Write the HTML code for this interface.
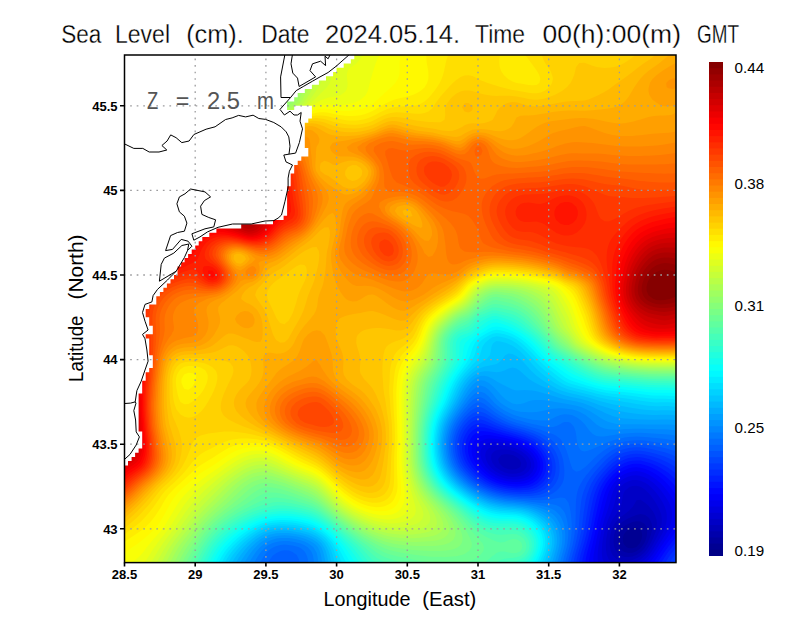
<!DOCTYPE html>
<html><head><meta charset="utf-8"><title>Sea Level</title>
<style>html,body{margin:0;padding:0;background:#fff}svg{display:block}text{font-family:"Liberation Sans",sans-serif}</style></head><body>
<svg width="800" height="618" viewBox="0 0 800 618">
<rect width="800" height="618" fill="#fff"/>
<defs><clipPath id="c"><rect x="124.5" y="55" width="551.5" height="507.6"/></clipPath></defs>
<g clip-path="url(#c)" shape-rendering="geometricPrecision">
<rect x="122.5" y="53" width="555.5" height="511.6" fill="#000086"/>
<path fill="#000093" d="M680.5 51l0 516 -560 0 0-516z"/>
<path fill="#00009f" d="M680.5 51l0 516 -560 0 0-516zM626.5 531l-2 2.4 -0.9 1.6 -0.8 4 0.6 4 1.1 2.1 1.9 1.9 2.1 1.1 4 0.2 3.9-1.3 3.6-4 1.6-4 0.6-4 -0.8-4 -0.9-1.3 -4-2.3 -4 0.4 -4 1.7z"/>
<path fill="#0000ac" d="M680.5 51l0 516 -560 0 0-516zM630.3 523l-1.8 0.7 -4 2.3 -1.2 1 -2.8 3 -2.2 5 -0.6 4 0.3 4 1.3 4 1.2 1.8 2.3 2.2 1.7 1 4 1 4-0.3 4-1.4 4-3 1.1-1.3 2.7-4 1.6-4 1-4 0.3-4 -0.7-4 -2-3.3 -4-2.3 -4-0.1 -4 0.8z"/>
<path fill="#0000b9" d="M680.5 51l0 516 -560 0 0-516zM636.4 515l-3.9 1.4 -4 1.9 -4 2.2 -3.5 2.5 -3.7 4 -0.8 1.3 -1.3 2.7 -1.1 4 -0.5 4 0 4 0.7 4 1.7 4 3.8 4 4.7 1.9 4 0.2 4-0.7 3.8-1.4 4.2-2.7 1.5-1.3 2.5-2.8 3.1-5.2 0.9-2 0.9-2 1.4-4 1-4 0.4-4 -0.7-4 -1.9-4 -1.1-1.5 -3.4-2.5 -4.6-1 -4 1z"/>
<path fill="#0000c6" d="M680.5 51l0 516 -560 0 0-516zM501.3 455l-3.1 4 0.9 4 1.4 1.6 2.6 2.4 1.4 0.8 4 1.5 4 0.5 4-0.7 3.7-2.1 1.1-4 -0.8-1.6 -1.4-2.4 -2.6-2 -3.8-2 -4.2-0.8 -4 0zM635.1 503l-2.6 4 -3.8 4 -4.2 3.2 -4 3.1 -1.8 1.7 -2.2 2.2 -1.3 1.8 -2.4 4 -1.5 4 -1 4 -0.5 4 -0.2 4 0.3 4 0.9 4 1.7 3.9 4 4.1 4 1.7 4 0.6 4-0.3 4-1 2.2-1 1.8-0.7 4-2.4 1.1-0.9 2.9-2.6 1.2-1.4 2.8-4 2.2-4 1.8-3.6 1.9-4.4 1.5-4 0.6-2.9 0.4-5.1 -0.4-3.3 -1.6-4.7 -2.2-4 -3.3-4 -0.9-1.3 -3.2-2.7 -4.8-3.3 -4 0.6z"/>
<path fill="#0000d2" d="M680.5 51l0 516 -560 0 0-516zM494.7 451l-2.2 2.1 -1.2 1.9 -0.2 4 1.4 4 3.1 4 4.9 3.5 4 1.8 4 1.1 4 0.4 4-0.2 4-1.2 2.8-1.4 1.2-1.2 2.1-2.8 0.3-4 -1.7-4 -4-4 -4.7-2.8 -2.9-1.2 -5.1-1.2 -4-0.4 -4 0.1 -4 0.7zM629.5 487l-4.8 4 -1.7 4 -0.7 4 -0.6 4 -1.1 4 -2.1 4 -2 2.5 -0.9 1.5 -2.9 4 -2.1 4 -1.7 4 -1.2 4 -0.8 4 -0.6 4 -0.4 4 -0.1 4 0.3 4 0.8 4 1.6 3.9 3.8 4.1 4.2 2.1 4 0.7 4-0.1 4-0.7 4-1.3 4-1.9 4-2.4 4-3.3 1.1-1.1 2.9-3.4 3-4.6 1-1.8 1.3-2.2 2.1-4 2-4 1.8-4 0.8-2.7 1.2-5.3 0.1-4 -0.5-4 -0.8-2.6 -2.4-5.4 -1.6-2.9 -3.2-5.1 -3-4 -1.8-2 -2-2 -2-1.7 -3.4-2.3 -4.6-1.3 -4 0.2z"/>
<path fill="#0000df" d="M680.5 51l0 516 -46.8 0 2.8-1.4 3.9-2.6 4.1-3.2 4-4.1 3.5-4.7 2.5-4 2-3.4 2.8-4.6 1.2-2.3 1-1.7 2-4 1-2.5 0.6-1.5 1.2-4 0.5-4 0-4 -0.6-4 -1.3-4 -1.9-4 -2.4-4 -2.7-4 -1.4-1.8 -1.8-2.2 -2.2-2.3 -1.7-1.7 -2.3-1.9 -3-2.1 -5-2.3 -4-0.8 -4 0.2 -4 1.1 -3.6 1.8 -4.4 3.7 -2.5 4.3 -1.5 3.8 -1 4.2 -0.9 4 -1.1 4 -1 2.3 -0.6 1.7 -1.8 4 -1.6 3.4 -1.7 4.6 -1.3 4 -1 3.7 -0.9 4.3 -0.7 4 -0.5 4 -0.4 4 -0.2 4 0.1 4 0.7 4 1.6 4 3.2 4 -486.9 0 0-516zM490.5 447l-2 1.4 -2.3 2.6 -1 4 0.6 4 1.8 4 0.9 1.4 1.9 2.6 2.1 2 2.4 2 1.6 1 4 2.1 2.2 0.9 1.8 0.6 4 0.9 4 0.4 4-0.1 4-0.7 3.2-1.1 4.8-3.5 2.5-4.5 0.1-4 -1.6-4 -1-1.4 -2.2-2.6 -1.8-1.6 -3.4-2.4 -4.6-2.2 -4-1.5 -4-0.9 -4-0.6 -4-0.3 -4 0.1 -4 0.6z"/>
<path fill="#0000ec" d="M680.5 51l0 516 -40 0 4-3.3 4-4 3.8-4.7 2.8-4 1.4-2.3 1.1-1.7 2.5-4 2.6-4 1.8-2.9 3-5.1 1-2.1 0.9-1.9 1.5-4 0.8-4 0.4-4 -0.3-4 -0.9-4 -1.7-4 -0.7-1.3 -1.5-2.7 -2.5-3.7 -3.2-4.3 -3.5-4 -1.3-1.3 -2.9-2.7 -5.1-3.7 -4-2 -4-1.4 -4-0.6 -4 0.2 -4 1 -4 1.8 -4 2.8 -2 1.9 -2 2.3 -1.2 1.7 -2.1 4 -0.7 1.9 -0.7 2.1 -1.1 4 -1.1 4 -1.1 3.9 -1.2 4.1 -1.4 4 -1.4 4 -1.1 4 -1.1 4 -1 4 -0.8 4 -0.8 4 -0.7 4 -0.6 4 -0.5 4 -0.3 4 0 4 0.7 4 1.5 4 -479.3 0 0-516zM487.6 443l-3.1 1.6 -2.4 2.4 -1.6 3.5 -0.2 4.5 1 4 2 4 1.2 1.8 1.6 2.2 2.4 2.5 1.5 1.5 2.5 1.8 3.4 2.2 4.6 2 4 1.3 3 0.7 5 0.6 4 0 4-0.5 4-1.1 4-2.1 1.1-0.9 2.9-3.2 2-4.8 -0.1-4 -1.3-4 -2.7-4 -1.9-2 -2.4-2 -1.6-1.1 -4-2.3 -4-1.7 -4-1.3 -4-1 -3.1-0.6 -4.9-0.7 -4-0.3 -4 0.1 -4 0.6z"/>
<path fill="#0000f9" d="M680.5 51l0 516 -34.9 0 2.9-3 4-4.8 3.1-4.2 0.9-1.4 1.7-2.6 2.3-3.5 3.1-4.5 0.9-1.4 1.9-2.6 2.1-3.2 3.2-4.8 0.8-1.5 1.4-2.5 1.5-4 1.1-4 0.5-4 0-4 -0.5-3.2 -1.6-4.8 -2-4 -2.6-4 -1.8-2.4 -1.2-1.6 -2.8-3.5 -4-4.2 -4-3.5 -4-2.9 -3.1-1.9 -4.9-2.2 -4-1.2 -4-0.5 -4 0.3 -4 1 -4 1.7 -1.5 0.9 -2.5 1.6 -2.9 2.4 -1.1 1.1 -2.6 2.9 -1.4 2 -1.3 2 -1.9 4 -0.8 2 -0.7 2 -1.1 4 -1.1 4 -1.1 4 -1 4 -1.1 4 -1.2 4 -0.7 2.7 -1.2 5.3 -0.9 4 -0.9 4 -0.8 4 -0.8 4 -0.9 4 -0.7 4 -0.7 4 -0.3 4 0.2 4 0.8 4 -473.8 0 0-516zM485.9 439l-5.4 2.3 -1.9 1.7 -2.1 3.5 -0.9 4.5 0.4 4 0.5 1.7 0.7 2.3 2.1 4 1.2 1.7 1.6 2.3 2.4 2.6 1.3 1.4 2.7 2.2 2.4 1.8 1.6 0.9 4 2.1 2.3 1 1.7 0.6 4 1.1 4 0.8 4 0.4 4 0.1 4-0.3 4-0.9 4-1.5 4-2.8 1.4-1.5 2.6-4 1-4 -0.1-4 -0.9-3.2 -2.6-4.8 -1.4-1.7 -2.2-2.3 -1.8-1.5 -3.7-2.5 -4.3-2.1 -4-1.6 -4-1.3 -4-0.9 -4-0.8 -4-0.8 -3.7-0.5 -4.3-0.4 -4 0z"/>
<path fill="#0006ff" d="M680.5 51l0 452 -2.1-4 -1.9-3.2 -3.4-4.8 -3.1-4 -1.5-1.7 -2.1-2.3 -1.9-1.9 -2.3-2.1 -1.7-1.4 -3.5-2.6 -4.5-2.7 -2.4-1.3 -1.6-0.7 -4-1.6 -4-1 -4-0.4 -4 0.3 -4 1 -4 1.6 -1.4 0.8 -2.6 1.5 -3.2 2.5 -4.1 4 -3.2 4 -1.5 2.4 -1 1.6 -1.8 4 -1.2 3.2 -1.4 4.8 -1.1 4 -0.9 4 -0.6 2.2 -0.4 1.8 -1 4 -1 4 -0.9 4 -0.7 3.3 -1 4.7 -0.9 4 -0.9 4 -0.9 4 -1 4 -0.9 4 -0.9 4 -0.7 4 -0.1 4 0.5 4 -469.2 0 0-516zM475.8 439l-2.8 4 -0.5 1.5 -0.7 2.5 -0.2 4 0.5 4 1.4 4 2.1 4 0.9 1.2 2 2.8 2 2.3 1.5 1.7 2.5 2.2 2.2 1.8 1.8 1.2 4 2.4 4 1.9 4 1.4 3.9 1.1 4.1 0.7 4 0.4 4 0.2 4-0.2 4-0.6 1.7-0.5 2.3-0.8 4-2.1 1.5-1.1 2.5-2.6 1.1-1.4 2-4 0.8-4 -0.1-4 -1.1-4 -2.1-4 -3.2-4 -1.4-1.4 -3.2-2.6 -4.8-2.8 -2.6-1.2 -1.4-0.6 -4-1.4 -4-1.3 -2.8-0.7 -5.2-1.2 -4-0.8 -4-0.8 -4-0.7 -4-0.4 -4-0.1 -4 0.9 -4 2.3zM680.5 521.1l0 45.9 -30.4 0 2.4-2.9 3.7-5.1 2.7-4 1.6-2.4 1.1-1.6 2.7-4 2.9-4 1.3-1.7 1.8-2.3 2.2-3 3.6-5 2.2-4 1.7-4z"/>
<path fill="#0013ff" d="M680.5 51l0 442.2 -1.5-2.2 -2.5-3.2 -4-4.8 -3.9-4 -4.1-3.6 -4-2.9 -2.4-1.5 -1.6-0.9 -4-2.1 -2.3-1 -1.7-0.7 -4-1.3 -4-0.9 -4-0.4 -4 0.4 -4 0.9 -4 1.5 -4 2.2 -3.2 2.3 -4.5 4 -3.6 4 -2.9 4 -1.8 3.1 -2.3 4.9 -1.4 4 -1.1 4 -1 4 -0.9 4 -0.9 4 -0.9 4 -0.9 4 -0.8 4 -0.8 4 -0.8 4 -0.9 4 -0.9 4 -1.1 4 -1.1 4 -1.1 4 -1 4 -0.8 4 -0.3 4 0.2 4 -465.2 0 0-516zM473.6 435l-1.1 1.1 -1.9 2.9 -1.8 4 -0.7 4 -0.1 4 0.5 2.9 1.6 5.1 2.1 4 2.8 4 1.5 1.7 2 2.3 2 1.9 2.4 2.1 1.6 1.2 4 2.7 4 2.1 4 1.7 4 1.3 4 1 4 0.7 4 0.5 4 0.2 4-0.1 4-0.5 4-0.9 4-1.6 4-2.8 1.6-1.5 2.4-3.2 2.1-4.8 0.7-4 -0.2-4 -1-4 -1.6-3.3 -3.2-4.7 -4-4 -4.8-3.3 -1.3-0.7 -2.7-1.3 -4-1.6 -3.1-1.1 -4.9-1.5 -4-1 -4-1 -2.1-0.5 -1.9-0.5 -4-0.9 -4-1 -4-0.8 -4-0.6 -4 0.1 -4 1.5zM680.5 531.1l0 35.9 -26.2 0 2.2-3 3.3-5 2.6-4 2.1-3.1 3.5-4.9 3.2-4 1.3-1.7 2-2.3 2-2.5 1.2-1.5z"/>
<path fill="#0020ff" d="M680.5 51l0 434.1 -1.8-2.1 -2.2-2.4 -1.4-1.6 -2.6-2.5 -1.7-1.5 -2.3-1.9 -2.9-2.1 -5.1-3.1 -1.6-0.9 -2.4-1.2 -4-1.7 -2.7-1.1 -5.3-1.6 -4-0.8 -4-0.2 -4 0.3 -4 0.8 -4 1.4 -4 2 -3.1 2.1 -4.7 4 -3.9 4 -3.3 4 -1 1.4 -1.7 2.6 -2.2 4 -1.7 4 -1.4 4 -1 3.7 -1.1 4.3 -0.8 4 -0.9 4 -0.8 4 -0.4 2.3 -1 5.7 -0.8 4 -0.8 4 -0.9 4 -0.5 2 -0.5 2 -1.1 4 -1.1 4 -1.2 4 -1.1 4 -0.9 4 -0.4 4 0 4 -461.7 0 0-516zM472 431l-3.4 4 -2 4 -1.2 4 -0.6 4 0.1 4 0.8 4 1.3 4 1.5 3.1 3.2 4.9 3.5 4 1.3 1.3 2.9 2.7 1.1 0.9 4 3 4 2.4 3.4 1.7 4.6 1.8 4 1.2 3.8 1 4.2 0.7 4 0.4 4 0.3 4-0.1 4-0.3 4-0.6 4-1.3 4-2.1 1.4-1 2.6-2.4 1.4-1.6 2.4-4 1.4-4 0.5-4 -0.2-4 -1-4 -1.8-4 -2.6-4 -3.7-4 -4.4-3.5 -4-2.3 -4-1.8 -4-1.5 -4-1.3 -4-1.2 -4-1.1 -4-1.1 -4-1.1 -4-1.1 -4-1.2 -4-1.2 -4-1 -4-0.4 -4 0.8 -4 2.5zM680.5 537.3l0 29.7 -20 0 0-3.1 3-4.9 1-1.5 1.6-2.5 2.4-3.4 3.6-4.6 3.4-4 1-1.2 2.6-2.8z"/>
<path fill="#002dff" d="M680.5 51l0 426.7 -2.8-2.7 -1.2-1.1 -3.5-2.9 -4.5-3.1 -1.4-0.9 -2.6-1.5 -4-2 -4-1.7 -4-1.6 -3.8-1.2 -4.2-1.1 -4-0.6 -4-0.2 -4 0.3 -4 0.7 -2.7 0.9 -5.3 2.3 -2.8 1.7 -1.2 0.8 -3.9 3.2 -4.1 4 -3.5 4 -3.2 4 -1.3 2 -1.3 2 -2 4 -0.7 1.7 -1 2.3 -1.3 4 -1.1 4 -0.6 2.7 -1.1 5.3 -0.8 4 -0.7 4 -0.7 4 -0.6 4 -0.7 4 -0.8 4 -0.9 4 -1 4 -0.7 2.5 -1.6 5.5 -1.2 4 -1.2 4 -0.9 4 -0.5 4 -0.1 4 -458.5 0 0-516zM471.1 427l-2.6 2.6 -1 1.4 -2.5 4 -1.6 4 -1 4 -0.4 4 0.2 4 0.7 4 1.2 4 2 4 2.4 3.7 3.6 4.3 4 4 4.4 3.6 4 2.7 3 1.7 5 2.3 4 1.5 4 1.2 4 0.8 4 0.7 4 0.5 4 0.3 4 0 4-0.2 4-0.4 4-1 4-1.5 4-2.6 1.8-1.6 2.2-2.6 1-1.4 2.1-4 0.9-3.1 0.7-4.9 -0.3-4 -0.4-1.8 -0.5-2.2 -1.7-4 -1.8-2.9 -4-5 -4-3.6 -4-2.7 -3.5-1.8 -4.5-1.9 -4-1.4 -2.2-0.7 -1.8-0.6 -4-1.1 -4-1.2 -3.9-1.1 -4.1-1.3 -4-1.3 -4-1.4 -4-1.6 -4-1.4 -4-0.8 -4 0.5 -4 2.1zM680.5 542.9l0 24.1 -16 0 0-2.9 3-5.1 1-1.5 1.7-2.5 2.3-3.1 4-4.8 3.9-4.1z"/>
<path fill="#0039ff" d="M680.5 51l0 420 -4-3.1 -1.2-0.9 -2.8-1.8 -3.8-2.2 -4.2-2 -4-1.7 -4-1.5 -4-1.3 -4-1.1 -1.9-0.4 -2.1-0.4 -4-0.6 -4-0.2 -4 0.3 -4 0.7 -4 1.2 -4 1.7 -2.3 1.3 -1.7 1 -4 3 -4 3.7 -4 4.3 -3.4 4 -3 4 -1.6 2.6 -0.9 1.4 -2 4 -1.1 2.9 -1.8 5.1 -1 4 -0.9 4 -0.3 1.8 -0.4 2.2 -0.7 4 -0.7 4 -0.6 4 -0.5 4 -0.6 4 -0.5 2.8 -1.2 5.2 -1 4 -1 4 -0.8 2.7 -1.6 5.3 -1.1 4 -1 4 -0.3 2.2 -0.3 1.8 -0.3 4 -455.4 0 0-516zM470.7 423l-2.2 1.9 -1.8 2.1 -2.2 2.9 -2.6 5.1 -1.4 3.8 -0.8 4.2 -0.3 4 0.2 4 0.7 4 1.3 4 1.8 4 1.1 1.9 1.4 2.1 2.6 3.3 4 4.2 4 3.5 1.2 1 2.8 2 3.1 2 4.9 2.5 3.4 1.5 4.6 1.6 4 1.2 4 0.9 2 0.3 2 0.3 4 0.5 4 0.3 4 0.1 4-0.1 4-0.3 4-0.6 4-1.2 4-1.9 1.7-1.1 2.3-1.9 2-2.1 2-2.8 2.5-5.2 1-4 0.3-4 -0.3-4 -0.9-4 -1.5-4 -1.1-1.8 -1.3-2.2 -2.7-3.4 -4-4.1 -4-3 -2.5-1.5 -1.5-0.8 -4-1.8 -3.6-1.4 -4.4-1.5 -4-1.2 -4-1.1 -4-1.3 -4-1.2 -4-1.4 -4-1.5 -4-1.7 -2.4-1.1 -1.6-0.8 -4-1.7 -4-1 -4 0.3 -4 1.8zM680.5 548.5l0 18.5 -12 0 0-2.1 1-1.9 2.3-4 3-4 1.7-2.1 1.7-1.9z"/>
<path fill="#0046ff" d="M680.5 51l0 412 -2.8 0 -5.2-3 -2.1-1 -1.9-0.8 -4-1.6 -4-1.4 -4-1.2 -4-1.1 -4-1 -4-0.7 -4-0.5 -4-0.2 -4 0.3 -4 0.6 -4 1.1 -4 1.5 -1.9 1 -2.1 1.1 -4 2.8 -4 3.4 -4 4.1 -4 4.3 -3.6 4.3 -2.8 4 -1.6 2.7 -0.8 1.3 -1.9 4 -1.3 3.4 -1.6 4.6 -1 4 -0.7 4 -0.6 4 -0.7 4 -0.5 4 -0.5 4 -0.5 4 -0.5 4 -0.6 4 -0.8 3.7 -1 4.3 -1 4 -1.1 4 -0.9 3 -1.4 5 -1 4 -0.7 4 -0.4 4 -452.5 0 0-516zM470.6 419l-2.1 1.6 -2.2 2.4 -1.8 2.1 -1.3 1.9 -2.4 4 -1.6 4 -1.2 4 -0.8 4 -0.2 4 0.3 4 0.7 4 1.2 4 1.3 3.2 2.8 4.8 1.2 1.6 1.9 2.4 2.1 2.3 1.7 1.7 2.3 2.1 2.2 1.9 1.8 1.4 3.6 2.6 4.4 2.5 3 1.5 5 2.1 4 1.3 2 0.6 2 0.5 4 0.9 4 0.6 4 0.5 4 0.3 4 0.2 4 0 4-0.1 4-0.4 4-0.8 4-1.3 4-2.2 2.9-2.2 1.1-1.2 2.4-2.8 1.6-2.6 0.8-1.4 1.5-4 0.7-4 0.2-4 -0.3-4 -0.9-4 -1.4-4 -2.2-4 -2.4-3.2 -4-4.4 -4-3.3 -1.6-1.1 -2.4-1.4 -4-2 -1.5-0.6 -2.5-1 -4-1.4 -4-1.3 -4-1.2 -4-1.1 -4-1.3 -2.1-0.7 -1.9-0.7 -4-1.5 -4-1.7 -4-2.1 -3.7-2 -4.3-2.2 -4-1.1 -4 0.2 -4 1.7zM680.5 554.7l0 12.3 -8 0 1.9-4 2.1-3.5 3.8-4.5z"/>
<path fill="#0053ff" d="M680.5 51l0 408 -4-2.1 -4-1.8 -4-1.6 -4-1.3 -4-1 -4-1 -4-0.9 -4-0.9 -4-0.7 -4-0.4 -4-0.1 -4 0.2 -4 0.6 -4 0.9 -4 1.4 -1.6 0.7 -2.4 1.1 -4 2.5 -4 3 -1.6 1.4 -2.4 2.3 -1.6 1.7 -2.4 2.6 -1.4 1.4 -2.6 2.9 -1 1.1 -3 3.8 -3 4.2 -1 1.8 -1.3 2.2 -1.8 4 -0.9 2.3 -0.7 1.7 -1.3 4 -0.9 4 -0.6 4 -0.4 4 -0.5 4 -0.4 4 -0.3 4 -0.3 4 -0.4 4 -0.6 4 -0.7 4 -0.8 4 -0.9 4 -1 4 -1.1 4 -1.1 3.7 -1.1 4.3 -0.8 4 -0.4 4 -449.7 0 0-516zM470.7 415l-2.2 1.6 -2.3 2.4 -1.7 1.8 -1.7 2.2 -2.3 3.4 -2.3 4.6 -1.6 4 -1 4 -0.6 4 -0.2 4 0.3 4 0.7 4 0.7 2.6 2.1 5.4 1.9 3.5 3.3 4.5 3.7 4 1 1 3.3 3 4.7 3.7 4 2.6 3 1.7 5 2.3 4 1.6 4 1.3 4 1 4 0.8 4 0.7 2.6 0.3 5.4 0.5 4 0.2 4 0.1 4 0.1 4-0.2 4-0.4 1.9-0.3 2.1-0.5 4-1.4 3.8-2.1 4.2-3.6 3.4-4.4 2-4 1.1-4 0.5-4 0-4 -0.4-4 -0.7-4 -1.4-4 -1.9-4 -2.6-3.8 -3.8-4.2 -4.2-3.6 -4-2.6 -3.4-1.8 -4.6-2 -4-1.4 -1.8-0.6 -2.2-0.8 -4-1.2 -4-1.1 -3.1-0.9 -4.9-1.7 -4-1.5 -2-0.8 -2-0.9 -4-2 -2-1.1 -2-1.3 -4-2.5 -4-2.2 -4-1.3 -4 0.1 -4 1.8zM680.5 562.8l0 4.2 -2.3 0 2.2-4z"/>
<path fill="#0060ff" d="M680.5 51l0 402.5 -4-1.8 -1.7-0.7 -2.3-0.8 -4-1.3 -4-1 -4-0.8 -4-0.7 -4-0.8 -4-0.8 -4-0.5 -4-0.4 -4-0.2 -4 0.3 -4 0.5 -4 0.8 -4 1.1 -1.5 0.6 -2.5 1 -4 2.1 -1.5 0.9 -2.5 1.7 -3 2.3 -4.4 4 -3.9 4 -3.8 4 -3.6 4 -1.3 1.7 -2.1 2.3 -1.9 2.8 -1 1.2 -2.4 4 -2.1 4 -1.4 4 -0.9 4 -0.2 1.8 -0.3 2.2 -0.3 4 -0.1 4 -0.1 4 0 4 -0.1 4 -0.1 4 -0.2 4 -0.4 4 -0.5 4 -0.6 4 -0.8 4 -0.5 2 -0.5 2 -1.1 4 -1.1 4 -1.1 4 -0.8 4 -0.6 4 -446.8 0 0-516zM470.6 411l-2.1 1.7 -2.2 2.3 -1.8 1.8 -1.7 2.2 -2.3 3 -2.9 5 -1.1 2.2 -0.8 1.8 -1.3 4 -1 4 -0.5 4 -0.2 4 0.3 4 0.7 4 1.2 4 1.5 4 2.1 4 2 2.9 0.9 1.1 3.1 3.6 4 3.9 4 3.3 1.5 1.2 2.5 1.8 3.5 2.2 4.5 2.3 3.8 1.7 4.2 1.6 4 1.2 4 1.1 4 0.8 4 0.6 4 0.4 4 0.4 4 0.3 4 0.2 4 0.2 4 0.1 4-0.1 4-0.4 4-0.7 4-1.2 4-2 3.7-2.5 3.8-4 2.5-4 1.3-4 0.5-4 0.1-4 -0.3-4 -0.5-4 -0.7-4 -1.2-4 -1.2-3 -2.6-5 -1.4-1.9 -1.7-2.1 -2.3-2.2 -2.1-1.8 -1.9-1.3 -4-2.4 -4-2 -4-1.6 -2-0.7 -2-0.7 -4-1.3 -4-1.2 -2.8-0.8 -5.2-1.5 -4-1.2 -3.5-1.3 -4.5-2 -4-1.9 -4-2.3 -2.8-1.8 -1.2-0.8 -4-2.8 -4-2.6 -4-1.6 -4 0.2 -4 2z"/>
<path fill="#006cff" d="M680.5 51l0 396 -2.5 0 -5.5-1.8 -4-0.9 -4-0.8 -3.4-0.5 -4.6-0.6 -4-0.7 -4-0.6 -4-0.5 -4-0.3 -4 0 -4 0.1 -4 0.5 -4 0.6 -4 1 -1.7 0.5 -2.3 0.8 -4 1.6 -3.1 1.6 -4.9 3 -1.5 1 -2.5 1.9 -2.7 2.1 -1.3 1.2 -3 2.8 -4 4 -4.2 4 -4.8 3.5 -1.7 0.5 -2.3 0.8 -1.4-0.8 -2.6-2 -0.8-2 -1.4-4 -1.2-4 -0.6-1.9 -0.5-2.1 -1.3-4 -1.7-4 -1.9-4 -2.6-3.9 -4-3.2 -1.6-0.9 -2.4-0.9 -4-1.5 -4-1.4 -4-1.5 -4-1.2 -4-1.1 -1.6-0.4 -2.4-0.7 -4-1.3 -4-1.1 -3.6-0.9 -4.4-1.5 -4-1.6 -1.9-0.9 -2.1-1 -4-2.2 -1.3-0.8 -2.7-1.8 -3.1-2.2 -4.9-3.9 -4-3.1 -2.2-1 -1.8-0.8 -4 0.3 -4 2.4 -2.1 2.1 -1.9 1.6 -2.1 2.4 -1.9 2 -1.6 2 -2.4 3 -3.2 5 -0.8 1.3 -1.3 2.7 -1.7 4 -1 3.1 -1.1 4.9 -0.5 4 -0.1 4 0.3 4 0.7 4 0.7 2.9 1.9 5.1 2 4 2.7 4 1.4 1.8 1.9 2.2 2.1 2.1 2 1.9 2 1.8 2.7 2.2 1.3 1 4 2.8 4 2.3 3.7 1.9 4.3 1.8 4 1.5 2.3 0.7 1.7 0.5 4 1 4 0.7 4 0.6 4 0.5 4 0.4 3.8 0.3 4.2 0.3 4 0.3 4 0.3 4 0.2 4 0.1 4-0.1 4-0.4 4-0.6 4-0.8 4-0.7 4 0.3 1.3 1.1 2.7 3.8 1.1 4.2 0.8 4 0.6 4 0.4 4 0.3 4 0.1 4 -0.1 4 -0.3 4 -0.5 4 -0.6 4 -0.9 4 -0.9 3.3 -1.3 4.7 -1.1 4 -0.9 4 -0.6 4 -263.9 0 -0.9-4 -1.1-4 -1.9-4 -4.3-3.1 -2.2-0.9 -1.8-0.4 -4-0.3 -4 0.6 -4 2 -2.9 2.1 -1.1 1.1 -2.2 2.9 -1.8 2.7 -2.5 5.3 -145.5 0 0-516z"/>
<path fill="#0079ff" d="M680.5 51l0 391.5 -4-1.3 -4-1 -4-0.7 -3.5-0.5 -4.5-0.5 -4-0.4 -4-0.4 -4-0.4 -4-0.4 -4-0.2 -4-0.1 -4 0.2 -4 0.3 -4 0.5 -4 0.8 -2.7 0.6 -5.3 1.5 -4 1.4 -2.6 1.1 -1.4 0.7 -4 1.7 -3.6 1.6 -4.4 1.9 -4 1.7 -1.9 0.4 -2.1 0.6 -2.2-0.6 -1.8-0.9 -1.8-3.1 -1.4-4 -0.7-4 -0.4-4 -0.7-4 -1.5-4 -1.5-2 -2-2 -2-1 -4 0 -2.5 1 -1.5 0.9 -4 2.1 -3.5 1 -4.5 0.2 -4-0.6 -4-0.9 -4-0.9 -4-0.7 -4-1 -4-1.2 -4-1.1 -4-1.1 -2.2-0.7 -1.8-0.7 -4-1.8 -3.1-1.5 -4.9-2.9 -1.6-1.1 -2.4-1.7 -2.9-2.3 -1.1-1 -3.2-3 -4.6-4 -4.2-1.8 -4 0.5 -2 1.3 -2 1.3 -2.6 2.7 -1.4 1.3 -2.1 2.7 -1.9 2.1 -1.4 1.9 -2.6 3.2 -3.3 4.8 -2.3 4 -2 4 -1.5 4 -1.1 4 -0.8 4 -0.5 4 -0.1 4 0.3 4 0.7 4 1 4 1.4 4 2 4 2.2 3.5 3.6 4.5 3.9 4 4.5 4 4 3 1.5 1 2.5 1.6 4 2.3 4 1.9 4 1.7 4 1.4 4 1.2 4 1 4 0.7 4 0.6 4 0.4 4 0.4 4 0.4 4 0.4 4 0.4 4 0.5 4 0.5 4 0.5 4 0.4 4 0.4 4 0.5 4 1 3.6 1.8 3.6 4 0.8 1.3 1.1 2.7 1.2 4 0.8 4 0.5 4 0.2 4 0 4 -0.3 4 -0.5 4 -0.7 4 -1.1 4 -1.2 4 -1 4 -0.9 4 -0.8 4 -253 0 -0.3-3.3 -0.7-4.7 -1.2-4 -2.1-3.7 -4-3.2 -2.2-1.1 -1.8-0.6 -4-0.9 -4-0.6 -4-0.3 -4 0.4 -4 1 -2.5 1 -1.5 0.8 -4 2.8 -3.9 4.4 -2.5 4 -1.6 3 -2.2 5 -137.8 0 0-516z"/>
<path fill="#0086ff" d="M680.5 51l0 386.1 -4-1.2 -4-0.8 -4-0.6 -4-0.3 -4-0.3 -4-0.2 -4-0.2 -4-0.3 -4-0.2 -4-0.2 -4 0 -4 0.1 -4 0.3 -4 0.4 -4 0.4 -4 0.6 -2.6 0.4 -5.4 0.8 -4 0.6 -4 0.1 -4-0.6 -2-0.9 -2-1.2 -2.7-2.8 -1.3-1.5 -1.7-2.5 -2.3-2.9 -4-4.2 -4-2.7 -4-1.9 -4-0.9 -4-0.1 -4 0.6 -4 1.6 -4 2.1 -4 1.6 -4 0.3 -4-0.1 -4-0.3 -4-0.4 -3.8-0.7 -4.2-1.1 -4-1 -4-1.1 -2.6-0.8 -5.4-2.4 -3.1-1.6 -4.9-3.1 -1.2-0.9 -2.8-2.2 -2-1.8 -2-2.2 -1.6-1.8 -2.4-2.7 -1.6-1.3 -2.4-2 -4-1.3 -4 0.9 -3.4 2.4 -3.8 4 -3.1 4 -1.7 2 -1.4 2 -2.6 3.5 -3.1 4.5 -0.9 1.3 -1.7 2.7 -2.2 4 -1.8 4 -1.4 4 -0.9 3.3 -0.9 4.7 -0.4 4 0 4 0.3 4 0.6 4 0.4 1.7 0.6 2.3 1.4 4 1.8 4 2.5 4 1.7 2.3 1.4 1.7 2.6 2.9 1.1 1.1 2.9 2.7 1.5 1.3 2.5 2 2.7 2 1.3 0.9 4 2.6 4 2.2 4 1.9 4 1.6 4 1.4 4 1.1 4 0.9 4 0.8 4 0.5 4 0.4 4 0.4 4 0.4 4 0.5 2.8 0.4 5.2 0.9 4 0.7 4 0.9 4 0.9 2.3 0.6 1.7 0.5 4 1.7 3.1 1.8 4 4 0.9 1.3 1.4 2.7 1.6 4 1 4 0.5 4 0.3 4 -0.1 4 -0.4 4 -0.3 1.7 -0.4 2.3 -1 4 -1.1 4 -1.1 4 -1 4 -0.8 4 -244.7 0 -0.4-4 -0.4-4 -0.8-4 -1.8-4 -2.5-2.8 -1.2-1.2 -2.8-1.7 -4-1.8 -4-1.1 -4-0.7 -4-0.6 -4-0.2 -4 0.3 -4 0.7 -3.7 1.1 -4.3 2.1 -2.8 1.9 -1.2 1.1 -2.8 2.9 -1.2 1.5 -1.8 2.5 -2.2 3.6 -2.3 4.4 -1.7 3.7 -4 0.3 -128 0 0-516z"/>
<path fill="#0093ff" d="M680.5 51l0 380 -2.5 0 -5.5-1.1 -4-0.4 -4-0.2 -4-0.1 -4 0 -4-0.1 -4-0.2 -4-0.1 -4 0 -4 0 -4 0 -4 0.1 -4 0.2 -4 0.3 -4 0.1 -4 0 -4-0.3 -4-0.7 -4-1.5 -4-2.6 -1.6-1.4 -2.4-2.1 -2-1.9 -2-1.6 -3.1-2.4 -4.9-2.7 -3-1.3 -5-1.4 -4-0.7 -4-0.4 -4-0.2 -4 0.1 -4 0.4 -4 0.7 -4 0.9 -2.4 0.6 -5.6 1 -4 0.3 -4 0 -4-0.2 -4-0.4 -4-0.7 -4-1.3 -4-1.8 -1.6-0.9 -2.4-1.5 -3.7-2.5 -4.2-4 -3.1-4 -1-1.2 -2.5-2.8 -1.5-1.5 -3.4-2.5 -4.6-1.4 -4 1.4 -4 3.2 -4 4.7 -2.8 4.1 -1.2 1.7 -1.4 2.3 -2.6 3.7 -2.9 4.3 -1.1 1.6 -1.5 2.4 -2.5 4 -2 4 -1.7 4 -1.3 4 -1 4 -0.6 4 -0.4 4 -0.1 4 0.4 4 0.6 4 0.9 4 1.2 3.7 1.9 4.3 2.1 3.6 3.2 4.4 3.6 4 1.2 1.2 3 2.8 5 4 4 2.7 2 1.3 2 1.2 4 2.2 4 1.9 4 1.6 3.4 1.1 4.6 1.3 4 0.9 4 0.7 4 0.5 4 0.4 4 0.4 4 0.5 4 0.5 4 0.7 4 0.9 4 1 4 1.2 4 1.4 3.4 1.6 4.6 3 1.3 1 2.7 3.1 2.9 4.9 1.1 2.9 1.3 5.1 0.5 4 0.1 4 -0.3 4 -0.6 4 -1 3.9 -1.1 4.1 -1.1 4 -1.1 4 -0.7 3.3 -4 0.7 -232 0 -2.1-4 -0.5-4 -0.7-4 -0.7-2.6 -3.3-5.4 -4.7-3.5 -4-1.9 -4-1.3 -4-1 -4-0.7 -4-0.5 -4-0.2 -4 0.2 -4 0.5 -4 1.1 -4 1.5 -3.3 1.8 -4.7 3.7 -3.9 4.3 -2.8 4 -1.3 2 -1.2 2 -2.2 4 -1.9 4 -126.7 0 0-516z"/>
<path fill="#009fff" d="M680.5 51l0 375.3 -4-0.9 -4-0.6 -4-0.3 -4-0.1 -4 0 -4 0.1 -4 0 -4-0.1 -4 0 -4-0.1 -4 0 -4-0.1 -4 0 -4 0 -4 0 -4-0.3 -4-0.8 -4-1.2 -4-1.6 -2.2-1.3 -1.8-1 -4-2.8 -4-2.5 -2.7-1.7 -5.3-2.6 -3.5-1.4 -4.5-1.2 -4-0.9 -4-0.7 -4-0.7 -3-0.5 -5-0.8 -4-0.8 -4-0.7 -4-0.5 -4-0.2 -4 0 -4 0.2 -4 1.1 -4 1.6 -4 1.1 -4 0.2 -4-0.8 -4-2.1 -3.4-2.3 -4.2-4 -3.5-4 -3.8-4 -4.7-4 -4.4-2.3 -4-0.5 -4 1.5 -1.6 1.3 -2.4 2.1 -1.6 1.9 -2.4 2.8 -3.4 5.2 -2.4 4 -2.2 3.6 -2.7 4.4 -1.3 1.9 -1.3 2.1 -2.5 4 -2.3 4 -1.9 3.8 -1.6 4.2 -1.2 4 -0.9 4 -0.7 4 -0.3 4 0 4 0.3 4 0.4 2.9 1.1 5.1 1.3 4 1.6 3.9 2.3 4.1 1.7 2.5 1.1 1.5 2.9 3.4 4 4 4 3.4 1.5 1.2 2.5 1.8 3.2 2.2 4.8 3 1.9 1 2.1 1.1 4 1.8 2.7 1.1 5.3 1.8 4 1.1 4 0.9 4 0.6 4 0.5 4 0.4 4 0.4 4 0.5 4 0.6 4 0.8 4 1.1 4 1.2 4 1.6 4 2 4 2.5 4 3.7 3.1 4.3 0.9 1.9 1 2.1 1.2 4 0.7 4 0.3 4 -0.2 4 -0.6 4 -1 4 -1.1 4 -1.1 4 -1.1 4 -1 4 -229.1 0 -2.4-4 -0.5-4 -0.7-4 -1.2-4 -2-4 -1.2-1.4 -3-2.6 -5-2.7 -2.9-1.3 -5.1-1.5 -4-0.9 -4-0.6 -4-0.5 -4-0.2 -4 0.1 -4 0.5 -4 0.8 -4 1.3 -2.2 1 -1.8 0.9 -4 2.7 -4 3.6 -4 4.4 -3.3 4.4 -2.5 4 -2.2 3.8 -2.1 4.2 -121.9 0 0-516z"/>
<path fill="#00acff" d="M680.5 51l0 370.3 -4-1 -4-0.5 -4-0.3 -4 0 -4 0.1 -4 0.1 -4 0 -4 0 -4-0.1 -4-0.1 -4-0.2 -4-0.3 -4-0.3 -4-0.3 -4-0.5 -4-0.8 -4-1.2 -2.2-0.9 -1.8-0.6 -4-1.7 -3.3-1.7 -4.7-2.1 -3.8-1.9 -4.2-1.7 -4-1.6 -2.1-0.7 -1.9-0.5 -4-0.9 -4-0.8 -4-0.8 -4-0.8 -4-1 -4-1.1 -4-1.3 -2.6-0.8 -5.4-1.6 -4-1.2 -4-0.9 -4-0.7 -4-0.4 -4-0.1 -4 0.2 -4 0.1 -4-0.9 -4-1.9 -4-2.1 -4-2 -4-2.2 -3.5-2.3 -4.5-2.3 -4-0.9 -4 0.1 -4 1.5 -2.2 1.6 -1.8 1.5 -2.4 2.5 -1.6 1.9 -1.5 2.1 -2.5 3.8 -2.3 4.2 -1.7 3 -2.8 5 -1.2 2 -1.2 2 -2.4 4 -2.4 4 -2 3.6 -2 4.4 -1.5 4 -0.5 1.8 -0.6 2.2 -0.8 4 -0.6 4 -0.3 4 0 4 0.3 4 0.6 4 0.8 4 0.6 2 0.6 2 1.7 4 1.7 3.3 3.1 4.7 0.9 1.1 2.4 2.9 1.6 1.7 2.3 2.3 1.7 1.5 3 2.5 5 3.7 4 2.6 2.8 1.7 5.2 2.8 2.6 1.2 5.4 2.2 4 1.3 2 0.5 2 0.5 4 0.8 4 0.7 4 0.4 4 0.4 4 0.4 4 0.5 1.8 0.3 2.2 0.4 4 0.9 4 1.3 3.8 1.4 4.2 2 3.3 2 4.7 3.8 3.5 4.2 2.3 4 1.5 4 0.7 3.3 0.5 4.7 -0.1 4 -0.4 2.8 -1.1 5.2 -1.1 4 -1.2 4 -0.6 2 -0.6 2 -1.1 4 -224.5 0 -0.8-4 -0.7-4 -0.8-4 -1.1-4 -1.7-4 -3.3-4 -1.4-1.1 -4-2.6 -4-1.8 -4-1.4 -3.9-1.1 -4.1-0.8 -4-0.7 -4-0.4 -4-0.2 -4 0.1 -4 0.3 -4 0.7 -3.7 1 -4.3 1.9 -3.7 2.1 -4.3 3.2 -4 3.7 -1.1 1.1 -2.9 3.3 -3.6 4.7 -2.7 4 -1.7 2.9 -2.6 5.1 -117.4 0 0-516z"/>
<path fill="#00b9ff" d="M680.5 51l0 364 -4 0.5 -3.9-0.5 -4.1-0.3 -4 0 -4 0.1 -4 0.1 -4 0 -4-0.1 -4-0.2 -4-0.4 -4-0.4 -4-0.5 -4-0.5 -4-0.7 -4-0.9 -4-0.9 -4-1 -4-1.2 -3.2-1.1 -4.8-1.6 -4-1.4 -2.5-1 -1.5-0.5 -4-1.4 -4-1.2 -3.2-0.9 -4.8-1 -4-0.8 -4-0.9 -4-1 -4-1.2 -4-1.5 -3.8-1.6 -4.2-1.9 -4-1.8 -4-1.9 -4-2 -4-2.1 -3.5-2.3 -4.5-3.9 -4-3.8 -4-2.9 -4-1 -4 1.2 -4 1.9 -4 1.3 -4 0.4 -4-0.4 -4-0.5 -4 0 -4 0.7 -4 1.7 -1.9 1.3 -2.1 1.5 -2.6 2.5 -1.4 1.5 -2 2.5 -2 2.8 -2.9 5.2 -1.1 1.9 -1 2.1 -2 4 -1 1.7 -1.2 2.3 -2.3 4 -2.3 4 -2.2 3.8 -2.1 4.2 -1.8 4 -1.3 4 -1 4 -0.8 4 -0.5 4 -0.4 4 0 4 0.3 4 0.6 4 0.8 4 1.1 4 1.1 2.8 2.6 5.2 1.4 2.3 1.2 1.7 2.8 3.6 4 4.3 4 3.6 4 3.1 1.9 1.4 2.1 1.4 3.9 2.6 4.1 2.4 3.1 1.6 4.9 2.3 4 1.6 4 1.2 4 1 4 0.8 4 0.6 4 0.4 4 0.4 4 0.4 4 0.5 4 0.8 4 1.1 2.8 0.9 5.2 2.3 3.1 1.7 4.9 3.6 4 4.2 2.7 4.2 1.3 3 1.5 5 0.5 4 0 4 -0.6 4 -0.9 4 -0.5 1.6 -0.7 2.4 -1.3 4 -1.2 4 -0.8 2.6 -4 1.4 -214.8 0 -1-4 -0.9-4 -0.9-4 -1.1-4 -1.3-3.1 -3.2-4.9 -4.6-4 -4.2-2.3 -3.8-1.7 -4.2-1.3 -4-1 -4-0.8 -4-0.7 -1.9-0.2 -2.1-0.2 -4-0.2 -4 0 -4 0.3 -4 0.6 -4 1 -4 1.6 -1.9 0.9 -2.1 1.2 -4 2.6 -4 3.2 -1.1 1 -2.9 2.8 -1.2 1.2 -2.8 3.2 -3.8 4.8 -2.7 4 -1.5 2.5 -0.8 1.5 -1.9 4 -113.3 0 0-516z"/>
<path fill="#00c6ff" d="M680.5 51l0 360 -4 0.1 -4-0.6 -4-0.2 -4 0 -4 0 -4 0.1 -4-0.1 -4-0.2 -4-0.4 -4-0.5 -4-0.6 -4-0.7 -4-0.7 -4-0.7 -4-0.8 -4-0.8 -4-0.7 -4-0.9 -4-1 -4-1.1 -4-1.1 -3.3-1.1 -4.7-1.4 -4-1.1 -4-1 -2.3-0.5 -1.7-0.4 -4-0.8 -4-1 -4-1.2 -1.8-0.6 -2.2-0.8 -4-1.8 -2.6-1.4 -1.4-0.8 -4-2.3 -1.5-0.9 -2.5-1.6 -3.6-2.4 -4.4-3.3 -4-3.6 -1.1-1.1 -2.9-3.2 -4-4.5 -4-4.1 -4-3.2 -2-1 -2-1.1 -4-0.5 -2.8 1.6 -1.2 1 -2.1 3 -1.9 2 -2.4 2 -1.6 0.9 -4 1.1 -4 0.7 -4 0.9 -4 1.3 -4 2 -1.5 1.1 -2.5 1.7 -2.4 2.3 -1.6 1.5 -2.2 2.5 -1.8 2.3 -1.1 1.7 -2.5 4 -2 4 -1.9 4 -1.9 4 -2.1 4 -2.1 4 -2.3 4 -2.2 4 -1.9 3.8 -1.7 4.2 -1.2 4 -1 4 -0.7 4 -0.5 4 -0.2 4 0 4 0.2 4 0.5 4 0.6 3.1 1.3 4.9 1.5 4 1.2 2.5 0.8 1.5 2.4 4 3.1 4 1.7 2 1.9 2 2.1 2 2.3 2 1.7 1.4 3.4 2.6 4.6 3.2 4 2.6 3.8 2.2 4.2 2.2 3.9 1.8 4.1 1.6 4 1.2 4 1 4 0.7 4 0.6 4 0.4 4 0.3 4 0.4 4 0.6 4 0.8 4 1.2 4 1.6 3.1 1.6 4.9 3.2 4 3.6 1.1 1.2 2.7 4 2 4 1.2 4 0.6 4 0 4 -0.5 4 -1 4 -1.2 4 -0.9 2.6 -1.8 5.4 -1.4 4 -212.2 0 -0.6-1.7 -0.7-2.3 -1.1-4 -0.9-4 -1.2-4 -1.8-4 -2.3-3.7 -4-4.2 -4-2.8 -2.4-1.3 -1.6-0.8 -4-1.6 -4-1.2 -4-1 -4-0.8 -4-0.6 -4-0.4 -4-0.2 -4 0 -4 0.3 -4 0.6 -4 0.8 -2.8 0.9 -5.2 2.4 -2.7 1.6 -1.3 0.8 -4 2.9 -4 3.3 -1.1 1 -2.9 2.9 -1.1 1.1 -2.9 3.3 -3.8 4.7 -2.7 4 -1.5 2.6 -0.8 1.4 -1.7 4 -109.5 0 0-516z"/>
<path fill="#00d2ff" d="M680.5 51l0 356 -3.5 0 -4.5-0.6 -4-0.3 -4 0 -4 0.1 -4 0 -4-0.1 -4-0.4 -4-0.5 -4-0.6 -4-0.7 -4-0.6 -4-0.7 -4-0.6 -4-0.7 -4-0.6 -4-0.6 -4-0.7 -1.8-0.4 -2.2-0.4 -4-0.9 -4-1 -4-1.1 -2-0.6 -2-0.5 -4-1.1 -4-1 -4-0.9 -2-0.5 -2-0.5 -4-1 -4-1.4 -2.7-1.1 -5.3-2.9 -1.8-1.1 -2.2-1.5 -3.5-2.5 -4.5-3.3 -4-3.3 -1.6-1.4 -2.4-2.3 -1.7-1.7 -2.3-2.6 -1.3-1.4 -2.7-3.1 -4-4.2 -4-3.9 -4-3.3 -2.2-1.5 -1.8-1.2 -4-1.9 -2.1-0.9 -1.9-0.6 -4-1 -4-0.3 -3.2 1.9 -0.8 1.3 -1.1 2.7 -0.5 4 -0.8 4 -1.6 1.8 -1.7 2.2 -2.3 1.3 -3.7 2.7 -4.3 2.7 -1.4 1.3 -2.6 1.9 -2.1 2.1 -1.9 1.8 -2 2.2 -2 2.3 -1.3 1.7 -2.7 3.9 -2.2 4.1 -1.8 3.7 -1.9 4.3 -1.9 4 -1.9 4 -2.1 4 -2.1 4 -2.1 3.9 -1.9 4.1 -1.5 4 -0.6 1.8 -0.6 2.2 -0.9 4 -0.6 4 -0.4 4 -0.3 4 0 4 0.2 4 0.5 4 0.7 4 1.1 4 1.4 4 1.9 4 1 1.7 1.4 2.3 2.6 3.7 3.8 4.3 4.2 4 4 3.3 4 3 2.5 1.7 1.5 1 4 2.6 4 2.3 4 2.1 4 1.9 4 1.5 2.1 0.6 1.9 0.6 4 0.9 4 0.7 4 0.5 4 0.3 4 0.3 4 0.4 2 0.3 2 0.3 4 1 4 1.3 3.1 1.4 4.9 2.8 1.7 1.2 2.3 2 2.1 2 1.9 2.4 1.1 1.6 2.1 4 0.8 2.4 0.5 1.6 0.7 4 0.1 4 -0.6 4 -0.7 3 -1.5 5 -1.4 4 -1.1 3 -1.9 5 -206 0 -1.6-4 -1.3-4 -1.1-4 -1.3-4 -1.8-4 -1-1.7 -1.4-2.3 -2.6-3 -4-3.6 -2.1-1.4 -1.9-1.2 -4-2 -2.2-0.8 -1.8-0.7 -4-1.1 -4-0.9 -4-0.8 -3.1-0.5 -4.9-0.5 -4-0.2 -4 0 -4 0.2 -3.8 0.5 -4.2 0.8 -4 1.3 -4 1.7 -4 2.3 -3 1.9 -5 3.7 -4 3.4 -4 3.9 -4 4.5 -3.6 4.5 -2.6 4 -1.8 3.2 -2.1 4.8 -105.9 0 0-516z"/>
<path fill="#00dfff" d="M680.5 51l0 352 -4 0.1 -4-0.5 -4-0.3 -4 0 -4 0 -4 0.1 -4-0.2 -4-0.4 -4-0.5 -4-0.6 -4-0.7 -4-0.6 -2.5-0.4 -5.5-0.8 -4-0.5 -4-0.5 -4-0.5 -4-0.6 -4-0.7 -1.8-0.4 -2.2-0.4 -4-0.9 -4-1.1 -4-1.1 -1.9-0.5 -2.1-0.6 -4-1 -4-1 -4-1 -4-1.2 -4-1.5 -3.1-1.7 -4.9-3.3 -4-3 -2.2-1.7 -1.8-1.4 -3.2-2.6 -4.5-4 -4-4 -3.7-4 -3.8-4 -3.9-4 -4.2-4 -4.7-3.8 -4-2.4 -3.8-1.8 -4.2-1.3 -4-1 -4-0.5 -4 1.1 -3 1.7 -4.6 4 -2.6 4 -1.1 4 -0.7 2.2 -0.4 1.8 -2.2 4 -1.4 1.4 -2.2 2.6 -1.8 1.6 -2 2.4 -2 1.9 -1.7 2.1 -2.3 2.5 -1.2 1.5 -2.8 3.7 -2.6 4.3 -1.4 2.6 -0.7 1.4 -1.8 4 -1.5 3.4 -2 4.6 -1.8 4 -2 4 -2.2 4 -1.9 4 -1.8 4 -1.4 4 -1.1 4 -0.8 4 -0.6 4 -0.4 3.7 -0.2 4.3 0 4 0.2 4 0.4 4 0.7 4 1 4 1.4 4 1.8 4 2.2 4 2.8 4 1.7 2.1 1.7 1.9 2.3 2.3 1.8 1.7 2.2 2 2.5 2 1.5 1.1 3.9 2.9 4.1 2.8 1.9 1.2 2.1 1.4 4 2.3 4 2.1 4 1.9 4 1.5 4 1.2 4 0.9 4 0.6 4 0.4 4 0.3 4 0.3 4 0.4 4 0.7 4 1 2.8 1 5.2 2.6 2.3 1.4 1.7 1.3 3.1 2.7 3.3 4 1.6 2.7 2.1 5.3 0.8 4 0.1 4 -0.5 4 -1 4 -1.3 4 -1.5 4 -1.6 4 -1.1 2.7 -4 1.3 -196 0 -2-4 -1.7-4 -1.3-4 -1.4-4 -1.6-3.4 -2.7-4.6 -1.3-1.6 -2-2.4 -2-1.9 -2.5-2.1 -1.5-1.1 -4-2.4 -4-1.9 -4-1.5 -4-1.1 -4-0.9 -4-0.8 -4-0.5 -4-0.4 -4-0.2 -4 0 -4 0.3 -4 0.4 -4 0.8 -4 1.1 -4 1.6 -4 2.1 -4 2.4 -3.1 2.1 -4.9 3.7 -4 3.6 -4 4 -4 4.5 -3.2 4.2 -2.5 4 -2.1 4 -1.7 4 -102.5 0 0-516z"/>
<path fill="#00ecff" d="M680.5 51l0 348 -4 0.7 -4-0.6 -4-0.2 -4-0.1 -4 0 -4 0 -4-0.2 -4-0.4 -4-0.4 -4-0.6 -4-0.6 -4-0.5 -4-0.6 -3.7-0.5 -4.3-0.5 -4-0.4 -4-0.4 -4-0.5 -4-0.7 -4-0.7 -3.2-0.8 -4.8-1.2 -4-1.1 -4-1.1 -2.1-0.6 -1.9-0.5 -4-1.2 -4-1.1 -3.8-1.2 -4.2-2 -3-2 -5-3.8 -4-3.1 -1.3-1.1 -2.7-2.1 -2.3-1.9 -1.7-1.4 -2.8-2.6 -1.2-1.1 -2.8-2.9 -1.2-1.2 -2.6-2.8 -1.4-1.5 -2.4-2.5 -1.6-1.6 -2.5-2.4 -1.5-1.4 -3-2.6 -5-3.7 -4-2.1 -4-1.7 -4-1.3 -4-0.8 -4-0.5 -4 0.8 -2.8 1.3 -5.2 3.1 -1.5 0.9 -2.5 2.2 -1.6 1.8 -2 4 -1.1 4 -1.2 4 -2.1 4 -2.6 4 -1.4 1.7 -1.7 2.3 -2.3 2.7 -1 1.3 -3 3.8 -2.8 4.2 -1.2 1.9 -1.2 2.1 -1.9 4 -0.9 2 -0.9 2 -1.6 4 -1.5 3.6 -1.9 4.4 -2 4 -2 4 -1.9 4 -1.6 4 -1.4 4 -1 4 -0.7 4 -0.6 4 -0.4 4 -0.1 4 -0.1 4 0.2 4 0.4 4 0.7 4 0.4 1.8 0.5 2.2 1.3 4 1.8 4 2.2 4 2.2 3.4 3.6 4.6 3.9 4 4.5 3.9 4 3.1 1.4 1 2.6 1.9 3.2 2.1 4.8 3.2 1.4 0.8 2.6 1.6 4 2.1 4 1.9 4 1.5 3.1 0.9 4.9 1.1 4 0.6 4 0.4 4 0.2 4 0.2 4 0.4 4 0.7 4 1.2 4 1.7 2.8 1.5 1.2 0.8 4 3.1 3.7 4.1 2.5 4 1.6 4 0.8 4 0.1 4 -0.5 4 -0.9 4 -1.3 4 -1.6 4 -1.8 4 -2 4 -192.6 0 -2.2-4 -1.8-3.6 -1.8-4.4 -1.7-4 -2-4 -2.5-4 -3.2-4 -4.1-4 -4.7-3.5 -4-2.3 -4-1.9 -4-1.4 -4-1.1 -4-0.9 -4-0.7 -4-0.6 -4-0.3 -4-0.2 -4 0 -4 0.3 -4 0.4 -4 0.8 -4 1 -4 1.5 -2 0.9 -2 1 -4 2.2 -1.3 0.8 -2.7 1.8 -3.2 2.2 -4.8 3.8 -4 3.7 -4 4.1 -3.8 4.4 -2.9 4 -1.3 2.2 -1 1.8 -2 4 -1 2.3 -0.7 1.7 -99.3 0 0-516z"/>
<path fill="#00f9ff" d="M680.5 51l0 346.4 -4-0.9 -4-0.5 -4-0.3 -4-0.1 -4 0 -4 0 -4-0.2 -4-0.4 -4-0.4 -4-0.5 -4-0.5 -4-0.5 -4-0.5 -4-0.5 -4-0.4 -4-0.4 -2.6-0.3 -5.4-0.6 -4-0.5 -4-0.8 -4-0.9 -4-1.1 -4-1.2 -4-1.2 -4-1.2 -1.7-0.5 -2.3-0.8 -4-1.3 -4-1.6 -4-2.4 -2.5-1.9 -1.5-1.1 -3.7-2.9 -4.3-3.2 -4-3.1 -2-1.7 -2-1.7 -2.5-2.3 -1.5-1.4 -2.5-2.6 -1.5-1.6 -2.3-2.4 -1.7-1.8 -2.2-2.2 -1.8-1.8 -2.4-2.2 -1.6-1.3 -3.5-2.7 -4.5-2.8 -2.2-1.2 -1.8-0.9 -4-1.7 -4-1.2 -4-0.9 -4-0.5 -4 0.6 -4 1.9 -4 2.3 -4 2.5 -2.5 1.9 -1.5 1.7 -1.7 2.3 -1.9 4 -1.4 4 -1.3 4 -1.7 4 -2.1 4 -1.9 2.6 -0.9 1.4 -3.1 4 -2.9 4 -1.1 1.7 -1.4 2.3 -2.2 4 -1.9 4 -1.7 4 -0.8 2 -0.8 2 -1.5 4 -1.7 4 -1.9 4 -2 4 -1.7 4 -1.6 4 -0.8 2.7 -1.3 5.3 -0.7 4 -0.5 4 -0.4 4 -0.2 4 0 4 0.2 4 0.4 4 0.6 4 0.9 4 1 3.3 1.9 4.7 2.1 4 2.5 4 1.5 2 1.6 2 2.4 2.6 1.4 1.4 2.6 2.4 1.8 1.6 2.2 1.8 2.9 2.2 5.1 3.7 4 2.7 2.4 1.6 1.6 1.1 4 2.4 4 2.2 4 1.9 4 1.5 4 1.2 4 0.8 4 0.5 4 0.2 4 0.2 4 0.2 4 0.4 4 0.8 4 1.3 2.9 1.3 5.1 3.3 4 3.7 3.7 5 1.7 4 0.9 4 0.2 4 -0.4 4 -1 4 -1.1 3.3 -1.9 4.7 -1.9 4 -2.4 4 -185.4 0 -2.4-4 -2-3.5 -2.3-4.5 -1.7-3.3 -2.5-4.7 -1.5-2.1 -1.2-1.9 -2.8-3.4 -4-4.2 -4-3.4 -1.4-1 -2.6-1.8 -3.9-2.2 -4.1-1.9 -4-1.4 -2.7-0.7 -5.3-1.2 -4-0.7 -4-0.6 -4-0.3 -4-0.2 -4 0 -4 0.3 -4 0.5 -4 0.7 -4 1 -1.6 0.5 -2.4 0.9 -4 1.7 -2.8 1.4 -5.2 3.1 -1.5 0.9 -2.5 1.7 -3.2 2.3 -4.8 3.9 -4 3.8 -4 4.2 -3.3 4.1 -2.7 4 -2 3.5 -2.2 4.5 -1.7 4 -96.1 0 0-516z"/>
<path fill="#06fff9" d="M680.5 51l0 343.4 -4-0.8 -4-0.5 -4-0.3 -4-0.1 -4 0 -4 0 -4-0.2 -4-0.3 -4-0.5 -4-0.4 -2-0.3 -2-0.2 -4-0.5 -4-0.4 -4-0.4 -4-0.4 -4-0.4 -4-0.3 -4-0.5 -4-0.6 -1.7-0.3 -2.3-0.4 -4-1 -4-1.1 -4-1.3 -4-1.3 -4-1.3 -4-1.5 -4-1.7 -4-2.1 -4-2.7 -2.1-1.6 -1.9-1.3 -3.6-2.7 -4.4-3 -1.2-1 -2.8-2.1 -2.3-1.9 -1.7-1.5 -2.6-2.5 -1.4-1.4 -2.5-2.6 -1.5-1.6 -2.3-2.4 -1.7-1.7 -2.3-2.3 -1.7-1.5 -3.1-2.5 -4.9-3.4 -4-2.4 -4-2 -4-1.8 -4-1.4 -4-1 -4-0.6 -4 0.5 -4 1.9 -3.2 2.2 -4.8 2.8 -1.7 1.2 -2.3 1.8 -2.5 2.2 -1.5 2 -1.8 2 -1.9 4 -1.4 4 -1 4 -1.3 4 -2 4 -2.6 4 -2.8 4 -1.2 1.7 -1.5 2.3 -2.4 4 -2.1 4 -1.8 4 -1.7 4 -1.5 4 -1 2.8 -2.1 5.2 -1.8 4 -1.9 4 -1.6 4 -0.6 1.5 -0.8 2.5 -1.2 4 -0.9 4 -0.6 4 -0.5 4 -0.3 4 -0.2 4 0 4 0.2 4 0.3 3.9 0.6 4.1 0.8 4 1.2 4 1.4 3.5 2.2 4.5 1.8 3 3.6 5 3.6 4 4.3 4 4.5 3.7 4 3 1.9 1.3 2.1 1.5 3.6 2.5 4.4 3 1.6 1 2.4 1.6 4 2.2 4 1.9 4 1.6 2.8 0.7 5.2 1.1 4 0.5 4 0.2 4 0.1 4 0.2 4 0.4 4 0.8 2.1 0.7 1.9 0.7 4 2.2 1.6 1.1 2.4 2 2 2 2 2.5 1.1 1.5 1.9 4 1 3.8 0.3 4.2 -0.3 3 -1 5 -1.4 4 -1.6 3.7 -2.4 4.3 -1.6 2.5 -1.2 1.5 -177.9 0 -0.9-1.4 -1.7-2.6 -2.3-3.8 -2.5-4.2 -1.5-2.5 -0.8-1.5 -2.6-4 -2.9-4 -1.7-2 -1.6-2 -2.4-2.4 -1.5-1.6 -2.5-2.2 -2.2-1.8 -1.8-1.4 -3.9-2.6 -4.1-2.3 -3.9-1.7 -4.1-1.5 -4-1 -4-0.9 -3.7-0.6 -4.3-0.6 -4-0.4 -4-0.1 -4 0 -4 0.3 -4 0.5 -1.8 0.3 -2.2 0.4 -4 0.9 -4 1.3 -3.5 1.4 -4.5 2.2 -3.3 1.8 -4.7 2.9 -1.7 1.1 -2.3 1.6 -3.2 2.4 -4.7 4 -4.1 3.9 -3.7 4.1 -3 4 -1.3 2 -1.2 2 -2.2 4 -1.9 4 -1.8 4 -92.9 0 0-516z"/>
<path fill="#13ffec" d="M680.5 51l0 340 -3.3 0 -4.7-0.6 -4-0.3 -4 0 -4-0.1 -4 0 -4-0.2 -4-0.3 -4-0.3 -4-0.5 -4-0.4 -4-0.4 -4-0.5 -4-0.4 -4-0.3 -4-0.4 -4-0.4 -4-0.4 -4-0.5 -4-0.8 -4-1.1 -4-1.2 -4-1.3 -4-1.5 -4-1.5 -4-1.8 -1.8-0.8 -2.2-1.1 -4-2.5 -4-2.8 -2.2-1.6 -1.8-1.2 -4-2.6 -4-2.6 -2.1-1.6 -1.9-1.5 -2.9-2.5 -1.1-1 -3-3 -1-1.1 -2.7-2.9 -1.3-1.3 -2.6-2.7 -1.4-1.4 -2.9-2.6 -5.1-3.8 -4-2.7 -2.7-1.5 -1.3-0.8 -4-2.1 -2.5-1.1 -1.5-0.7 -4-1.5 -4-1.3 -2.2-0.5 -1.8-0.5 -4 0.5 -4 1.9 -2.9 2.1 -5.1 3.6 -4 3 -1.8 1.4 -2.2 1.9 -3.1 2.1 -4 4 -0.9 2.1 -0.6 1.9 -0.6 4 -0.5 4 -0.9 4 -1.4 3 -3 5 -1 1.5 -1.6 2.5 -2.4 3.8 -2.4 4.2 -1.6 3.1 -2.2 4.9 -1.6 4 -1.4 4 -1.4 4 -1.4 3.5 -2 4.5 -1.7 4 -1.5 4 -1.3 4 -1.1 4 -0.4 2.1 -0.4 1.9 -0.6 4 -0.4 4 -0.3 4 -0.1 4 -0.1 4 0.2 4 0.3 4 0.5 4 0.8 4 1.1 4 1.6 4 1.4 3 2.8 5 1.2 1.7 1.7 2.3 2.3 2.8 1.1 1.2 2.9 2.9 1.2 1.1 2.8 2.4 2 1.6 2 1.6 3.3 2.4 4.7 3.4 4 3 2.5 1.6 1.5 1.1 4 2.6 4 2.4 4 1.9 4 1.5 4 1.1 4 0.7 4 0.4 4 0.1 4 0 4 0.2 4 0.4 4 1 4 1.6 1.8 1 2.2 1.5 2.9 2.5 1.1 1.1 2.3 2.9 1.7 2.9 1.7 5.1 0.4 4 -0.3 4 -0.9 4 -0.9 2.6 -2.5 5.4 -1.5 2.5 -1.1 1.5 -2.9 3.5 -4 0.5 -166.4 0 -1.6-2.3 -1.2-1.7 -2.6-4 -2.6-4 -1.6-2.3 -1.1-1.7 -2.9-3.9 -3.3-4.1 -3.5-4 -1.2-1.2 -2.7-2.8 -1.3-1.2 -3.2-2.8 -4.8-3.7 -4-2.6 -3.1-1.7 -4.9-2.3 -4-1.4 -4-1 -4-0.9 -4-0.6 -4-0.6 -4-0.3 -4-0.2 -4 0.1 -4 0.2 -4 0.5 -4 0.7 -4 1 -2.7 0.8 -5.3 1.9 -4 1.8 -4 2.1 -3.9 2.2 -4.1 2.6 -2 1.4 -2 1.5 -3.2 2.5 -4.6 4 -4 4 -3.4 4 -2.8 4 -2 3.2 -2.5 4.8 -1.5 3.1 -2.2 4.9 -89.8 0 0-516z"/>
<path fill="#20ffdf" d="M680.5 51l0 338.2 -4-0.8 -4-0.5 -4-0.2 -4-0.1 -4 0 -4-0.1 -4-0.2 -4-0.2 -4-0.4 -4-0.4 -4-0.4 -4-0.3 -4-0.4 -4-0.4 -4-0.4 -4-0.4 -4-0.4 -4-0.4 -4-0.6 -4-0.8 -4-1.1 -4-1.3 -4-1.4 -4-1.6 -3.1-1.4 -4.9-2.3 -2.9-1.7 -5.1-3.3 -4-2.7 -3.1-2 -4.9-2.8 -1.7-1.2 -2.3-1.5 -3.2-2.5 -4.4-4 -3.8-4 -3.7-4 -4.1-4 -4.8-3.9 -4-2.9 -1.8-1.2 -2.2-1.6 -4-2.3 -4-2.3 -4-1.7 -4-1.5 -4-1.3 -3.4-1.3 -3 0 -5.6 2.1 -3.5 1.9 -4.5 3.6 -4 3.7 -4 3.4 -2.3 1.3 -1.7 1.1 -4 1.8 -2.2 1.1 -1.8 2.4 -0.6 1.6 -0.4 4 0 4 -0.2 4 -0.7 4 -1.7 4 -2.3 4 -2.1 3.5 -2.7 4.5 -1.3 2.4 -0.9 1.6 -1.9 4 -1.2 2.7 -2.1 5.3 -1.4 4 -0.5 1.6 -0.8 2.4 -1.5 4 -1.7 4 -1.6 4 -1.4 4 -1 3.4 -1.2 4.6 -0.7 4 -0.6 4 -0.4 4 -0.2 4 -0.1 4 0 4 0.1 4 0.2 4 0.5 4 0.8 4 1.1 4 0.5 1.5 0.9 2.5 1.9 4 1.2 2.3 1 1.7 2.7 4 3.3 4 1 1.1 3 2.9 4.6 4 4.4 3.5 4 3 2.1 1.5 1.9 1.5 3.5 2.5 4.5 3.3 4 2.8 3.3 1.9 4.7 2.5 4 1.4 4 1.1 4 0.7 4 0.3 4 0.1 4 0 4 0.1 4 0.5 4 1 4 1.9 3.5 2.4 3.9 4 2.5 4 1.5 4 0.6 4 -0.3 4 -0.9 4 -1.5 4 -1.3 2.5 -0.9 1.5 -3.1 4 -4 3.7 -4 0.3 -156 0 -4-3.2 -3.5-4.8 -2.7-4 -1.8-2.4 -1.1-1.6 -2.9-3.5 -4-4.5 -3.8-4 -4-4 -4.2-3.8 -4-3.2 -1.3-1 -2.7-2 -3.2-2 -4.8-2.8 -2.8-1.2 -5.2-1.9 -4-1 -4-0.9 -4-0.7 -4-0.5 -4-0.4 -4-0.1 -4 0 -4 0.2 -4 0.6 -3.6 0.7 -4.4 1 -4 1.1 -4 1.4 -4 1.7 -4 1.9 -1.6 0.9 -2.4 1.3 -4 2.4 -4 2.7 -2.2 1.6 -1.8 1.4 -3.3 2.6 -4.3 4 -3.8 4 -3.2 4 -1.4 2 -1.3 2 -2.3 4 -2 4 -1.9 4 -1.9 4 -86.6 0 0-516z"/>
<path fill="#2dffd2" d="M680.5 51l0 335.7 -4-0.7 -4-0.4 -4-0.2 -4-0.1 -4 0 -4 0 -4-0.2 -4-0.2 -4-0.3 -4-0.4 -4-0.5 -4-0.3 -3.7-0.4 -4.3-0.4 -4-0.4 -4-0.3 -4-0.4 -4-0.5 -4-0.6 -4-0.9 -1.7-0.5 -2.3-0.7 -4-1.4 -4-1.5 -4-1.8 -4-1.9 -1.3-0.7 -2.7-1.4 -4-2.5 -4-2.7 -2.1-1.4 -1.9-1.2 -4-2.2 -4-2.2 -3.5-2.4 -4.5-3.7 -4-4.1 -3.8-4.2 -3.9-4 -4.3-3.8 -4-3.1 -1.5-1.1 -2.5-2 -2.9-2 -5.1-3.4 -4-2.2 -4-1.6 -2.4-0.8 -1.6-0.5 -4-1.2 -4-1.3 -4 0.2 -4 1.6 -2.9 1.2 -5.1 2.8 -1 1.2 -3 3.5 -4 4.1 -4 2.4 -4 1.3 -1.8 0.7 -2.2 1 -3.1 3 -0.9 2.4 -0.5 1.6 -0.2 4 0.1 4 0 4 -0.6 4 -1.5 4 -1.3 2.5 -0.7 1.5 -2.3 4 -1 1.8 -1.2 2.2 -2.2 4 -1.9 4 -1.7 4 -1 2.8 -1.8 5.2 -1.3 4 -0.9 2.6 -2 5.4 -1.4 4 -0.6 1.7 -0.7 2.3 -1.1 4 -0.9 4 -0.7 4 -0.5 4 -0.4 4 -0.2 4 -0.1 4 0 4 0 4 0.3 4 0.3 2.8 0.8 5.2 1.1 4 1.4 4 0.7 1.7 1 2.3 2.2 4 0.8 1.3 1.8 2.7 2.2 2.9 0.9 1.1 3.1 3.3 4 3.7 1.2 1 2.8 2.4 2.1 1.6 1.9 1.5 3.4 2.5 4.6 3.6 4 3.1 1.8 1.3 2.2 1.8 3.2 2.2 4.8 3.1 1.8 0.9 2.2 1.2 4 1.5 4 1 2.4 0.3 5.6 0.6 4 0 4-0.1 4 0.1 4 0.5 4 1.2 3.4 1.7 4.6 3.8 3.2 4.2 0.8 1.6 1 2.4 0.7 4 -0.1 4 -0.9 4 -0.7 1.8 -1 2.2 -2.6 4 -4 4 -4.4 3 -1.9 1 -150.1 0 -3.9-4 -3.1-4 -1-1.3 -2-2.7 -2-2.6 -1-1.4 -3-3.5 -4-4 -4-3.8 -4-3.8 -4-3.6 -1.4-1.3 -2.6-2.1 -2.3-1.9 -1.7-1.3 -3.7-2.7 -4.3-2.8 -2.1-1.2 -1.9-1.1 -4-1.7 -3.4-1.2 -4.6-1.2 -4-0.8 -4-0.8 -4-0.6 -4-0.3 -4-0.2 -4 0 -4 0.3 -4 0.5 -4 0.8 -4 0.9 -4 1.1 -4 1.3 -4 1.6 -3 1.4 -5 2.5 -2.6 1.5 -1.4 0.8 -4 2.5 -4 2.8 -2.5 1.9 -1.5 1.2 -3.3 2.8 -4.1 4 -3.6 4 -1 1.3 -2 2.7 -2 3.1 -2.7 4.9 -1.3 2.6 -0.7 1.4 -2 4 -1.3 2.9 -4 1.1 -80 0 0-516z"/>
<path fill="#39ffc6" d="M680.5 51l0 332 -4 0.8 -4-0.4 -4-0.2 -4 0 -4 0 -4-0.1 -3-0.1 -5-0.2 -4-0.3 -4-0.4 -4-0.4 -4-0.3 -4-0.4 -4-0.4 -4-0.4 -4-0.4 -4-0.5 -2.6-0.3 -5.4-0.8 -4-1 -4-1.2 -2.7-1 -5.3-2.2 -3.9-1.8 -4.1-2.1 -3.4-1.9 -4.6-2.8 -1.8-1.2 -2.2-1.4 -4-2.5 -4-2 -3.5-2.1 -4.5-3.1 -4-3.7 -1.1-1.2 -2.9-3.3 -4-4.3 -4-3.8 -4-3.4 -1.5-1.2 -2.5-2.1 -2.4-1.9 -1.6-1.4 -3.4-2.6 -4.6-3.1 -1.6-0.9 -2.4-1.2 -4-1.3 -4-1 -2.2-0.5 -1.8-0.5 -4-1.3 -4 0.2 -4 1.5 -4 1.7 -4 1.3 -1.4 1.1 -2.6 2.9 -4 5.1 -4 3 -2.8 1 -5.2 1.8 -3.3 2.2 -3.1 4 -1.2 4 -0.3 4 0.1 4 0 4 -0.5 4 -1.3 4 -1.8 4 -2.2 4 -2.2 4 -2.1 4 -1.9 4 -1.6 4 -1.4 4 -1.2 3.8 -1.3 4.2 -1.3 4 -1.4 4 -1.3 4 -1.2 4 -1 4 -0.5 2.5 -0.9 5.5 -0.5 4 -0.3 4 -0.2 4 -0.1 4 0 4 0 4 0.2 4 0.4 4 0.7 4 0.7 2.9 1.6 5.1 1.7 4 0.7 1.3 1.4 2.7 2.5 4 3 4 1.1 1.3 2.5 2.7 1.5 1.5 2.8 2.5 1.2 1.1 3.5 2.9 4.5 3.5 4 3.1 1.8 1.4 2.2 1.9 2.6 2.1 1.4 1.2 3.5 2.8 4.5 3.4 4 2.7 3.8 1.9 4.2 1.7 4 1 4 0.5 4 0.3 4 0 4-0.1 4 0 4 0.5 4 1.4 4 2.4 4 4.1 2.3 4.2 1 4 0.1 4 -1 4 -1.9 4 -3.3 4 -1.2 1.1 -4 2.6 -4 1.8 -4 1.5 -2.3 1 -133.7 0 -4-1.7 -2.6-2.3 -1.4-1.3 -2.3-2.7 -1.7-2 -1.6-2 -2.4-2.9 -0.9-1.1 -3.1-3.4 -4-3.9 -4-3.4 -1.3-1.3 -2.7-2.3 -1.9-1.7 -2.1-1.8 -2.5-2.2 -1.5-1.2 -3.4-2.8 -4.6-3.6 -4-2.9 -2.3-1.5 -1.7-1.1 -4-2.3 -4-1.8 -4-1.4 -4-1 -2.2-0.4 -1.8-0.4 -4-0.8 -4-0.7 -4-0.4 -4-0.2 -4-0.1 -4 0.3 -4 0.5 -4 0.9 -3.3 0.9 -4.7 1.1 -4 1.3 -4 1.6 -4 1.7 -4 2 -4 2.2 -3.5 2.1 -4.5 2.9 -1.5 1.1 -2.5 1.9 -2.7 2.1 -1.3 1.1 -3.3 2.9 -3.9 4 -3.3 4 -1.5 2.1 -1.3 1.9 -2.4 4 -2.1 4 -2.1 4 -1.9 4 -1.9 4 -80.3 0 0-516z"/>
<path fill="#46ffb9" d="M680.5 51l0 331.4 -4-0.6 -4-0.4 -4-0.1 -4-0.1 -4 0 -4 0 -4-0.2 -4-0.2 -4-0.3 -4-0.3 -4-0.4 -4-0.4 -4-0.4 -4-0.3 -4-0.5 -4-0.4 -4-0.5 -4-0.5 -4-0.8 -3.9-1 -4.1-1.3 -4-1.6 -2.6-1.1 -1.4-0.6 -4-2 -2.7-1.4 -1.3-0.7 -4-2.2 -1.7-1.1 -2.3-1.4 -3.9-2.6 -4.1-2.2 -3.3-1.8 -4.7-2.7 -1.7-1.3 -2.3-1.9 -2.2-2.1 -1.8-2.1 -1.6-1.9 -2.4-2.8 -1.2-1.2 -2.8-2.7 -1.3-1.3 -2.7-2.5 -1.7-1.5 -2.3-2.1 -2.2-1.9 -1.8-1.7 -2.7-2.3 -1.3-1.2 -3.6-2.8 -4.4-2.8 -2.5-1.2 -1.5-0.6 -4-1.2 -4-0.9 -4-0.9 -1.7-0.4 -2.3-0.5 -4 0.1 -4 1.4 -4 1.8 -4 1.2 -4 3.1 -4 4.8 -4 3.7 -4 1.7 -4 1.6 -1.9 1.1 -2.1 1.3 -2.8 2.7 -1.2 1.8 -1.3 2.2 -1.1 4 -0.3 4 0.1 4 -0.1 4 -0.5 4 -0.8 2.6 -2.1 5.4 -1.9 3.7 -2.3 4.3 -1.7 3.2 -2.3 4.8 -1.6 4 -1.3 4 -1.2 4 -1.1 4 -1.2 4 -1.3 4 -1.2 4 -0.8 3.1 -1.1 4.9 -0.8 4 -0.6 4 -0.4 4 -0.3 4 -0.1 4 -0.1 4 0 4 0 4 0.2 4 0.4 4 0.6 4 0.9 4 1.3 4 1.6 4 2 4 2.4 4 2 2.9 0.9 1.1 3.1 3.7 4 4 4 3.5 4 3.4 1.9 1.4 2.1 1.8 2.9 2.2 1.1 0.9 3.6 3.1 4.4 4 4 3.5 4 3.2 1.9 1.3 2.1 1.5 4 2.1 4 1.5 4 1.1 4 0.6 4 0.3 4 0 4-0.2 4 0 4 0.5 1.9 0.6 2.1 0.8 4 2.8 3.3 4.4 0.7 1.6 0.7 2.4 0.2 4 -0.9 3.9 -2.5 4.1 -1.5 1.7 -3.3 2.3 -4.7 1.9 -4 1 -4 1.1 -4 1.5 -4 2.3 -4 0.2 -112 0 -4-1.8 -3.9-2.2 -4.1-2.9 -1.1-1.1 -2.9-3 -4-4.4 -4-4 -4-3.7 -4-3.4 -1.8-1.5 -2.2-1.7 -2.7-2.3 -1.3-1 -3.6-3 -4.4-3.6 -4-3.2 -1.6-1.2 -2.4-1.8 -3-2.2 -5-3.5 -4-2.3 -4-1.8 -4-1.4 -4-1.1 -4-0.8 -4-0.9 -4-0.8 -4-0.5 -4-0.3 -4-0.2 -4 0.2 -4 0.6 -2.8 0.8 -5.2 1.2 -4 1 -4 1.3 -4 1.6 -4 1.7 -2.4 1.2 -1.6 0.8 -4 2 -2 1.2 -2 1.2 -4 2.5 -4 2.8 -2 1.5 -2 1.6 -2.9 2.4 -1.1 1 -3.2 3 -3.5 4 -1.3 1.6 -1.8 2.4 -2.2 3.3 -2.8 4.7 -1.2 2.2 -1 1.8 -2 4 -1 2 -1 2 -2 4 -77 0 0-516z"/>
<path fill="#53ffac" d="M680.5 51l0 328 -4 0.9 -4-0.4 -4-0.1 -4-0.1 -4 0 -4 0 -4-0.2 -2.4-0.1 -5.6-0.3 -4-0.4 -4-0.3 -4-0.4 -4-0.3 -4-0.5 -4-0.4 -4-0.5 -4-0.5 -2.3-0.4 -5.7-1.1 -4-1.1 -4-1.3 -4-1.6 -4-1.9 -2-1 -2-1 -4-2.1 -1.5-0.9 -2.5-1.3 -4-2.4 -4-2.5 -3.2-1.8 -4.8-2.7 -2.2-1.3 -1.8-1.3 -3.2-2.7 -3.5-4 -1.3-1.7 -2-2.3 -2-2 -2.1-2 -1.9-1.9 -2.2-2.1 -1.8-1.9 -2.3-2.1 -1.7-1.8 -2.3-2.2 -1.7-1.7 -2.6-2.3 -1.4-1.2 -3.8-2.8 -4.2-2.4 -4-1.6 -4-1.2 -4-0.9 -4-0.8 -4-0.7 -4 0.2 -4 1.3 -4 1.9 -4 1.8 -3.7 2.4 -3.9 4 -4.4 4 -4 2.2 -4 1.8 -4 2.4 -2 1.6 -2 2 -1.7 2 -2.3 4 -1 4 -0.3 4 0 4 -0.1 4 -0.5 4 -1.1 4 -1 2.3 -0.7 1.7 -2 4 -1.3 2.3 -0.9 1.7 -2.1 4 -1 2.2 -0.8 1.8 -1.6 4 -1.2 4 -1.1 4 -1.1 4 -1 4 -1.1 4 -1.1 4 -1 4 -0.8 4 -0.7 4 -0.5 4 -0.4 4 -0.2 4 -0.2 4 0 4 -0.1 4 0.1 4 0.1 4 0.4 4 0.3 2.4 1.1 5.6 1.2 4 1.6 4 1.9 4 2.2 3.9 2.8 4.1 1.2 1.5 2.1 2.5 1.9 2.1 2 1.9 2 1.9 2.3 2.1 1.7 1.5 3.1 2.5 4.8 4 4.1 3.5 4 3.9 4 3.8 4 3.8 1.2 1 2.8 2.6 2 1.4 2 1.5 4 2.1 4 1.7 4 1.3 4 0.8 4 0.3 4-0.1 4-0.4 4-0.3 4 0.4 1.8 0.7 2.2 1 3.5 3 2 4 0.4 4 -1.1 4 -0.8 1.3 -2.7 2.7 -1.3 0.9 -4 1.4 -4 0.6 -4 0.3 -4 0.6 -4 1.2 -4 2.2 -4 3 -2.4 1.8 -89.6 0 -4-0.9 -4-1.2 -4-1.4 -4-1.6 -4-1.9 -1.8-1 -2.2-1.3 -3.4-2.7 -4.3-4 -4.3-3.8 -4-3.3 -4-3.2 -2.1-1.7 -1.9-1.3 -3.4-2.7 -4.6-3.6 -4-3.1 -1.6-1.3 -2.4-1.9 -2.7-2.1 -1.3-1 -3.9-3 -4.1-3.1 -1.4-0.9 -2.6-1.9 -3.6-2.1 -4.4-2.2 -4-1.4 -1.7-0.4 -2.3-0.7 -4-1 -4-1 -4-0.9 -2.7-0.4 -5.3-0.8 -4-0.3 -4 0.1 -4 0.5 -1.8 0.5 -2.2 0.5 -4 1.1 -4 1.2 -3.3 1.2 -4.7 1.8 -4 2 -4 1.8 -4 2.1 -4 2.2 -3.3 2.1 -4.7 3.1 -1.2 0.9 -2.8 2.1 -2.4 1.9 -1.6 1.3 -3 2.7 -3.9 4 -1.1 1.3 -2.2 2.7 -1.8 2.4 -1.1 1.6 -2.5 4 -2.4 4 -2 3.8 -2.3 4.2 -1.7 3.4 -2.4 4.6 -73.6 0 0-516z"/>
<path fill="#60ff9f" d="M680.5 51l0 327.6 -4-0.5 -4-0.3 -4-0.2 -4 0 -4 0 -4-0.1 -4-0.1 -4-0.2 -4-0.3 -4-0.3 -4-0.3 -4-0.4 -4-0.4 -4-0.5 -4-0.4 -4-0.5 -4-0.6 -4-0.7 -4-0.9 -3.1-0.9 -4.9-1.7 -4-1.6 -1.4-0.7 -2.6-1.2 -4-2.1 -4-2.1 -4-2.2 -4-2.3 -3.5-2.1 -4.5-2.7 -2.4-1.3 -1.6-1 -4-2.8 -4-4.2 -3.1-4 -3.9-4 -1-1 -3-3 -1-1.2 -2.6-2.8 -1.4-1.7 -2.2-2.3 -1.8-2 -2-2 -2-2 -2.4-2 -1.6-1.3 -4-2.6 -4-2 -4-1.6 -1.8-0.5 -2.2-0.7 -4-0.9 -4-0.8 -4-0.7 -4 0.3 -4 1.5 -2.3 1.3 -1.7 0.8 -4 2.2 -1.3 1 -2.7 1.8 -2.3 2.2 -1.7 1.8 -2.8 2.2 -1.2 1.1 -4 2 -1.9 0.9 -2.1 1.1 -4 2.5 -4 3.3 -1.1 1.1 -2.9 3.5 -2.4 4.5 -0.9 4 -0.4 4 0 4 -0.2 4 -0.5 4 -1.2 4 -1.7 4 -0.7 1.4 -1.3 2.6 -2.2 4 -2.1 4 -1.9 4 -0.5 1.5 -0.9 2.5 -1.1 4 -1 4 -1 4 -0.9 4 -1 4 -1 4 -0.8 4 -0.8 4 -0.6 4 -0.4 4 -0.4 4 -0.2 4 -0.1 4 -0.1 4 0 4 0 4 0.1 4 0.3 4 0.6 4 0.8 4 0.5 1.8 0.6 2.2 1.5 4 1.9 4 2.2 4 1.8 2.9 3.9 5.1 3.7 4 4.2 4 4.2 3.8 4 3.5 4 3.5 1.4 1.2 2.6 2.6 1.4 1.4 2.6 2.8 1.2 1.2 2.8 3.1 4 4.2 4 3.9 4 3.2 2.8 1.6 1.2 0.9 4 2.2 2.4 0.9 1.6 1 4 1.6 4 0.9 4-0.6 4-1.6 4-1.2 4 0.2 4 2.3 1.1 1.4 0.8 4 -1.6 4 -4.3 2 -4 0.2 -4-0.8 -4-1 -4 0 -4 1.6 -2.4 2 -1.6 1.1 -3.4 2.9 -4.6 3.5 -4 2.5 -4 2 -4 0 -50.7 0 -5.3-1.2 -4-1 -4-1 -3.2-0.8 -4.8-1.1 -4-0.9 -4-1.2 -2.5-0.8 -5.5-2 -4-2 -4-2.4 -2-1.6 -2-1.4 -3.3-2.6 -4.7-3.4 -4-2.8 -2.3-1.8 -1.7-1.2 -3.9-2.8 -4.1-3 -1.3-1 -2.7-2 -2.6-2 -1.4-1.1 -3.8-2.9 -4.2-3.2 -4-3.1 -2.2-1.7 -1.8-1.4 -3.6-2.6 -4.4-2.8 -2.5-1.2 -1.5-0.8 -4-1.5 -4-1.2 -1.9-0.5 -2.1-0.6 -4-1.2 -4-1.1 -4-0.9 -4-0.8 -4-0.5 -4-0.3 -4 0.2 -4 0.8 -4 1.2 -4 1.4 -3.8 1.8 -4.2 1.9 -3.6 2.1 -4.4 2.1 -3.5 1.9 -4.5 2.5 -2.4 1.5 -1.6 1 -4 2.7 -4 2.8 -1.9 1.5 -2.1 1.6 -2.8 2.4 -1.2 1.1 -3 2.9 -1 1.1 -2.5 2.9 -1.5 1.9 -1.6 2.1 -2.4 3.5 -2.9 4.5 -1.1 2 -1.2 2 -2.2 4 -2.2 4 -2.1 4 -2.1 4 -70.2 0 0-516z"/>
<path fill="#6cff93" d="M680.5 51l0 324 -4 1.4 -4-0.3 -4-0.2 -4 0 -4 0 -4-0.1 -4-0.1 -4-0.2 -4-0.3 -3-0.2 -5-0.4 -4-0.4 -4-0.4 -4-0.4 -4-0.5 -4-0.6 -4-0.6 -3.4-0.7 -4.6-1.1 -4-1.2 -4-1.4 -4-1.7 -4-2 -4-2.1 -4-2 -4-2.1 -4-2.3 -4-2.5 -2.6-1.6 -1.4-0.9 -4-2.4 -4-3.4 -1.2-1.3 -2.8-3.5 -4-4.5 -3.9-4 -3.3-4 -3.2-4 -1.6-2.1 -1.7-1.9 -2.3-2.6 -1.5-1.4 -2.5-2.3 -2.2-1.7 -1.8-1.3 -4-2.4 -4-1.8 -4-1.6 -3-0.9 -5-1.2 -4-0.7 -4-1 -4 0.5 -4 1.9 -4 2.3 -3.4 2.2 -4.6 3.4 -4 3.8 -4 3.3 -3.4 1.5 -4.6 2.3 -2.6 1.7 -1.4 0.9 -3.8 3.1 -4 4 -2.9 4 -1.3 2.5 -0.6 1.5 -0.9 4 -0.3 4 -0.2 4 -0.3 4 -0.6 4 -1.1 3.6 -1.8 4.4 -2.1 4 -2.2 4 -1.9 3.5 -2.1 4.5 -1.3 4 -0.6 2.1 -0.5 1.9 -0.8 4 -0.9 4 -0.8 4 -0.9 4 -0.8 4 -0.8 4 -0.6 4 -0.6 4 -0.4 4 -0.3 4 -0.2 4 -0.1 4 -0.1 4 0 4 0 4 0.1 4 0.3 4 0.5 4 0.8 4 1.1 4 1 3 2.1 5 1.9 3.6 2.7 4.4 1.3 1.8 1.7 2.2 2.3 2.8 1.1 1.2 2.9 2.9 1.1 1.1 2.9 2.7 1.5 1.3 2.5 2.4 1.9 1.6 2.1 2 2.2 2 1.8 1.9 2 2.1 2 2.3 1.6 1.7 2.4 3.1 4 4.9 3.2 4 3.4 4 1.4 1.7 2.4 2.3 1.6 2.1 1.9 1.9 1.7 4 -0.7 4 -2.9 3.7 -4 3.1 -1.9 1.2 -2.1 1.1 -4 1.5 -4 1 -2.6 0.4 -5.4 0.5 -4 0.1 -4-0.1 -4-0.3 -4-0.2 -4-0.2 -4-0.2 -4-0.3 -4-0.5 -4-0.8 -4-0.8 -4-0.8 -1.7-0.4 -2.3-0.5 -4-0.7 -4-0.8 -4-0.8 -4-1.1 -4-1.2 -4-1.5 -2.8-1.4 -5.2-2.8 -1.7-1.2 -2.3-1.4 -4-2.6 -4-2.4 -2.2-1.6 -1.8-1.1 -4-2.7 -4-2.8 -2-1.4 -2-1.4 -3.5-2.6 -4.5-3.3 -4-3.1 -2.1-1.6 -1.9-1.5 -3.2-2.5 -4.8-3.8 -4-3.1 -1.8-1.1 -2.2-1.4 -4-2 -4-1.7 -4-1.4 -4-1.3 -4-1.3 -4-1.3 -4-1.2 -1.6-0.4 -2.4-0.7 -4-0.9 -4-0.6 -4-0.3 -4 0.1 -4 0.9 -3.6 1.5 -4.4 2.3 -2.5 1.7 -1.5 0.8 -4 2.7 -4 2.4 -3.3 2.1 -4.7 2.8 -1.8 1.2 -2.2 1.4 -3.9 2.6 -4.1 2.9 -1.4 1.1 -2.6 2 -2.5 2 -1.5 1.3 -2.9 2.7 -1.1 1 -2.7 3 -1.3 1.5 -2 2.5 -2 2.7 -1 1.3 -2.7 4 -2.5 4 -1.8 3.1 -2.9 4.9 -1.1 2.1 -1.1 1.9 -2.1 4 -0.8 1.5 -1.4 2.5 -66.6 0 0-516z"/>
<path fill="#79ff86" d="M248.2 51l1.6 4 1.8 4 0.9 1.9 1.1 2.1 2.3 4 2.6 4 2 2.8 0.9 1.2 3.1 3.6 4 3.8 4 2.8 3.7 1.8 4.3 0.1 3.4-4.1 1.2-4 0.6-4 0.2-4 0.1-4 0-4 -0.1-4 -0.2-4 -0.3-4 395.1 0 0 324 -4-0.3 -4-0.3 -4-0.1 -4 0 -4-0.1 -4 0 -4-0.1 -4-0.2 -4-0.2 -4-0.3 -4-0.4 -4-0.3 -4-0.5 -4-0.5 -4-0.5 -4-0.6 -4-0.7 -4-0.8 -4-1 -3.3-1.1 -4.7-1.7 -4-1.8 -4-1.9 -4-2.1 -4-2 -4-2.1 -4-2.3 -3.2-2.1 -4.8-3.3 -4-2.7 -2.2-2 -1.8-1.9 -1.7-2.1 -2.3-2.6 -1.2-1.4 -2.8-3 -1-1 -3-3.9 -2.8-4.1 -1.2-1.8 -1.6-2.2 -2.4-3 -4-4.2 -4-3.4 -2-1.4 -2-1.3 -4-2.2 -4-1.7 -4-1.7 -3.7-1.1 -4.3-0.7 -4-0.8 -4-0.8 -4 0.6 -3.8 1.7 -4.2 2.6 -1.9 1.4 -2.1 1.5 -2.9 2.5 -4.4 4 -4.6 4 -4.1 2 -4 1.6 -4 2.8 -2 1.6 -2 1.7 -2.5 2.3 -1.5 1.5 -2.2 2.5 -1.8 2.5 -0.9 1.5 -1.7 4 -0.9 4 -0.5 4 -0.2 4 -0.4 4 -0.7 4 -1.3 4 -1.4 3.2 -2.5 4.8 -1.5 2.6 -0.8 1.4 -2.2 4 -1 2.3 -0.7 1.7 -1.2 4 -1 4 -0.7 4 -0.4 2 -0.4 2 -0.7 4 -0.8 4 -0.7 4 -0.6 4 -0.6 4 -0.5 4 -0.3 4 -0.3 4 -0.2 4 -0.1 4 -0.1 4 0 4 0 4 0.1 4 0.3 4 0.4 4 0.5 2.6 1.3 5.4 1.3 4 1.4 3.4 2.2 4.6 1.8 3 3.4 5 3.3 4 1.3 1.5 2.5 2.5 1.5 1.5 2.6 2.5 1.4 1.3 2.9 2.7 1.1 1.2 2.9 2.8 1.1 1.3 2.6 2.7 1.4 1.8 1.9 2.2 2.1 3 3.4 5 2.5 4 2.1 3.9 2 4.1 1.3 4 -0.1 4 -2.6 4 -4.6 2.9 -2.8 1.1 -5.2 1.2 -4 0.4 -4 0.2 -4 0.1 -4-0.1 -4 0 -4-0.1 -4-0.2 -4-0.4 -4-0.5 -4-0.6 -4-0.6 -4-0.6 -4-0.6 -4-0.6 -4-0.8 -3.2-0.8 -4.8-1.3 -4-1.4 -2.8-1.3 -5.2-2.5 -2.5-1.5 -1.5-0.7 -4-2.2 -1.7-1.1 -2.3-1.3 -4-2.5 -4-2.6 -2.4-1.6 -1.6-1 -4-2.8 -4-2.8 -1.8-1.4 -2.2-1.6 -3.2-2.4 -4.8-3.7 -4-3.3 -1.3-1 -2.7-2.3 -2.2-1.7 -1.8-1.4 -3.9-2.6 -4.1-2.3 -3.9-1.7 -4.1-1.6 -4-1.5 -2.6-0.9 -5.4-1.9 -4-1.5 -1.7-0.6 -2.3-0.8 -4-1.1 -4-0.9 -4-0.7 -4-0.5 -4 0.4 -4 1.3 -4 2 -4 2.7 -2.1 1.6 -1.9 1.4 -3.1 2.6 -4.9 3.7 -4 2.8 -2 1.5 -2 1.3 -3.7 2.7 -4.3 3.1 -4 3.1 -2.2 1.8 -1.8 1.5 -2.8 2.5 -1.2 1.1 -2.9 2.9 -1.1 1.2 -2.4 2.8 -1.6 2 -1.5 2 -2.5 3.4 -3.1 4.6 -0.9 1.5 -1.7 2.5 -2.3 3.8 -2.5 4.2 -1.5 2.7 -2.9 5.3 -1.1 2.1 -1 1.9 -63 0 0-516z"/>
<path fill="#86ff79" d="M236.5 51l3.2 4 0.8 1.6 1.2 2.4 2.2 4 2.5 4 2.1 3.2 3.5 4.8 3.2 4 1.3 1.4 2.4 2.6 1.6 1.5 2.6 2.5 1.4 1.2 3.6 2.8 4.4 2.7 2.5 1.3 1.5 0.6 4 1 4-0.2 2.3-1.4 1.7-1.8 1.1-2.2 1.5-4 1-4 0.4-2.1 0.3-1.9 0.5-4 0.3-4 0.3-4 0.2-4 0.1-4 0.2-4 0.1-4 386 0 0 322.6 -4-0.4 -4-0.3 -4-0.1 -4-0.1 -4 0 -4-0.1 -4-0.1 -4-0.1 -4-0.3 -4-0.3 -4-0.3 -4-0.4 -4-0.5 -4-0.5 -4-0.5 -4-0.7 -4-0.7 -4-0.9 -4-1.1 -4-1.3 -4-1.5 -4-1.8 -4-2 -4-2 -4-2 -4-2.1 -4-2.4 -4-3 -1.6-1.1 -2.4-2.1 -2.7-1.9 -1.3-1.1 -2.8-2.9 -1.2-1.3 -2.4-2.7 -1.6-1.8 -2-2.2 -2-2.6 -1-1.4 -2.4-4 -2.4-4 -2.2-3.2 -4-4.8 -4-3.8 -4-3 -1.9-1.2 -2.1-1.2 -4-2.1 -1.5-0.7 -2.5-1.1 -4-1.5 -4-0.8 -4-0.6 -4-0.6 -4-0.5 -4 0.5 -1.7 0.6 -2.3 1.1 -4 2.4 -4 2.9 -1.6 1.6 -2.4 2.1 -1.8 1.9 -2.2 2.1 -2.2 1.9 -1.8 1.6 -4 2.1 -4 1.8 -4 2.5 -4 3.3 -4 3.6 -1 1.1 -3 3.4 -2.9 4.6 -1.1 2.5 -0.6 1.5 -0.8 4 -0.5 4 -0.4 4 -0.5 4 -0.9 4 -1.3 4 -1.9 4 -1.1 2 -1.1 2 -2.4 4 -2.2 4 -1.6 4 -0.7 2.4 -1.2 5.6 -0.7 4 -0.7 4 -0.6 4 -0.7 4 -0.6 4 -0.5 4 -0.5 4 -0.4 4 -0.3 4 -0.3 4 -0.1 4 -0.1 4 -0.1 4 0 4 0 4 0.1 4 0.2 4 0.4 4 0.7 4 1 4 1.2 4 1.5 4 1.7 3.5 2.5 4.5 1.5 2.4 1.1 1.6 2.9 3.7 3.8 4.3 3.9 4 4.1 4 3.7 4 3.5 4 1 1.4 2 2.6 2 3.1 2.8 4.9 1.2 2.9 1.7 5.1 0.4 4 -0.8 4 -1.3 1.9 -2.3 2.1 -1.7 1 -4 1.4 -4 0.9 -4 0.4 -4 0.3 -4 0.1 -4 0 -2.1-0.1 -5.9-0.3 -4-0.2 -4-0.2 -4-0.4 -4-0.4 -4-0.4 -4-0.6 -4-0.7 -3.6-0.8 -4.4-1.1 -4-1.3 -4-1.6 -4-1.7 -4-2 -4-2 -4-2.3 -4-2.3 -2.6-1.7 -1.4-0.8 -4-2.6 -4-2.7 -2.7-1.9 -1.3-0.9 -4-2.9 -4-3 -1.5-1.2 -2.5-2 -2.4-2 -1.6-1.4 -3.1-2.6 -4.9-4 -4-2.8 -2.1-1.2 -1.9-1.2 -4-1.9 -2.2-0.9 -1.8-0.8 -4-1.6 -4-1.5 -4-1.5 -4-1.6 -2.5-1 -1.5-0.6 -4-1.2 -4-1 -4-0.9 -2-0.3 -2-0.3 -4 0 -4 0.8 -4 1.5 -4 2 -4 2.8 -1.4 1.2 -2.6 2.3 -1.9 1.7 -2.1 1.9 -2.3 2.1 -1.7 1.3 -3.1 2.7 -4.9 4 -4 3 -1.2 1 -2.8 2.2 -2.1 1.8 -1.9 1.5 -2.8 2.5 -1.2 1 -3.1 3 -3.7 4 -1.2 1.5 -2.1 2.5 -1.9 2.6 -1.1 1.4 -2.8 4 -2.8 4 -1.3 2 -1.4 2 -2.5 4 -2.4 4 -1.7 3.1 -2.6 4.9 -1.4 2.6 -0.8 1.4 -59.2 0 0-516z"/>
<path fill="#93ff6c" d="M228.5 51l3 4 1 1.7 1.3 2.3 2.4 4 2.6 4 1.7 2.5 1.1 1.5 2.9 3.9 3.4 4.1 3.7 4 4 4 4.6 4 4.3 3.2 4 2.5 4 2.3 4 1.6 4 1.1 4 0.4 4-1 2.3-2.1 1.7-2.3 0.9-1.7 1.7-4 1.3-4 1-4 0.7-4 0.7-4 0.6-4 0.5-4 0.5-4 0.5-4 0.4-4 0.5-4 378.7 0 0 320 -4 0.6 -4-0.2 -4-0.1 -4-0.1 -4 0 -4-0.1 -3.3-0.1 -4.7-0.2 -4-0.2 -4-0.3 -4-0.3 -4-0.4 -4-0.4 -4-0.6 -4-0.6 -4-0.7 -4-0.8 -4-0.9 -4-1.1 -4-1.4 -4-1.6 -4-1.8 -1.5-0.7 -2.5-1.2 -4-2 -1.6-0.8 -2.4-1.2 -4-2.1 -4-2.7 -2.6-2 -1.4-1.4 -3-2.6 -1-1.1 -3.4-2.9 -4.1-4 -3.5-4 -1-1.4 -2-2.6 -2-3.7 -2.2-4.3 -1.8-3.3 -3.4-4.7 -3.7-4 -4.6-4 -4.3-2.8 -2-1.2 -2-1.1 -4-1.8 -2.4-1.1 -1.6-0.6 -4-1 -4-0.5 -4-0.5 -4-0.5 -4-0.3 -4 0.5 -4 1.4 -3.2 1.5 -4.8 3.2 -4 4 -4 4.3 -4 3.6 -1.3 0.9 -2.7 1.6 -4 1.8 -4 2.5 -2.8 2.1 -1.2 1 -3.4 3 -4 4 -3.2 4 -1.4 2.4 -0.9 1.6 -1.4 4 -0.9 4 -0.7 4 -0.5 4 -0.6 4 -1 4 -1.4 4 -2 4 -2.4 4 -2.4 4 -1.8 3.4 -1.8 4.6 -1 4 -0.8 4 -0.4 2.7 -0.8 5.3 -0.5 4 -0.6 4 -0.5 4 -0.4 4 -0.4 4 -0.4 4 -0.3 4 -0.1 3 -0.2 5 -0.1 4 0 4 -0.1 4 0 4 0.1 4 0.2 4 0.4 4 0.6 4 0.9 4 1.2 4 1 2.9 2.2 5.1 1.8 3.5 2.7 4.5 1.3 1.8 1.7 2.2 2.3 2.9 1 1.1 3 3.3 4 4.2 4 4.4 3.3 4.1 2.8 4 1.9 3.4 2 4.6 0.9 4 0 4 -1.5 4 -1.4 1.6 -3.5 2.4 -4.5 1.5 -4 0.8 -4 0.5 -4 0.1 -4 0 -4 0 -4 0 -4 0 -4-0.1 -4-0.3 -4-0.3 -4-0.4 -4-0.6 -4-0.8 -1.7-0.4 -2.3-0.5 -4-1.1 -4-1.5 -2.2-0.9 -1.8-0.7 -4-1.8 -3.1-1.5 -4.9-2.6 -2.5-1.4 -1.5-0.9 -4-2.4 -4-2.5 -3.4-2.2 -4.6-3.2 -4-2.8 -2.6-2 -1.4-1.1 -3.7-2.9 -4.3-3.8 -4-3.6 -4-3.4 -1.8-1.2 -2.2-1.7 -3.8-2.3 -4.2-2.2 -4-1.7 -4-1.6 -4-1.6 -2.2-0.9 -1.8-0.7 -4-1.6 -4-1.6 -4-1.2 -4-1.2 -4-1 -3.9-0.7 -4.1-0.2 -1.9 0.2 -2.1 0.3 -4 1.1 -4 1.6 -2 1 -2 1.2 -4 2.8 -4 3.6 -4 3.8 -4 3.9 -4 3.7 -1.1 1 -2.9 2.5 -1.7 1.5 -2.3 1.9 -2.4 2.1 -1.6 1.3 -3 2.7 -4.3 4 -3.9 4 -3.4 4 -1.4 1.7 -1.8 2.3 -2.2 3 -3.7 5 -2.9 4 -1.4 2.1 -1.4 1.9 -2.5 4 -2.3 4 -1.8 3.4 -2.5 4.6 -1.5 2.8 -4 1.2 -52 0 0-516z"/>
<path fill="#9fff60" d="M220.5 51l3.8 4 2.4 4 1.8 2.9 3.4 5.1 3 4 1.6 2 1.5 2 2.5 2.9 0.9 1.1 3.1 3.3 4 4 4 3.6 1.2 1.1 2.8 2.2 2.3 1.8 1.7 1.1 4 2.7 4 2.1 4 2 4 1.3 4 1 4 0.4 4-0.5 3.9-2.1 3-4 1.1-1.8 1.1-2.2 1.7-4 1.2-3.4 1.4-4.6 1-4 0.9-4 0.7-3.7 0.8-4.3 0.7-4 0.8-4 0.7-4 0.8-4 372.2 0 0 319.5 -4-0.3 -4-0.3 -4-0.1 -4 0 -4-0.1 -4 0 -4-0.1 -4-0.2 -4-0.2 -4-0.3 -4-0.3 -4-0.4 -4-0.5 -4-0.6 -4-0.7 -4-0.7 -4-0.8 -4-1 -3-0.9 -5-1.7 -4-1.6 -1.6-0.7 -2.4-1.1 -4-1.9 -1.9-1 -2.1-1 -4-2 -1.8-1 -2.2-1.3 -3.9-2.7 -3.9-4 -3.8-4 -4.4-3.8 -4-4.2 -2.8-4 -1.2-2.2 -1-1.8 -1.8-4 -1.2-2.7 -3.2-5.3 -3.1-4 -1.7-2 -2.1-2 -1.9-1.7 -3.3-2.3 -4.7-2.7 -2.5-1.3 -1.5-0.6 -4-1.5 -4-1.2 -2.9-0.7 -5.1-0.6 -4-0.3 -4-0.3 -4-0.2 -4 0.4 -3.8 1 -4.2 2 -3.6 2 -4.2 4 -3.4 4 -4 4 -4.8 3.5 -4 2.1 -4 2.2 -4 3 -1.4 1.2 -2.6 2.3 -1.8 1.7 -2.2 2.2 -1.6 1.8 -2.4 3.1 -2.7 4.9 -1.3 3.7 -1 4.3 -0.7 4 -0.7 4 -0.7 4 -0.9 3.2 -1.8 4.8 -2.2 4 -2.4 4 -1.6 2.6 -0.8 1.4 -2 4 -1.2 3.3 -1.2 4.7 -0.7 4 -0.6 4 -0.5 4 -0.4 4 -0.5 4 -0.4 4 -0.4 4 -0.3 4 -0.3 4 -0.2 4 -0.2 4 -0.1 4 -0.1 4 0 4 -0.1 4 0 4 0.1 4 0.2 4 0.3 4 0.6 4 0.8 3.8 1.1 4.2 1.3 4 1.6 3.8 2 4.2 2 3.5 3 4.5 1 1.3 2.1 2.7 1.9 2.2 1.6 1.8 2.4 2.8 1.1 1.2 2.9 3.4 3.4 4.6 2.4 4 1.9 4 1.1 4 0 4 -0.8 2.1 -1 1.9 -3 2.6 -2.7 1.4 -5.3 1.5 -4 0.6 -4 0.2 -4 0.2 -4 0.3 -4 0.1 -4 0 -4-0.1 -4-0.2 -4-0.3 -4-0.5 -4-0.6 -4-0.9 -4-1 -4-1.3 -4-1.5 -4-1.6 -4-1.9 -1.9-1 -2.1-1.1 -4-2.2 -4-2.4 -3.8-2.3 -4.2-2.7 -1.9-1.3 -2.1-1.4 -3.6-2.6 -4.4-3.3 -4-3.4 -1.4-1.3 -2.6-2.4 -1.8-1.6 -2.2-2.1 -2.2-1.9 -1.8-1.6 -3.2-2.4 -4.8-3.2 -1.6-0.8 -2.4-1.2 -4-1.7 -2.6-1.1 -1.4-0.6 -4-1.5 -4-1.6 -4-1.6 -4-1.5 -3.3-1.2 -4.7-1.5 -4-1.2 -4-0.8 -4-0.3 -4 0.2 -4 0.8 -4 1.4 -3 1.4 -5 3 -1.5 1 -2.5 2 -2.4 2 -1.6 1.4 -2.7 2.6 -1.3 1.3 -2.6 2.7 -1.4 1.3 -2.6 2.7 -1.4 1.3 -2.8 2.7 -1.2 1.1 -3.1 2.9 -4.4 4 -4.3 4 -3.9 4 -3.6 4 -3.2 4 -1.5 1.9 -1.6 2.1 -2.4 3.1 -3.7 4.9 -3 4 -1.3 1.8 -1.6 2.2 -2.4 3.9 -2.3 4.1 -1.7 3.4 -2.5 4.6 -1.5 2.7 -0.8 1.3 -51.2 0 0-516z"/>
<path fill="#acff53" d="M215.1 51l1.4 2.3 1 1.7 2.5 4 2.7 4 1.8 2.5 1.1 1.5 2.9 3.8 3.4 4.2 3.5 4 1.1 1.2 2.7 2.8 1.3 1.3 2.8 2.7 1.2 1.1 3.2 2.9 4.8 3.8 4 2.8 2 1.4 2 1.2 4 2.3 4 1.9 4 1.6 3 1 5 1 4 0.3 4-0.3 2.7-1 1.3-0.7 3.8-3.3 2.9-4 1.3-2.4 0.9-1.6 1.8-4 1.3-3.3 1.7-4.7 1.2-4 1.1-4 1-4 1-4 1-4 1-4 1-4 1.1-4 365.9 0 0 318.1 -4-0.4 -4-0.2 -4-0.1 -4 0 -4-0.1 -4 0 -4-0.1 -4-0.2 -4-0.2 -4-0.3 -4-0.3 -4-0.5 -4-0.4 -4-0.6 -4-0.7 -4-0.8 -4-0.9 -4-1 -4-1.2 -4-1.5 -1.5-0.6 -2.5-1 -4-1.9 -2.3-1.1 -1.7-0.8 -4-2 -2.3-1.2 -1.7-0.9 -4-2.3 -4-3.5 -1.3-1.3 -2.7-3.6 -4-4 -4-3.6 -3.6-4.8 -2.1-4 -1.8-4 -1.7-4 -2.1-4 -2.6-4 -2.1-2.8 -1.1-1.2 -2.9-3.1 -4-3 -3.1-1.9 -4.9-2.2 -4-1.5 -4-1.2 -4-0.9 -4-0.6 -4-0.4 -4-0.2 -4-0.2 -4-0.1 -4 0.4 -4 1 -4 1.5 -4 2.3 -2.6 2.1 -1.4 1.4 -2.2 2.6 -1.8 2.2 -1.6 1.8 -2.4 2.4 -2 1.6 -2 1.4 -4 2.3 -4 2.3 -2.9 2 -5 4 -4.1 3.8 -3.8 4.2 -2.7 4 -1.5 3 -1.8 5 -1 4 -0.8 4 -0.4 2.2 -0.4 1.8 -0.9 4 -1.2 4 -1.5 3.5 -2.6 4.5 -1.4 2.3 -1.1 1.7 -2.4 4 -1.8 4 -1.4 4 -0.9 4 -0.4 2.6 -0.7 5.4 -0.5 4 -0.4 4 -0.3 4 -0.4 4 -0.2 4 -0.3 4 -0.2 4 -0.2 4 -0.1 4 -0.1 4 -0.1 4 0 4 -0.1 4 0 4 0 4 0.2 4 0.3 4 0.5 4 0.8 4 1 4 0.8 2.6 1.9 5.4 1.8 4 2.1 4 2.2 3.6 3.2 4.4 3.1 4 1.7 2.1 1.6 1.9 2.4 3.3 3.2 4.7 0.8 1.6 1.2 2.4 1.4 4 0.3 4 -1.6 4 -1.3 1.3 -4 2.5 -4 1.2 -4 0.8 -4 0.5 -4 0.4 -4 0.3 -4 0.2 -4 0 -4-0.1 -4-0.2 -4-0.4 -4-0.5 -4-0.7 -4-1 -4-1.2 -4-1.3 -4-1.6 -4-1.8 -4-2 -4-2.2 -3.9-2.2 -4.1-2.4 -2.4-1.6 -1.6-1 -4-2.7 -4-2.9 -1.9-1.4 -2.1-1.7 -2.7-2.3 -1.3-1.2 -2.9-2.8 -1.1-1.1 -3.1-2.9 -4.4-4 -4.5-3.7 -4-2.4 -3.8-1.9 -4.2-1.8 -4-1.6 -1.4-0.6 -2.6-1 -4-1.5 -3.6-1.5 -4.4-1.7 -4-1.5 -2.3-0.8 -1.7-0.6 -4-1.3 -4-1 -4-0.5 -4 0.1 -4 0.7 -4 1.2 -3.3 1.4 -4.7 2.5 -2.4 1.5 -1.6 1.1 -3.8 2.9 -4.2 3.5 -4 3.9 -4 4.2 -4 4.2 -4 3.9 -4 3.9 -4 3.8 -4 4 -4 4.4 -3.5 4.2 -3.1 4 -1.4 1.8 -1.7 2.2 -2.3 3 -4 5 -3.1 4 -0.9 1.2 -2 2.8 -2 3.5 -2.4 4.5 -1.6 3.1 -2.7 4.9 -1.3 2.3 -1 1.7 -47 0 0-516z"/>
<path fill="#b9ff46" d="M208.5 51l2.6 4 1.4 2.2 1.2 1.8 2.8 4 3 4 1 1.3 2.1 2.7 1.9 2.2 1.5 1.8 2.5 2.8 1.1 1.2 2.9 3 4 4 1.1 1 2.9 2.6 1.6 1.4 2.4 1.9 2.6 2.1 1.4 1 4 2.9 4 2.5 2.7 1.6 1.3 0.7 4 2 2.9 1.3 5.1 1.7 4 1.1 4 0.6 4 0.2 4-0.5 4-1.4 3.1-1.7 4.3-4 2.8-4 1.8-3.2 2.6-4.8 1.4-3.2 2-4.8 1.4-4 0.6-1.7 0.8-2.3 1.3-4 1.2-4 0.7-2.5 1.8-5.5 1.3-4 0.9-2.5 0.6-1.5 359.4 0 0 316 -4 0.3 -4-0.2 -4-0.1 -3.7 0 -4.3-0.1 -4 0 -4-0.1 -4-0.1 -4-0.2 -4-0.3 -4-0.4 -4-0.4 -4-0.5 -4-0.7 -4-0.7 -2.4-0.5 -5.6-1.2 -4-1.1 -4-1.3 -4-1.5 -4-1.6 -2.7-1.3 -5.3-2.6 -2.7-1.4 -5.3-2.9 -1.9-1.1 -2.1-1.5 -2.6-2.5 -1.4-1.7 -1.7-2.3 -2.3-2.9 -1.1-1.1 -2.9-3.1 -4-4.7 -2.2-4.2 -1.8-3.8 -1.8-4.2 -1.8-4 -2.2-4 -2.2-3.4 -3.7-4.6 -4.3-3.9 -4-2.2 -4-1.8 -4-1.4 -4-1.1 -4-0.9 -3.7-0.7 -4.3-0.5 -4-0.3 -4-0.2 -4-0.1 -4-0.1 -4 0.4 -3.8 0.8 -4.2 1.6 -4 2 -4 3.2 -1.2 1.2 -2.8 3.4 -4 4.6 -4 3.4 -4 2.5 -3.7 2.1 -4.3 2.8 -1.5 1.2 -2.5 2 -2.3 2 -1.7 1.6 -2.5 2.4 -1.5 1.7 -1.9 2.3 -2.1 3.3 -2.2 4.7 -1.3 4 -0.5 1.9 -0.6 2.1 -0.9 4 -0.9 4 -1 4 -0.6 1.8 -0.8 2.2 -2 4 -1.2 2 -1.3 2 -2.6 4 -2.2 4 -1.8 4 -1.2 4 -0.9 4 -0.6 4 -0.4 4 -0.4 4 -0.3 4 -0.3 4 -0.2 4 -0.2 4 -0.2 4 -0.2 4 -0.1 4 -0.2 4 0 4 -0.1 4 0 4 0 4 -0.1 4 0 4 0.1 4 0.3 4 0.5 4 0.4 2.1 0.3 1.9 0.9 4 1.1 4 1.4 4 1.6 4 1.9 4 0.8 1.6 1.4 2.4 2.6 4 2.9 4 1.1 1.5 1.8 2.5 2.2 3.4 2.5 4.6 1.5 3.9 0.5 4.1 -0.5 1.9 -0.8 2.1 -3.2 2.8 -2.2 1.2 -1.8 0.7 -4 1 -4 0.7 -4 0.6 -4 0.4 -4 0.2 -4 0 -4-0.1 -4-0.2 -4-0.5 -4-0.6 -4-0.9 -4-1 -4-1.3 -4-1.5 -3.5-1.5 -4.5-2.2 -3.5-1.8 -4.5-2.4 -2.6-1.6 -1.4-0.8 -4-2.5 -4-2.7 -2.8-2 -1.2-0.9 -3.9-3.1 -4.1-3.9 -4-3.9 -4-4 -4-3.7 -4-3.2 -2.2-1.3 -1.8-1 -4-1.9 -2.6-1.1 -1.4-0.6 -4-1.5 -4-1.6 -4-1.6 -4-1.6 -2.8-1.1 -5.2-2.1 -4-1.5 -4-1.5 -4-1.1 -4-0.6 -4-0.1 -4 0.6 -4 1.1 -3.2 1.2 -4.8 2.3 -2.8 1.7 -5.2 3.5 -4 3 -1.8 1.5 -2.2 2 -2.2 2 -1.8 1.9 -2.1 2.1 -1.9 2 -1.9 2 -2.1 2.1 -1.8 1.9 -2.2 2.2 -1.8 1.8 -2.2 2.2 -1.8 1.8 -2.2 2.2 -1.7 1.8 -2.3 2.5 -1.3 1.5 -2.7 3.1 -3.8 4.9 -3.1 4 -1.1 1.4 -2 2.6 -2 2.5 -1.2 1.5 -2.8 3.5 -3.5 4.5 -2.7 4 -1.8 3.2 -2.6 4.8 -1.4 2.7 -0.7 1.3 -2.3 4 -1 1.7 -1.4 2.3 -42.6 0 0-516z"/>
<path fill="#c6ff39" d="M200.5 51l4 3.5 3.1 4.5 0.9 1.3 2 2.7 2 2.7 1 1.3 3 3.7 3.7 4.3 3.7 4 3.9 4 4.2 4 4.5 3.9 4 3.2 4 3 2.6 1.9 1.4 0.9 4 2.6 4 2.2 4 2.1 4 1.8 4 1.5 2.9 0.9 5.1 1.1 4 0.5 4 0 4-0.5 3.8-1.1 4.2-2.3 2.8-1.7 1.2-1.1 2.8-2.9 1.2-1.8 1.7-2.2 2.3-3.5 2.8-4.5 1.2-2.6 0.8-1.4 1.9-4 1.3-3.1 2-4.9 1.4-4 0.6-1.7 0.9-2.3 1.5-4 1.5-4 1.8-4 1.9-4 352.4 0 0 315.2 -4-0.3 -4-0.1 -4-0.1 -4 0 -4 0 -4-0.1 -4-0.1 -4-0.1 -4-0.2 -4-0.3 -4-0.4 -4-0.4 -4-0.6 -3-0.5 -5-0.9 -4-0.9 -4-0.9 -4-1.1 -4-1.4 -4-1.5 -3-1.3 -5-2.4 -3.2-1.6 -4.8-2.6 -2.4-1.4 -1.6-1.1 -4-2.9 -3.1-4 -0.9-1.3 -2.1-2.7 -1.9-2.6 -1.3-1.4 -2.7-3.8 -2.2-4.2 -1.8-3.7 -2.1-4.3 -1.8-4 -1.8-4 -2.3-4 -2.8-4 -1.2-1.5 -2.2-2.5 -1.8-1.4 -4-2.4 -4-1.6 -4-1.4 -4-1.2 -4-0.7 -4-0.7 -4-0.6 -4-0.5 -4-0.2 -4-0.2 -4-0.1 -4 0 -4 0.4 -4 0.8 -4 1.4 -4 2 -3.6 2.4 -3.9 4 -3.1 4 -1.4 1.5 -2.5 2.5 -1.5 1.3 -4 2.7 -4 2.4 -2.6 1.6 -1.4 0.9 -4 3 -4 3.5 -4 3.8 -3.9 4.8 -2.4 4 -1.7 4 -1.3 4 -1.1 4 -0.9 4 -0.7 2.6 -1.7 5.4 -1.5 4 -0.8 1.6 -1.5 2.4 -2.5 3.8 -2.7 4.2 -1.3 2.5 -0.8 1.5 -1.6 4 -1.2 4 -0.4 2.1 -0.4 1.9 -0.5 4 -0.4 4 -0.3 4 -0.3 4 -0.2 4 -0.2 4 -0.1 4 -0.1 4 -0.1 4 -0.1 4 -0.1 4 -0.1 4 0 4 0 4 0 4 -0.1 4 0 4 0.1 4 0.2 4 0.4 4 0.7 4 0.8 4 0.8 3.2 1.4 4.8 1.4 4 1.2 2.9 2.3 5.1 1.7 3 3.1 5 0.9 1.3 1.7 2.7 2.2 4 1.4 4 0.5 4 -1 4 -4.5 4 -4.3 1.5 -4 1 -4 0.7 -4 0.5 -4 0.3 -4 0 -4-0.1 -4-0.3 -4-0.5 -4-0.8 -4-1 -4-1.1 -4-1.4 -4-1.7 -2.4-1.1 -1.6-0.7 -4-2 -2.3-1.3 -1.7-0.9 -4-2.3 -1.3-0.8 -2.7-1.7 -3.4-2.3 -4.6-3.4 -4-3.4 -1.3-1.2 -2.7-2.6 -1.4-1.4 -2.6-2.7 -1.3-1.3 -2.7-2.8 -1.3-1.2 -2.7-2.6 -1.8-1.4 -2.2-1.5 -4-2.3 -4-1.8 -4-1.6 -1.9-0.8 -2.1-0.8 -4-1.5 -4-1.7 -4-1.6 -4-1.6 -1.9-0.8 -2.1-0.9 -4-1.8 -3.4-1.3 -4.6-1.5 -4-0.8 -4-0.1 -4 0.4 -4 1 -2.9 1 -5.1 2.3 -3.1 1.7 -4.9 3.1 -1.3 0.9 -2.7 2 -2.7 2 -1.3 1.1 -3.5 2.9 -4.2 4 -4 4 -4 4 -3.9 4 -3.9 4 -3.8 4 -3.6 4 -1.1 1.3 -2.3 2.7 -1.7 2.1 -1.4 1.9 -2.6 3.4 -3.4 4.6 -3.1 4 -1.5 1.9 -1.7 2.1 -2.3 2.9 -0.9 1.1 -3 4 -2.6 4 -1.5 2.6 -0.8 1.4 -2.2 4 -1 1.9 -1.2 2.1 -2.4 4 -2.6 4 -37.8 0 0-516z"/>
<path fill="#d2ff2d" d="M196 51l2.7 4 1.8 2.6 1 1.4 3 4 3.2 4 3.3 4 1.5 1.7 2 2.3 2 2.1 1.8 1.9 2.2 2.2 1.8 1.8 2.2 2.1 2 1.9 2 1.7 2.6 2.3 1.4 1.1 3.6 2.9 4.4 3.2 4 2.7 3.2 2.1 4.8 2.7 2.4 1.3 1.6 0.8 4 1.8 3.3 1.4 4.7 1.5 4 1.1 4 0.7 4 0.4 4-0.1 4-0.6 4-1.2 4-1.8 4-2.5 2.2-1.5 1.8-1.8 2.3-2.2 1.7-2.2 1.8-1.8 2.2-3 3.5-5 2.6-4 1.9-3.5 2.4-4.5 1.6-4 1.6-4 1.6-4 0.8-2 0.9-2 2.1-4 1-1.9 1.3-2.1 2.6-4 344.1 0 0 312 -4 1.6 -4-0.1 -4 0 -4-0.1 -4 0 -4-0.1 -4-0.1 -4-0.1 -4-0.2 -4-0.3 -4-0.4 -4-0.5 -4-0.5 -4-0.7 -4-0.8 -4-0.9 -3.3-0.8 -4.7-1.3 -4-1.4 -3.1-1.3 -4.9-2.2 -3.7-1.8 -4.3-2.4 -2.9-1.6 -5.1-3.5 -4-4 -3.2-4.5 -0.8-1.3 -2-2.7 -2-3.5 -2.1-4.5 -1.4-4 -2.1-4 -2.1-4 -1.9-4 -2-4 -2.4-4 -2-2.9 -4-4.1 -1.2-1 -2.8-1.4 -4-1.5 -3.4-1.1 -4.6-1.2 -4-0.9 -4-0.8 -4-0.6 -3.8-0.5 -4.2-0.4 -4-0.2 -4-0.1 -4-0.1 -4 0 -4 0.4 -2.1 0.4 -1.9 0.4 -4 1.4 -4 1.8 -4 2.6 -2.1 1.8 -1.9 2 -1.6 2 -2.4 3 -4 4.1 -4 3 -3.1 1.9 -4.9 3.1 -1.4 0.9 -2.6 1.9 -2.6 2.1 -1.4 1.2 -3.1 2.8 -3.9 4 -1 1.2 -2 2.8 -2 3.7 -1.8 4.3 -1.2 4 -1 3.5 -1.3 4.5 -1.3 4 -1.3 4 -2 4 -2.1 3.5 -3.1 4.5 -0.9 1.5 -1.5 2.5 -2 4 -1.6 4 -1 4 -0.7 4 -0.5 4 -0.3 4 -0.3 4 -0.1 2 -0.1 2 -0.1 4 -0.1 4 -0.1 4 0 4 -0.1 4 -0.1 4 0 4 -0.1 4 0 4 0 4 0 4 -0.1 4 -0.1 4 0.1 4 0.2 4 0.4 4 0.6 4 0.7 4 0.9 4 1 4 1 3.2 1.6 4.8 1.5 4 0.9 2.1 0.9 1.9 1.9 4 1.2 2.4 0.9 1.6 1.5 4 0.6 4 -1.1 4 -1.9 2.2 -2.4 1.8 -1.6 0.7 -4 1.4 -4 1 -4 0.7 -2.5 0.2 -5.5 0.2 -4 0 -2.1-0.2 -1.9-0.2 -4-0.6 -4-0.9 -4-1 -3.9-1.3 -4.1-1.6 -4-1.8 -4-1.9 -4-2 -4-2.3 -3.8-2.4 -4.2-2.9 -1.5-1.1 -2.5-2 -2.3-2 -1.7-1.5 -2.5-2.5 -1.5-1.5 -2.5-2.5 -1.5-1.6 -2.3-2.4 -1.7-1.7 -2.4-2.3 -1.6-1.5 -3.6-2.5 -4.4-2.4 -3.5-1.6 -4.5-1.9 -4-1.5 -1.5-0.6 -2.5-1 -4-1.6 -3.3-1.4 -4.7-2 -4-1.8 -4-2 -4-1.7 -4-1.4 -4-0.8 -4-0.2 -4 0.3 -4 0.8 -2.4 0.8 -1.6 0.5 -4 1.7 -3.4 1.8 -4.6 2.8 -1.8 1.2 -2.2 1.5 -3.4 2.5 -4.6 3.5 -4 3.4 -1.2 1.1 -2.8 2.5 -1.6 1.5 -2.4 2.3 -1.8 1.7 -2.2 2.2 -1.9 1.8 -2.1 2.2 -1.8 1.8 -2.2 2.3 -1.5 1.7 -2.5 2.8 -1 1.2 -3 3.5 -3.5 4.5 -2.9 4 -1.6 2.2 -1.3 1.8 -2.7 3.8 -3.2 4.2 -3.2 4 -1.6 2 -1.5 2 -2.5 3.4 -3 4.6 -1 1.6 -1.4 2.4 -2.3 4 -2.3 4 -2 3.2 -3.4 4.8 -32.6 0 0-516z"/>
<path fill="#dfff20" d="M188.5 51l4 3.8 3 4.2 1 1.2 2.1 2.8 1.9 2.3 1.3 1.7 2.7 3.1 4 4.5 4 4.2 4 4 4 3.7 4 3.5 1.2 1 2.8 2.2 2.2 1.8 1.8 1.3 3.7 2.7 4.3 2.9 1.8 1.1 2.2 1.3 4 2.3 4 2.1 4 1.9 4 1.7 4 1.4 4 1.2 4 0.9 4 0.6 4 0.2 4-0.2 4-0.6 2.8-0.8 5.2-2.1 3.8-1.9 4.2-2.8 1.7-1.2 2.3-2.2 2.3-1.8 1.7-1.7 2.7-2.3 1.3-1.4 2.8-2.6 1.2-1.5 2.8-2.5 1.2-1.5 2.7-2.5 1.3-2.1 1.3-1.9 1.2-4 1.1-4 1.6-4 1.8-4 1-2 1.2-2 2.8-3.8 4-4.2 4-3.9 4-0.1 328 0 0 312 -4 0.3 -4-0.1 -4 0 -4 0 -4-0.1 -3.8-0.1 -4.2-0.1 -4-0.1 -4-0.2 -4-0.3 -4-0.4 -4-0.4 -4-0.6 -4-0.7 -4-0.9 -4-0.9 -4-1 -4-1.2 -3.2-1.2 -4.8-2 -4-1.9 -4-2.2 -3.5-1.9 -4.5-3.1 -1.3-0.9 -2.7-2.6 -1.3-1.4 -2.7-3.7 -2.7-4.3 -1.3-2.5 -0.8-1.5 -1.5-4 -1.2-4 -0.5-1.5 -1.1-2.5 -2.1-4 -0.8-1.7 -1.2-2.3 -2.1-4 -2.3-4 -2.4-4 -3.6-4 -4.4-2.9 -2.5-1.1 -5.5-1.4 -4-1 -4-1 -2.7-0.6 -5.3-0.8 -4-0.6 -4-0.4 -4-0.4 -4-0.2 -4-0.1 -4-0.1 -4 0 -4 0.4 -4 0.8 -4 1.4 -4 1.8 -4 2.2 -4 3.4 -3.7 4.6 -3.4 4 -4.7 4 -4.2 2.7 -2.1 1.3 -1.9 1.2 -4 2.7 -4 3.2 -1.1 0.9 -2.9 2.5 -1.6 1.5 -2.4 2.5 -1.3 1.5 -2.7 3.9 -2.1 4.1 -1.5 4 -1.3 4 -1.2 4 -1.3 4 -0.6 1.9 -0.8 2.1 -1.8 4 -1.4 2.8 -0.8 1.2 -2.7 4 -2.7 4 -1.8 3.1 -2.3 4.9 -1.4 4 -1 4 -0.6 4 -0.4 4 -0.3 4 -0.2 4 -0.1 4 -0.1 4 0 4 0 4 -0.1 4 0 4 0 4 0 4 -0.1 4 0 4 0 4 0 4 -0.1 4 -0.1 4 0.1 4 0.1 4 0.3 4 0.5 4 0.7 4 0.8 4 0.9 4 0.9 4 1.1 4 1.1 4 1.1 4 1.2 4 1 4 0.4 4 -1.1 4 -2.3 2.6 -1.7 1.4 -2.3 1.1 -4 1.5 -4 1 -2.9 0.4 -5.1 0.4 -4-0.1 -2.5-0.3 -5.5-0.9 -4-0.9 -4-1.2 -2.8-1 -5.2-2.1 -4-1.8 -4-2 -3.8-2.1 -4.2-2.7 -1.9-1.3 -2.1-1.6 -3.1-2.4 -4.5-4 -4-4 -3.8-4 -3.9-4 -4.4-4 -4.3-2.9 -2-1.1 -2-1.1 -4-1.8 -2.9-1.1 -5.1-2 -4-1.6 -4-1.7 -4-1.8 -2.1-0.9 -1.9-0.9 -4-2 -2.1-1.1 -1.9-1 -4-1.8 -3.3-1.2 -4.7-1.1 -4-0.4 -4 0.3 -4 0.6 -2 0.6 -2 0.6 -4 1.5 -3.8 1.9 -4.2 2.4 -2.4 1.6 -1.6 1.1 -4 2.8 -4 2.8 -1.7 1.3 -2.3 1.8 -2.8 2.2 -1.2 1.1 -3.5 2.9 -4.5 3.9 -4 3.7 -4 3.9 -4 4.1 -3.9 4.4 -3.3 4 -3 4 -1.8 2.6 -1 1.4 -2.7 4 -2.7 4 -1.6 2.3 -1.2 1.7 -2.8 3.8 -3.3 4.2 -3.1 4 -1.6 2.2 -1.4 1.8 -2.6 3.9 -2.5 4.1 -1.5 2.6 -0.9 1.4 -2.4 4 -2.8 4 -1.9 2.4 -1.4 1.6 -26.6 0 0-516z"/>
<path fill="#ecff13" d="M183.8 51l2.8 4 1.9 2.5 1.1 1.5 2.9 3.7 3.5 4.3 3.5 4 1 1.1 2.7 2.9 1.3 1.3 2.6 2.7 1.4 1.4 2.7 2.6 1.3 1.2 3.1 2.8 4.7 4 4.2 3.4 4 2.9 2.3 1.7 1.7 1.2 4 2.6 4 2.4 3 1.8 5 2.6 2.8 1.4 5.2 2.2 4 1.6 4 1.3 4 1 4 0.8 4 0.5 4 0.1 4-0.2 4-0.7 4-1.2 3.6-1.4 4.4-2.2 3.4-1.8 4.6-3 1.7-1 2.3-1.8 3.7-2.2 4.3-2.6 3.6-1.4 4.4-1.4 4-0.7 4-0.6 4-1.1 4-2.9 1.3-1.3 1.6-4 0.2-4 -0.5-4 -0.3-4 0.8-4 0.9-1.4 2.5-2.6 1.5-0.8 4-2.9 3.6-4.3 2.4-4 2-3.5 4-0.5 312 0 0 311.2 -4-0.2 -4-0.1 -4 0.1 -4 0 -4-0.1 -4-0.1 -4-0.1 -4-0.1 -4-0.2 -4-0.3 -4-0.4 -4-0.4 -4-0.6 -3.4-0.7 -4.6-1 -4-0.9 -4-1.1 -3-1 -5-1.9 -4-1.8 -4-2 -4-2.3 -4-2.7 -1.9-1.3 -2.1-2 -2.1-2 -1.9-2.6 -1-1.4 -2.4-4 -1.9-4 -1.4-4 -1.3-3.9 -1.4-4.1 -1.6-4 -1-2.3 -0.8-1.7 -2.1-4 -1.1-1.8 -1.3-2.2 -2.4-4 -3.2-4 -1.1-0.9 -4-2.9 -4-1.8 -4-1.1 -4-0.9 -4-0.9 -4-0.8 -4-0.8 -4-0.6 -4-0.5 -4-0.4 -4-0.4 -4-0.2 -4-0.1 -4-0.1 -4 0 -3.8 0.4 -4.2 0.9 -4 1.3 -4 1.7 -4 2.2 -2.8 1.9 -1.2 1 -2.7 3 -1.3 1.6 -1.9 2.4 -2.1 2.5 -1.4 1.5 -2.6 2.1 -2.7 1.9 -1.3 0.8 -4 2.5 -4 2.6 -2.9 2.1 -1.1 0.9 -3.8 3.1 -4.2 3.8 -3.6 4.2 -2.5 4 -1.9 4 -1.5 4 -1.3 4 -1.2 3.9 -1.6 4.1 -1.7 4 -0.7 1.5 -1.4 2.5 -2.6 4 -2.8 4 -1.2 1.8 -1.4 2.2 -2.1 4 -1.7 4 -1.2 4 -0.8 4 -0.5 4 -0.3 2.9 -0.3 5.1 -0.2 4 -0.1 4 0 4 0 4 0 4 0.1 4 0 4 0 4 0 4 0 4 0 4 0 4 -0.1 4 -0.1 4 -0.1 4 0 4 0.2 4 0.2 4 0.4 3.3 0.6 4.7 0.6 4 0.7 4 0.8 4 0.8 4 0.5 3.4 0.6 4.6 0.1 4 -0.5 4 -1.4 4 -2.8 3.4 -4 2.5 -4 1.4 -3.4 0.7 -4.6 0.4 -4-0.2 -2.1-0.2 -1.9-0.2 -4-0.8 -4-1 -4-1.3 -1.7-0.7 -2.3-0.9 -4-1.7 -2.9-1.4 -5.1-2.8 -1.9-1.2 -2.1-1.4 -3.6-2.6 -4.4-3.7 -4-3.7 -4-4 -4-4.2 -4-4 -4-3.3 -1.6-1.1 -2.4-1.6 -4-2.1 -4-1.8 -4-1.5 -2.5-1 -1.5-0.6 -4-1.7 -3.8-1.7 -4.2-2 -4-2 -4-2.2 -3.4-1.8 -4.6-2.2 -4-1.4 -4-1 -4-0.4 -4 0.1 -4 0.5 -4 1 -4 1.3 -4 1.8 -4 2.1 -3.4 2.2 -4.6 3.1 -1.3 0.9 -2.7 1.8 -3 2.2 -5 3.7 -4 3 -1.8 1.3 -2.2 1.8 -2.8 2.2 -1.2 1 -3.5 3 -4.3 4 -4.1 4 -3.7 4 -3.2 4 -1.2 1.6 -1.7 2.4 -2.3 3.5 -2.9 4.5 -1.1 1.7 -1.4 2.3 -2.6 4 -2.7 4 -1.3 1.8 -1.6 2.2 -2.4 3.2 -3.9 4.8 -3.2 4 -0.9 1.4 -1.9 2.6 -2.1 3.3 -3 4.7 -1 1.7 -1.6 2.3 -2.4 3.1 -4 3.6 -1.8 1.3 -18.2 0 0-516z"/>
<path fill="#f9ff06" d="M176.5 51l4 3.8 3.2 4.2 3.2 4 1.6 1.9 1.7 2.1 2.3 2.5 1.3 1.5 2.7 2.9 1 1.1 3 3 4 3.9 1.1 1.1 2.9 2.6 1.5 1.4 2.5 2.1 2.3 1.9 1.7 1.4 3.3 2.6 4.7 3.4 4 2.7 2.8 1.9 5.2 3.2 1.4 0.8 2.6 1.4 4 2.1 4 1.9 4 1.8 1.9 0.8 2.1 0.8 4 1.3 4 1.2 2.8 0.7 5.2 0.9 4 0.4 4 0.1 4-0.3 4-0.7 4-1.2 4-1.6 3.5-1.6 4.5-2.3 3.4-1.7 4.6-2.6 3.4-1.4 4.6-1.8 4-0.8 4-0.2 4 0.4 4 0.4 4 0.1 4-0.4 4-0.6 4-0.9 4-1.5 4-2 4-3.4 1.2-1.3 2.1-4 0.7-2.5 1.3-5.5 1-4 1.2-4 0.5-1.8 0.7-2.2 1.2-4 1.4-4 0.7-1.6 1-2.4 2-4 1-2 1-2 299 0 0 308 -4 1.8 -4-0.1 -4 0.1 -4 0 -4-0.1 -4-0.1 -4-0.1 -4-0.1 -4-0.2 -4-0.3 -4-0.4 -4-0.5 -4-0.6 -4-0.8 -4-0.9 -4-1 -2.5-0.7 -5.5-1.8 -4-1.7 -4-1.9 -4-2.2 -4-2.6 -2.6-1.8 -1.4-1.4 -2.8-2.6 -1.2-1.8 -1.6-2.2 -2.2-4 -1.8-4 -1.5-4 -0.9-2.6 -1.9-5.4 -1.4-4 -0.7-2 -0.8-2 -1.8-4 -1.4-2.4 -1-1.6 -2.6-4 -3-4 -1.4-1.2 -3.4-2.8 -4.6-2.2 -4-1.6 -4-0.9 -4-0.8 -4-0.8 -4-0.9 -4-0.7 -4-0.6 -4-0.5 -4-0.4 -4-0.3 -4-0.2 -4-0.1 -4-0.1 -4 0 -4 0.4 -4 0.9 -2.5 0.8 -5.5 2.2 -3.7 1.8 -4.3 2.8 -1.4 1.2 -2.6 2.9 -0.9 1.1 -3.1 4 -3.9 4 -4.1 2.8 -1.8 1.2 -2.2 1.3 -4 2.6 -4 2.8 -1.7 1.3 -2.3 1.8 -2.6 2.2 -1.4 1.3 -2.8 2.7 -1.2 1.5 -1.9 2.5 -2.1 3.6 -2 4.4 -1.4 4 -0.6 1.8 -0.8 2.2 -1.5 4 -1.6 4 -2.2 4 -1.9 3.2 -3.5 4.8 -2.9 4 -1.6 2.6 -0.8 1.4 -1.9 4 -1.3 3.6 -1.2 4.4 -0.7 4 -0.4 4 -0.3 4 -0.2 4 -0.1 4 -0.1 4 0 4 0.1 4 0.1 4 0.1 4 0 4 0.1 4 0 4 0 4 0 4 0 4 -0.1 4 -0.1 4 -0.1 4 0 4 0.1 4 0.2 4 0.3 4 0.4 4 0.5 4 0.6 4 0.5 4 0.3 2.7 0.3 5.3 -0.2 4 -0.9 4 -1.7 4 -1.5 2.1 -1.9 1.9 -2.1 1.4 -4 1.8 -3.7 0.8 -4.3 0.3 -4-0.1 -4-0.6 -4-0.8 -4-1.2 -4-1.4 -4-1.6 -4-1.9 -4-2.3 -3.6-2.4 -4.4-3.3 -4-3.4 -1.4-1.3 -2.6-2.4 -1.6-1.6 -2.4-2.5 -1.5-1.5 -2.5-2.6 -1.4-1.4 -2.6-2.5 -1.9-1.5 -2.1-1.7 -3.6-2.3 -4.4-2.4 -3.7-1.6 -4.3-1.7 -4-1.6 -1.7-0.7 -2.3-1.1 -4-2 -1.9-0.9 -2.1-1.1 -4-2.2 -4-2.3 -4-2.1 -4-1.9 -4-1.5 -3.6-0.9 -4.4-0.6 -4 0 -4 0.4 -4 0.7 -4 1.1 -4 1.4 -2.1 1 -1.9 0.9 -4 2.3 -1.3 0.8 -2.7 1.8 -3.2 2.2 -4.8 3.4 -4 2.8 -2.6 1.8 -1.4 1 -4 2.6 -4 2.9 -2.1 1.5 -1.9 1.5 -3.1 2.5 -4.6 4 -4.3 3.9 -4 4.1 -3.4 4 -2.8 4 -1.8 3 -3 5 -1 1.7 -1.4 2.3 -2.3 4 -2.4 4 -1.9 3 -3.6 5 -3.6 4 -3.6 4 -1.2 1.4 -2.3 2.6 -1.7 2.3 -1.5 1.7 -2.5 3.5 -3.6 4.5 -4.4 4 -4 2.6 -1.8 1.4 -2.2 1.6 -2.4 2.4 -5.6 0 0-516z"/>
<path fill="#fff900" d="M171.7 51l2.9 4 1.9 2.4 1.3 1.6 2.7 3.4 3.9 4.6 3.6 4 3.8 4 4 4 4.2 4 4.5 4 4 3.4 4 3.2 1.8 1.4 2.2 1.6 3.3 2.4 4.7 3.2 1.3 0.8 2.7 1.7 3.8 2.3 4.2 2.3 3.1 1.7 4.9 2.3 3.6 1.7 4.4 1.7 4 1.5 2.5 0.8 5.5 1.5 4 0.8 4 0.6 4 0.4 4 0 4-0.4 4-0.7 4-1.2 2.5-1 1.5-0.6 4-1.8 3.5-1.6 4.5-2.1 4-1.7 4-1.4 4-0.9 4-0.3 4 0.3 4 0.6 4 0.7 4 0.5 4 0.2 4 0 4-0.3 4-0.5 4-0.9 4-1.2 2.7-1 5.3-3 1.4-1 2.6-2.4 1.9-1.6 2.1-2.2 2.2-1.8 1.8-1.9 2.6-2.1 1.4-1.5 3-2.5 1-1.2 2.8-2.8 1.2-1.9 1.4-2.1 1.4-4 0.3-4 0-4 -0.1-4 0.4-4 0.6-2.9 1.6-5.1 278.4 0 0 308 -4 0.5 -4 0 -4 0.1 -4 0 -4-0.1 -4-0.1 -4-0.1 -4-0.1 -4-0.2 -4-0.3 -4-0.4 -4-0.5 -4-0.6 -4-0.8 -4-1 -1.7-0.4 -2.3-0.6 -4-1.3 -4-1.4 -1.6-0.7 -2.4-1.1 -4-2 -1.6-0.9 -2.4-1.6 -3.4-2.4 -4.1-4 -2.7-4 -1.8-3.8 -1.9-4.2 -1.4-4 -0.7-2 -0.7-2 -1.6-4 -1.4-4 -1.4-4 -1.6-4 -1.3-2.8 -3.3-5.2 -3.3-4 -1.4-1.2 -3.1-2.8 -4.9-2.7 -2.8-1.3 -5.2-1.6 -4-0.9 -4-0.9 -3-0.6 -5-0.9 -4-0.7 -4-0.6 -4-0.5 -4-0.4 -4-0.3 -4-0.2 -4-0.2 -4 0 -4-0.1 -4 0.4 -4 0.9 -4 1.3 -2.9 1.3 -5.1 2.3 -3 1.7 -4.8 4 -3.3 4 -0.9 1.2 -2.3 2.8 -1.7 1.8 -2.8 2.2 -5.2 3.3 -4 2.5 -3.3 2.2 -4.7 3.5 -4 3.2 -1.5 1.3 -2.5 2.4 -1.4 1.6 -2.6 3.5 -2.5 4.5 -1.5 3.7 -1.6 4.3 -1.5 4 -0.9 2.5 -0.7 1.5 -2.1 4 -1.2 2.1 -1.4 1.9 -2.6 3.6 -3.5 4.4 -2.8 4 -1.7 3.2 -2.1 4.8 -1.1 4 -0.8 3.9 -0.6 4.1 -0.4 4 -0.3 4 -0.1 4 -0.1 4 0 4 0.1 4 0.1 4 0.1 4 0.2 4 0.1 4 0.1 4 0 4 0 4 0 4 0 4 -0.1 4 -0.1 4 -0.2 4 0 4 0 4 0.2 4 0.2 4 0.4 4 0.3 4 0.4 4 0.2 4 0 4 -0.3 4 -1 4 -1.8 4 -1.4 2 -2 2 -2 1.4 -4 1.8 -3.6 0.8 -4.4 0.3 -4-0.2 -4-0.7 -4-1 -4-1.3 -2.9-1.1 -5.1-2.4 -2.9-1.6 -5.1-3.4 -4-3.1 -1.8-1.5 -2.2-1.9 -2.3-2.1 -1.7-1.6 -2.4-2.4 -1.6-1.6 -2.3-2.4 -1.7-1.7 -2.5-2.3 -1.5-1.3 -3.4-2.7 -4.6-3.1 -1.8-0.9 -2.2-1.2 -4-1.7 -2.8-1.1 -5.2-2.2 -3.8-1.8 -4.2-2.3 -3.2-1.7 -4.8-2.7 -2.2-1.3 -1.8-1 -4-2.1 -1.9-0.9 -2.1-0.9 -4-1.6 -4-1.1 -2.9-0.4 -5.1-0.3 -4 0.2 -4 0.5 -4 0.7 -4 1.1 -4 1.4 -4 1.9 -4 2.3 -4 2.6 -2.3 1.6 -1.7 1.2 -3.9 2.8 -4.1 2.8 -2 1.2 -2 1.2 -4 2.4 -4 2.7 -2.2 1.7 -1.8 1.4 -3.2 2.6 -4.7 4 -4.1 3.6 -4 3.7 -4 4.3 -3.4 4.4 -2.5 4 -2.1 3.9 -2.2 4.1 -1.8 3.2 -2.8 4.8 -1.2 2 -1.3 2 -2.7 3.8 -4 4.2 -4 3.8 -4 3.5 -4 3.3 -2 1.4 -2 1.5 -4 2.5 -4 3.1 -4 4.5 -3 4.4 -1 1.3 0-509.3z"/>
<path fill="#ffec00" d="M164.5 51l4 3.8 3.3 4.2 3.3 4 1.4 1.6 2.1 2.4 1.9 2.1 1.7 1.9 2.3 2.4 1.5 1.6 2.5 2.5 1.5 1.5 2.5 2.3 1.8 1.7 2.2 2 2.3 2 1.7 1.4 3.1 2.6 4.9 3.9 4 2.9 1.7 1.2 2.3 1.6 3.6 2.4 4.4 2.7 2.1 1.3 1.9 1.1 4 2.2 1.3 0.7 2.7 1.3 4 2 1.5 0.7 2.5 1.1 4 1.6 3.4 1.3 4.6 1.5 4 1.2 4 1 1.7 0.3 2.3 0.4 4 0.5 4 0.3 4-0.1 4-0.3 3.7-0.8 4.3-1.2 4-1.6 2.7-1.2 5.3-2.3 4-1.6 4-1.4 4-1 4-0.4 4 0 4 0.5 4 0.9 4 0.8 2.9 0.5 5.1 0.7 4 0.3 4 0 4-0.2 4-0.6 4-1 4-1.4 4-1.7 4-2.3 3.1-1.8 4.9-3 2.1-1 1.9-1.1 4-1.6 4-1.2 4-1 4-0.9 4-0.9 4-1.2 4-1.8 3.9-2.3 4.1-3.6 2.6-4.4 1.2-4 0.2-3.8 -0.3-4.2 -0.7-4 -0.7-4 -0.4-4 -0.1-4 0.4-4 253.8 0 0 307.5 -4-0.2 -4 0 -4 0.1 -4 0 -4 0 -4-0.1 -4-0.1 -4-0.1 -4-0.2 -4-0.3 -4-0.4 -4-0.5 -4-0.7 -4-0.8 -4-1 -4-1.2 -4-1.3 -2-0.7 -2-0.8 -4-1.9 -2.4-1.3 -1.6-1 -4-2.7 -4-3.8 -3.1-4.5 -0.9-2.2 -0.8-1.8 -1.7-4 -1.3-4 -1.3-4 -1.5-4 -1.4-3.6 -1.7-4.4 -1.6-4 -0.7-1.8 -1.1-2.2 -2.2-4 -3.1-4 -1.6-1.3 -3.3-2.7 -4.7-2.8 -2.1-1.2 -1.9-0.8 -4-1.4 -4-1.1 -2.8-0.7 -5.2-1.1 -4-0.8 -4-0.7 -4-0.7 -4-0.6 -4-0.5 -4-0.4 -4-0.3 -4-0.2 -4-0.2 -4-0.1 -4 0 -4 0.4 -4 0.9 -4 1.3 -4 1.7 -2.9 1.3 -5.1 2.6 -1.9 1.4 -2.1 1.8 -2.1 2.2 -1.9 2.4 -1.3 1.6 -2.7 3.3 -4 3.3 -2.1 1.4 -1.9 1.2 -4 2.5 -4 2.6 -2.5 1.7 -1.5 1.1 -3.9 2.9 -4.1 3.5 -4 4.3 -2.9 4.2 -1.1 2.3 -0.9 1.7 -1.6 4 -1.4 4 -1.8 4 -1.9 4 -2.6 4 -1.8 2.4 -1.4 1.6 -2.6 3 -4 4.9 -2.6 4.1 -1.4 3.3 -1.6 4.7 -0.9 4 -0.6 4 -0.5 4 -0.3 4 -0.2 4 -0.1 4 0.1 4 0.1 4 0.1 4 0.1 4 0.1 4 0.2 4 0.2 4 0.1 4 0 4 0.1 4 0 4 0 4 -0.2 4 -0.1 4 -0.2 4 0 4 0 4 0 4 0.2 4 0.1 4 0.2 4 0.1 4 0 4 -0.4 4 -0.6 2.6 -2.3 5.4 -1.7 2.4 -1.7 1.6 -2.3 1.6 -4 1.7 -3.7 0.7 -4.3 0.2 -4-0.4 -4-0.9 -4-1.2 -4-1.4 -4-2 -4-2.3 -4-2.7 -1.6-1.3 -2.4-1.8 -2.6-2.2 -1.4-1.2 -3.1-2.8 -4-4 -4.1-4 -4.5-4 -4.3-3.4 -4-2.6 -3.9-2 -4.1-1.8 -4-1.7 -4-1.8 -4-2.1 -4-2.2 -4-2.3 -4-2.2 -3.3-1.9 -4.7-2.4 -3.6-1.6 -4.4-1.7 -4-1.2 -4-0.7 -4-0.4 -4-0.1 -4 0.2 -4 0.4 -4 0.6 -4 0.9 -4 1.3 -1.6 0.7 -2.4 1.1 -4 2.2 -4 2.4 -3.5 2.3 -4.5 2.9 -1.8 1.1 -2.2 1.3 -4 2.4 -4 2.5 -2.4 1.8 -1.6 1.2 -3.1 2.8 -4.3 4 -4.3 4 -4.3 3.9 -4 3.6 -4 3.9 -4 4.4 -2.9 4.2 -1.1 1.8 -1.3 2.2 -2.2 4 -2.5 4 -2 3 -3.6 5 -3.3 4 -1.1 1.1 -2.9 2.9 -1.1 1 -3.8 3 -4.2 2.8 -1.9 1.2 -2.1 1.4 -4 2.6 -4 3.3 -4 4.6 0-495.9zM183.8 375l-2.3 4 0 4 1.7 4 1.3 2 4 0.7 3.7-2.7 2.1-4 1.6-4 0.3-4 -3.7-1.7 -4-0.5 -4 1.4z"/>
<path fill="#ffdf00" d="M159.5 51l1 1.2 2.1 2.8 1.9 2.4 1.3 1.6 2.7 3.2 4 4.6 3.8 4.2 3.9 4 4 4 4.3 4 4 3.5 4 3.4 1.3 1.1 2.7 2.1 2.4 1.9 1.6 1.1 4 2.9 4 2.7 1.9 1.3 2.1 1.3 4 2.5 4 2.3 3.5 1.9 4.5 2.3 3.4 1.7 4.6 2 4 1.7 4 1.5 4 1.4 4 1.2 4 1.1 4 0.9 4 0.7 4 0.4 4 0.2 4-0.1 4-0.4 4-0.7 4-1.3 1.6-0.6 2.4-0.9 4-1.8 3-1.3 5-1.9 4-1 4-0.6 4-0.1 4 0.3 4 0.8 4 1 4 1 2.4 0.5 5.6 1 4 0.4 4 0.2 4-0.1 4-0.5 4-0.8 4-1.2 4-1.7 2.6-1.3 1.4-0.7 4-2.2 2.4-1.1 1.6-0.8 4-1.6 4-1.1 2.9-0.5 5.1-0.6 4-0.1 4-0.1 4-0.3 4-0.7 4-1.4 1.5-0.8 2.5-1.5 2.8-2.5 1.2-1.1 2.6-2.9 1.4-1.7 1.8-2.3 2.2-3 3.2-5 0.8-1.8 1.1-2.2 1.4-4 1.1-4 0.4-2.3 0.4-1.7 0.8-4 1-4 1.5-4 2.1-4 50.2 0 -0.6 4 -0.5 4 -0.1 4 0.4 4 0.8 2.2 0.6 1.8 2.7 4 4.3 4 4.4 2.5 4 1.5 4 0.6 4 0.6 4 0.7 4 0.4 4-0.4 2.8-1.9 1.1-4 -1.2-4 -2.2-4 -2.9-4 -1.6-2.3 -1.4-1.7 -2.6-3.8 -3.3-4.2 -3.5-4 158.8 0 0 306.3 -4-0.1 -4 0 -4 0.1 -4 0 -4-0.1 -4-0.1 -4 0 -4-0.1 -4-0.2 -4-0.3 -4-0.5 -4-0.5 -2.9-0.5 -5.1-1.1 -4-1 -4-1.2 -2.1-0.7 -1.9-0.7 -4-1.7 -3.3-1.6 -4.7-2.9 -1.5-1.1 -2.5-2.3 -1.7-1.7 -2.3-3.5 -2.1-4.5 -1.4-4 -0.5-1.7 -0.8-2.3 -1.3-4 -1.2-4 -0.7-1.8 -0.9-2.2 -1.7-4 -1.4-3.5 -2-4.5 -1.8-4 -2.6-4 -1.6-1.6 -3-2.4 -5-2.6 -2.2-1.4 -1.8-0.9 -4-1.7 -4-1.4 -4-1 -4-0.9 -4-0.9 -4-0.8 -2.2-0.4 -1.8-0.3 -4-0.7 -4-0.6 -4-0.5 -4-0.4 -4-0.3 -4-0.3 -4-0.1 -4-0.1 -4 0 -4 0.4 -4 0.8 -4 1.3 -1.8 0.8 -2.2 0.9 -4 1.7 -2.8 1.4 -5.2 3.5 -4 4.1 -3.7 4.4 -4 4 -4.3 2.9 -1.7 1.1 -2.3 1.4 -4 2.6 -4 2.6 -2 1.4 -2 1.4 -3.3 2.6 -4.4 4 -3.4 4 -0.9 1.4 -1.6 2.6 -1.9 4 -1.6 4 -1.7 4 -1.2 2.8 -3.3 5.2 -3.5 4 -1.2 1.3 -2.9 2.7 -1.1 1.1 -2.7 2.9 -1.3 1.8 -1.5 2.2 -1.8 4 -0.7 2 -0.7 2 -0.9 4 -0.6 4 -0.4 4 -0.3 4 -0.3 4 -0.2 4 0.1 4 0.1 4 0.2 4 0.1 4 0.2 4 0.2 4 0.3 4 0.3 4 0.1 4 0.1 4 0.1 4 0 4 -0.1 4 -0.1 4 -0.2 4 -0.2 4 -0.2 4 0 4 0 4 0 4 0 4 0 4 -0.2 4 -0.4 4 -0.9 4 -1.9 4 -2.2 2.8 -1.3 1.2 -2.7 1.7 -4 1.5 -4 0.6 -4-0.1 -4-0.6 -4-1 -4-1.5 -4-1.9 -4-2.3 -4-2.7 -2.2-1.7 -1.8-1.3 -3.3-2.7 -4.4-4 -4.1-4 -4.2-3.9 -4-3.4 -4-3.1 -2.5-1.6 -1.5-1 -4-2.1 -2.1-0.9 -1.9-0.9 -4-1.8 -2.7-1.3 -5.3-2.8 -2.2-1.2 -1.8-1 -4-2.2 -1.4-0.8 -2.6-1.5 -4-2.1 -4-1.9 -4-1.8 -1.8-0.7 -2.2-0.9 -4-1.3 -4-0.9 -4-0.6 -2.7-0.3 -5.3-0.4 -4-0.1 -4 0 -4 0.4 -4 0.6 -4 1 -4 1.4 -2.4 1.1 -1.6 0.7 -4 2.1 -2.4 1.2 -1.6 0.8 -4 1.9 -2.6 1.3 -1.4 0.7 -4 2.6 -4 3.4 -1.1 1.3 -2.9 3.1 -3.9 4.9 -3.3 4 -3.5 4 -1.3 1.3 -2.7 2.7 -1.3 1.2 -2.9 2.8 -1.1 1 -3.4 3 -4.1 4 -3.2 4 -1.3 1.9 -1.4 2.1 -2.6 3.8 -3 4.2 -1 1.3 -2.1 2.7 -1.9 2.3 -1.5 1.7 -2.5 2.8 -1.1 1.2 -2.9 2.9 -1.3 1.1 -2.7 2.3 -2.2 1.7 -1.8 1.3 -3.7 2.7 -4.3 3.6 -4 3.9 0-487.5zM183.9 367l-3.4 2.3 -1.4 1.7 -2.2 4 -0.9 4 -0.1 4 0.4 4 0.7 4 0.8 4 1.2 4 1.5 3 1.6 1 2.4 1.3 4-0.4 1.5-0.9 2.5-1.4 3.2-2.6 4.1-4 3-4 1.7-2.9 2.2-5.1 1-4 0-4 -1.9-4 -1.3-1.2 -4-2.4 -4-0.9 -4-0.4 -4-0.1 -4 0.7z"/>
<path fill="#ffd200" d="M152.5 51l4 3.9 3.3 4.1 3.4 4 1.3 1.5 2.2 2.5 1.8 2 1.9 2 2.1 2.2 1.7 1.8 2.3 2.2 1.8 1.8 2.2 2 2.1 2 1.9 1.7 2.6 2.3 1.4 1.1 3.5 2.9 4.5 3.5 4 3 2.1 1.5 1.9 1.3 4 2.7 4 2.5 2.4 1.5 1.6 0.9 4 2.3 1.5 0.8 2.5 1.3 4 2.1 4 1.9 4 1.7 2.2 1 1.8 0.7 4 1.6 4 1.4 4 1.3 4 1.1 4 1 4 0.8 4 0.6 4 0.4 4 0.2 4-0.1 4-0.4 2.8-0.6 5.2-1.4 4-1.6 2.1-1 1.9-0.8 4-1.7 4-1.3 4-0.8 4-0.3 4 0.3 3.6 0.6 4.4 1.2 4 1.2 4 1.1 2.5 0.5 5.5 1 4 0.5 4 0.2 4 0 4-0.5 4-0.7 1.9-0.5 2.1-0.6 4-1.5 3.8-1.9 4.2-2.2 4-1.8 4-1.5 4-0.8 4-0.4 4 0.1 4 0.3 4 0.4 4 0.4 4 0.3 4-0.1 4-0.6 4-1.5 4-3.6 3.2-5 2.9-4 1.9-2.4 1.3-1.6 2.7-3.1 4-4.4 4-4.2 4-3.6 1.3-0.7 2.7-1.9 4-1.5 4-0.3 4 0.8 4 2 1.4 0.9 2.6 1.2 4 1.6 3.2 1.2 4.8 1.4 4 1.3 4 1.3 4 1.1 4 0.9 4 0.9 4 0.7 2.3 0.4 5.7 1 4 0.7 4 0.5 4 0 4-0.7 3.9-1.5 4.1-3 1.1-1 2.4-4 0.5-2.3 0.4-1.7 -0.4-2.6 -1.9-5.4 -2.1-3 -3.4-5 -2-4 -1.3-4 -0.8-4 139.5 0 0 304 -4 1 -4 0.1 -4 0 -4 0.1 -4-0.1 -4-0.1 -4-0.1 -4-0.1 -4-0.2 -4-0.3 -3-0.3 -5-0.7 -4-0.7 -4-0.9 -4-1.1 -2.1-0.6 -1.9-0.6 -4-1.6 -4-1.7 -4-2.3 -2.7-1.8 -1.3-1.1 -3.1-2.9 -0.9-1.3 -1.8-2.7 -1.8-4 -1.4-4 -1.2-4 -1.1-4 -0.7-2.5 -0.5-1.5 -1.6-4 -1.6-4 -1.7-4 -1.8-4 -0.8-1.9 -1-2.1 -2-4 -1-1.3 -2.6-2.7 -1.4-0.9 -4-1.8 -2.4-1.3 -1.6-0.6 -4-2 -3-1.4 -5-1.7 -4-0.9 -4-1 -1.9-0.4 -2.1-0.5 -4-0.8 -4-0.7 -4-0.7 -4-0.6 -4-0.5 -1.9-0.2 -2.1-0.2 -4-0.4 -4-0.2 -4-0.2 -4-0.1 -4 0.1 -4 0.3 -3.3 0.7 -4.7 1.3 -4 1.7 -2.2 1 -1.8 0.7 -4 1.9 -2.2 1.4 -1.8 1.3 -3 2.7 -3.8 4 -1.2 1.4 -2.5 2.6 -1.5 1.4 -3.3 2.6 -4.7 3 -1.6 1 -2.4 1.5 -3.9 2.5 -4.1 2.7 -1.8 1.3 -2.2 1.7 -2.9 2.3 -1.1 1 -3.1 3 -0.9 1.1 -2.2 2.9 -1.8 3.1 -2.5 4.9 -1.5 3.6 -2.4 4.4 -1.6 2.7 -1.2 1.3 -2.8 3.1 -1.1 0.9 -2.9 2.3 -2.4 1.7 -1.6 1.3 -3.1 2.7 -3 4 -1.7 4 -1.3 4 -0.9 4 -0.5 4 -0.3 4 0 4 -0.2 4 -0.3 4 0 4 0.2 4 0.4 4 0.3 4 0.2 4 0.3 4 0.4 4 0.4 4 0.4 4 0.2 4 0.1 4 0.1 4 0 4 0 4 -0.2 4 -0.3 4 -0.3 4 -0.2 4 -0.2 4 -0.1 4 -0.2 4 -0.2 4 -0.2 4 -0.5 4 -0.9 4 -2 4 -2.4 3 -1.3 1 -2.7 1.6 -4 1.2 -4 0.4 -4-0.4 -4-0.9 -4-1.3 -4-1.9 -4-2.2 -4-2.7 -2.5-1.8 -1.5-1.1 -3.7-2.9 -4.3-3.8 -4-3.7 -4-3.6 -1.1-0.9 -2.9-2.5 -2-1.5 -2-1.6 -3.9-2.4 -4.1-2.2 -3.7-1.8 -4.3-2.1 -3.8-1.9 -4.2-2.2 -3.4-1.8 -4.6-2.4 -2.8-1.6 -5.2-2.6 -3-1.4 -5-2.3 -4-1.6 -4-1.5 -4-1.1 -4-1.1 -2.1-0.4 -1.9-0.5 -4-0.8 -4-0.7 -4-0.6 -4-0.5 -4-0.3 -4-0.2 -4 0.1 -4 0.4 -4 0.5 -4 0.6 -4 0.6 -4 0.8 -1.9 0.6 -2.1 0.6 -4 2.2 -1.1 1.2 -2.9 3.9 -1.6 4.1 -1.4 4 -1 2.2 -0.6 1.8 -1.7 4 -1.7 3.3 -2.5 4.7 -1.5 2.1 -1.3 1.9 -2.7 3.3 -4 4.3 -4 3.9 -4 3.6 -1.1 0.9 -2.9 3 -4 5 -3 4 -1 1.3 -2.2 2.7 -1.8 2.2 -1.7 1.8 -2.3 2.6 -1.3 1.4 -2.7 3 -1 1 -3 3 -1.1 1 -2.9 2.6 -1.7 1.4 -2.3 1.9 -2.5 2.1 -1.5 1.2 -2.9 2.8 -1.1 1 0-481zM181.9 363l-1.4 0.6 -3.8 3.4 -2.2 4 -1.3 4 -0.7 4 0 4 0.1 4 0.1 4 0.2 4 0.5 4 0.8 4 1.3 4 1 2.4 1.2 1.6 2.8 3.4 4 2.4 4 0.9 4-0.6 4-1.9 4-3.1 1-1.1 3-3.8 2.8-4.2 1.2-1.9 1.1-2.1 2.2-4 0.7-1.5 1.2-2.5 1.6-4 1.2-4 0.8-4 0-4 -0.8-2.4 -0.5-1.6 -3.5-3.8 -4-2.3 -4-1.6 -4-0.9 -4-0.4 -4-0.3 -4 0 -4 0.5z"/>
<path fill="#ffc600" d="M147.3 51l1.2 1.5 1.9 2.5 2.1 2.5 1.2 1.5 2.8 3.3 4 4.5 3.9 4.2 3.9 4 4 4 4.2 3.9 4 3.5 4 3.4 1.5 1.2 2.5 2 2.6 2 1.4 1 4 2.9 4 2.8 2 1.3 2 1.3 4 2.5 4 2.3 3.4 1.9 4.6 2.4 3 1.6 5 2.3 3.7 1.7 4.3 1.8 4 1.5 1.8 0.7 2.2 0.8 4 1.3 4 1.2 2.8 0.7 5.2 1.2 4 0.8 4 0.5 4 0.4 4 0.2 4-0.1 4-0.4 4-0.8 4-1.1 1.6-0.7 2.4-0.9 4-1.9 2.6-1.2 5.4-1.8 4-0.5 4 0.2 4 0.6 4 1.1 4 1.4 4 1.4 4 1.1 2.3 0.5 1.7 0.4 4 0.5 4 0.4 4 0.2 4-0.1 4-0.5 4-0.7 4-0.9 4-1.3 4-2 4-2.1 4-1.8 4-1.3 4-0.7 4-0.1 4 0.4 4 0.7 3.8 0.9 4.2 0.8 4 0.7 4 0.6 4 0.5 4 0.3 4 0.2 4 0.2 4-0.1 4-2.4 0.8-4.8 -0.3-4 0.3-4 1.9-4 1.3-1.6 1.8-2.4 2.2-2.2 2.1-1.8 1.9-1.5 4-2.1 1.7-0.4 2.3-0.6 4 0 3.5 0.6 4.5 1.2 4 1.2 4 1 2.9 0.6 5.1 0.8 4 0.1 4-0.1 4-0.1 4 0 4 0.2 4 0.5 4 0.8 4 0.9 4 0.8 4 0.6 4 0.2 4-0.4 1.7-0.3 2.3-0.5 4-1.2 4-1.5 2.1-0.8 1.9-1 4-2.2 1.5-0.8 2.5-2.1 2.6-1.9 1.4-1.8 2-2.2 2-3.9 1.7-4.1 1-4 0.9-4 3.2-4 5.2-0.2 4 1.5 4 1.5 4 1.1 4 0.7 4 0.3 4-0.1 4-0.5 4-0.9 4-1.5 3.8-1.9 4.2-2.8 1.7-1.2 2.3-1.8 2.9-2.2 5-4 40.1 0 0 303.9 -4 0 -4 0 -2.9 0.1 -5.1 0 -3.4 0 -4.6-0.1 -4-0.1 -4-0.1 -4-0.2 -4-0.3 -4-0.4 -4-0.6 -4-0.8 -4-0.9 -1.8-0.5 -2.2-0.7 -4-1.3 -4-1.6 -4-2.1 -3.9-2.3 -4.1-3.5 -3.4-4.5 -1.9-4 -1.4-4 -1.1-4 -1.2-4 -1.1-4 -1.4-4 -1.6-4 -1.6-4 -1.3-2.8 -2.3-5.2 -1.7-3.8 -3-4.2 -5-3.2 -1.7-0.8 -2.3-0.7 -4-1.6 -3.2-1.7 -4.8-2.1 -4-1.2 -3-0.7 -5-1.3 -4-0.9 -4-0.8 -4-0.7 -4-0.7 -4-0.6 -4-0.5 -4-0.5 -4-0.3 -4-0.2 -4-0.2 -4-0.1 -4 0 -4 0.3 -4 0.8 -4 1.1 -4 1.6 -4 1.7 -2.9 1.3 -5.1 3 -1.2 1 -2.8 2.5 -1.6 1.5 -2.4 2.5 -1.6 1.5 -2.4 2.4 -1.9 1.6 -2.1 1.6 -3.4 2.4 -4.6 2.8 -1.8 1.2 -2.2 1.3 -4 2.6 -4 2.7 -1.9 1.4 -2.1 1.6 -2.8 2.4 -1.2 1.1 -2.8 2.9 -1.2 1.7 -1.8 2.3 -2.2 4 -2.3 4 -1.7 3.2 -4 4.8 -4 2.8 -2.7 1.2 -1.3 0.7 -4 1.4 -4 1.4 -4 2.3 -2.3 2.2 -1.7 3.6 -1 4.4 -0.5 4 -0.4 4 -0.2 4 0 4 0.1 4 0.3 4 0.3 4 0.2 4 0.4 4 0.6 4 0.8 4 0.6 4 0.6 4 0.5 4 0.6 4 0.7 4 0.4 2.7 0.4 5.3 0.2 4 0.1 4 0 4 -0.1 4 -0.2 4 -0.4 4 -0.4 4 -0.3 4 -0.3 4 -0.4 4 -0.4 4 -0.4 4 -0.7 4 -1 4 -2.1 4 -2 2.3 -2.4 1.7 -1.6 0.8 -4 1 -4 0.1 -4-0.7 -4-1.2 -4-1.7 -4-2.1 -4-2.5 -2.4-1.7 -1.6-1 -3.8-3 -4.2-3.4 -4-3.5 -1.2-1.1 -2.8-2.4 -1.9-1.6 -2.1-1.8 -2.9-2.2 -5.1-3.4 -4-2.1 -4-2 -4-2 -4-2 -4-1.9 -4-2 -4-2 -4-2.1 -4-2 -4-1.8 -1.5-0.7 -2.5-1.2 -4-1.8 -2.6-1 -5.4-2.2 -4-1.5 -4-1.5 -4-1.5 -3.7-1.3 -4.3-1.8 -4-1.7 -4-1.9 -4-2.2 -4-3.2 -1.2-1.2 -2-4 -0.6-4 0.3-4 1-4 1.4-4 1.1-2.8 2.4-5.2 1.6-3.5 2.3-4.5 1.7-4 1-4 -0.5-4 -2.7-4 -1.8-1.1 -4-1.2 -4-0.5 -4-0.4 -4-0.4 -2.4-0.4 -5.6-0.6 -4-0.3 -4-0.1 -4-0.1 -4 0 -4 0.4 -3 0.7 -5 2.7 -1.2 1.3 -2.7 4 -1.4 4 -1 4 -0.5 4 -0.1 4 -0.1 4 0 4 0 4 0.2 4 0.4 4 0.6 4 0.7 4 0.9 4 1.6 4 1.8 4 0.8 2.2 0.9 1.8 1.5 4 1.2 4 0.4 1.8 0.6 2.2 0.6 4 0.2 4 -0.3 4 -0.6 4 -0.5 1.7 -0.5 2.3 -1.2 4 -2 4 -2.4 4 -1.9 2.4 -1.2 1.6 -2.8 3 -4 3.9 -1.2 1.1 -2.8 2.5 -1.5 1.5 -2.5 2.8 -1.1 1.2 -2.9 3.4 -3.9 4.6 -3.5 4 -3.8 4 -3.8 4 -4.2 4 -4.4 4 -4.4 3.8 -4 3.7 0-475.5zM295.5 267l-3 2 -2.8 2 -1.2 1 -4 2.9 -4 2.9 -1.9 1.2 -2.1 1.6 -3 2.4 -3.7 4 -1.3 2.2 -0.9 1.8 -0.7 4 0.8 4 0.8 1.9 0.9 2.1 2 4 1.1 2.6 0.7 1.4 1.9 4 1.4 3.2 3.5 4.8 4.5 1.2 1.3-1.2 2.7-2.3 1-1.7 2.3-4 0.7-1.6 1-2.4 1.3-4 1.3-4 1.1-4 1.1-4 1.6-4 1.9-4 2-4 0.7-1.4 1-2.6 1.1-4 0.3-4 -0.8-4 -1.6-2.1 -4-0.3 -4 1.7z"/>
<path fill="#ffb900" d="M140.5 51l3.8 4 3.3 4 3.4 4 1.5 1.7 2.1 2.3 1.9 2.1 1.8 1.9 2.2 2.3 1.7 1.7 2.3 2.3 1.8 1.7 2.2 2.1 2.1 1.9 1.9 1.7 2.6 2.3 1.4 1.2 3.4 2.8 4.6 3.6 4 3 2 1.4 2 1.4 3.8 2.6 4.2 2.6 2.2 1.4 1.8 1.1 4 2.3 4 2.2 4 2.1 4 1.9 4 1.9 4 1.7 4 1.7 2.8 1.1 5.2 1.9 4 1.3 2.5 0.8 5.5 1.5 4 1 4 0.9 3.7 0.6 4.3 0.6 4 0.4 4 0.1 4-0.1 4-0.3 3.7-0.7 4.3-1.1 4-1.5 2.8-1.4 5.2-2.4 4-1.2 4-0.2 4 0.6 4 1.3 4 1.5 4 1.8 4 1.5 4 0.9 4 0.7 4 0.5 4 0.2 4 0 4-0.3 4-0.5 2.2-0.4 1.8-0.3 4-0.9 4-1.2 3.6-1.6 4.4-2.3 3.8-1.7 4.2-1.4 4-0.5 4 0.2 4 0.7 3.6 1 4.4 1.2 4 1 4 0.8 4 0.8 4 0.7 4 0.5 4 0.6 4 0.7 4 0.9 4 0.6 3.9 0.2 4.1-0.3 4-1.1 4-1.8 1.6-0.8 2.4-1.7 4-1.6 4-0.4 4 0.1 4 0 3.9-0.4 4.1-1.2 4-1.9 2.8-4.9 1.2-2.5 0.6-1.5 3.4-4 4-2.6 2.8-1.4 5.2-1 4 0.3 2.7 0.7 5.3 1.7 4 1 4 0.6 4 0.1 4-0.3 4-0.5 4-0.8 4-0.8 4-0.7 4-0.8 4-0.7 4-0.5 4-0.3 4-0.1 4-0.1 4-0.4 4-1 4-1.6 4-1.8 2.2-1 1.8-0.9 4-2.2 1.4-0.9 2.6-1.6 3.4-2.4 4.6-3.4 4-2.8 2.5-1.8 1.5-1 4-3 4-3.1 4-3.2 2.2-1.7 1.8-1.3 3.8-2.7 4.2-2.8 1.7-1.2 2.3-1.8 2.5-2.2 1.5-1.6 2.2-2.4 21.8 0 0 302.7 -4 0.1 -4 0 -4 0.1 -4 0 -4 0 -4-0.1 -4-0.1 -4-0.1 -4-0.2 -4-0.3 -4-0.5 -4-0.6 -4-0.7 -4-1 -4-1.3 -4-1.4 -1.5-0.6 -2.5-1.2 -4-2.2 -4-2.9 -2-1.7 -2-2.5 -1.1-1.5 -1.9-4 -1-2.7 -1.7-5.3 -1.1-4 -1.1-4 -1.4-4 -1.4-4 -1.3-3.5 -2-4.5 -1.8-4 -1.6-4 -2.6-4 -4-3.5 -4-1.7 -4-1.3 -3.9-1.5 -4.1-2.1 -4-1.7 -4-1.2 -4-1 -4-1 -4-0.9 -4-0.9 -4-0.7 -4-0.7 -4-0.6 -4-0.5 -4-0.4 -3.5-0.3 -4.5-0.3 -4-0.2 -4-0.1 -4 0 -4 0.3 -4 0.7 -4 1 -4 1.5 -2.7 1.1 -5.3 2.2 -3.1 1.8 -4.9 4 -4 3.6 -4 3.7 -4 3.2 -2.1 1.5 -1.9 1.3 -4 2.6 -4 2.4 -2.7 1.7 -1.3 0.8 -4 2.6 -4 2.8 -2.5 1.8 -1.5 1.2 -3.3 2.8 -3.7 4 -1 1.4 -2.1 2.6 -1.9 3 -4 4.8 -4 2.6 -4 1 -4 0 -4-0.6 -4-0.8 -4-0.6 -4-0.4 -4-0.1 -4 0.3 -4 0.7 -4 1.2 -2.2 0.9 -1.8 1.2 -2.9 2.8 -1.1 2.7 -0.3 5.3 1 4 1.3 4 1.1 4 0.7 4 0 4 -0.4 4 0 4 0.6 2.6 3.5 5.4 3.9 4 3.5 4 1.1 1.4 1.5 2.6 2.1 4 1.7 4 1.8 4 0.9 2.3 0.5 1.7 1.2 4 1 4 1 4 0.7 4 0.5 4 0.3 4 0.2 4 0 4 -0.2 4 -0.3 4 -0.5 4 -0.4 3.1 -0.7 4.9 -0.6 4 -0.7 4 -0.8 4 -0.9 4 -1.4 4 -2.6 4 -4.3 3 -4 0.8 -4-0.2 -4-0.9 -4-1.4 -2.7-1.3 -5.3-2.8 -1.9-1.2 -2.1-1.3 -3.9-2.7 -4.1-3.1 -4-3.3 -1.8-1.6 -2.2-1.9 -2.5-2.1 -1.5-1.3 -3.7-2.7 -4.3-2.7 -2.3-1.3 -1.7-0.9 -4-2 -2.3-1.1 -1.7-0.8 -4-1.9 -2.7-1.3 -5.3-2.3 -3.3-1.7 -4.7-2.3 -3.6-1.7 -4.4-2.2 -3.7-1.8 -4.3-2.2 -3.9-1.8 -4.1-2.2 -3.6-1.8 -4.4-2.7 -2.4-1.3 -1.6-1.2 -4-2.7 -4-3.3 -4-4.6 -2.1-4.2 -0.6-4 0.6-4 1.8-4 2.7-4 1.6-1.8 2.2-2.2 1.8-1.7 2.4-2.3 1.6-2.1 1.2-1.9 1.3-4 0.5-4 -0.2-4 -0.6-4 -1.1-4 -1.1-2.1 -1.2-1.9 -2.8-3.3 -4-3.1 -2.7-1.6 -1.3-0.7 -4-1.1 -4 0.4 -3 1.4 -5 2.5 -3.2 1.5 -4.8 1.5 -4 0.8 -4 0.4 -4 0.3 -4 0.2 -4 0.1 -4 0.1 -4 0.3 -4 0.9 -4 1.8 -2 1.6 -2 2.1 -1.2 1.9 -1.7 4 -1.1 3.4 -0.9 4.6 -0.5 4 -0.2 4 -0.1 4 -0.2 4 0 4 0 4 0.2 4 0.2 4 0.4 4 0.5 4 0.5 4 0.7 4 1.1 4 1.3 4 1 3.7 1.4 4.3 1.1 4 0.7 4 0.2 4 0 4 -0.5 4 -1 4 -1.8 4 -2.2 4 -1.9 2.4 -1.2 1.6 -2.8 3 -4 3.9 -1.1 1.1 -2.9 2.8 -1.2 1.2 -2.8 3.1 -4 4.3 -4 4.4 -3.9 4.2 -4 4 -4.1 3.9 -4 3.7 -4 3.6 -4 3.6 0-470.8zM348 167l-2.7 4 -0.2 4 2.6 4 4.8 1.9 4-0.8 1.7-1.1 2.3-2 1.3-2 0.5-4 -1.8-3.1 -4-2.6 -4-0.2 -4 1.6zM304.6 251l-4.1 2.7 -1.8 1.3 -2.2 1.7 -3 2.3 -5 3.8 -4 3.1 -1.6 1.1 -2.4 1.7 -4 2.3 -4 2.5 -1.8 1.5 -2.2 1.9 -1.7 2.1 -2.3 2.4 -1.5 1.6 -2.5 2.8 -1.4 1.2 -2.6 3.5 -1.4 4.5 1.4 3.1 3.3 4.9 2.9 4 1.8 3.1 2.3 4.9 1.4 4 1.3 4 1.2 4 1.2 4 0.6 1.9 0.8 2.1 2.1 4 1.1 1.3 4 2.4 4-0.4 3.7-3.3 2.2-4 2.1-3.8 2.3-4.2 1.7-2.8 3-5.2 1-2.1 1-1.9 1.8-4 1.2-3.5 1.4-4.5 1.1-4 1.3-4 1.6-4 1.8-4 0.8-2 0.8-2 1.4-4 1-4 0.8-3 1.2-5 0.8-4 0.5-4 0.3-4 -0.5-4 -2.3-3.9 -4 0.2 -4 1.8zM468.5 102.9l4 3.2 0 3.4 -1 1.5 -3 1.4 -4-0.8 -2.5-4.6 2.5-3.8 2.3-0.2z"/>
<path fill="#ffac00" d="M134.9 51l1.6 2 1.6 2 2.4 2.9 0.9 1.1 3.1 3.6 3.9 4.4 3.7 4 3.9 4 4.1 4 4.3 4 4.1 3.6 4 3.4 1.2 1 2.8 2.2 2.3 1.8 1.7 1.3 3.7 2.7 4.3 3 1.5 1 2.5 1.6 3.8 2.4 4.2 2.5 2.6 1.5 1.4 0.8 4 2.1 2.1 1.1 1.9 1 4 1.9 2.4 1.1 1.6 0.7 4 1.7 3.8 1.6 4.2 1.6 4 1.4 2.8 1 5.2 1.6 4 1.2 4 1 4 0.9 4 0.8 4 0.7 4 0.5 4 0.3 4 0.2 4-0.1 4-0.2 4-0.6 4-1 3.7-1.3 4.3-1.9 3.9-2.1 4.1-1.1 4 0.3 3.1 0.8 4.9 2.6 2.5 1.4 1.5 1.1 4 2 3.1 0.9 4.9 0.8 4 0.3 4 0.1 4-0.1 4-0.3 4-0.4 3-0.4 5-1.2 4-1.1 4-1.1 1.9-0.6 2.1-1 4-1.9 3-1.1 5-2.1 4-0.3 4 0.4 4 1.2 2.2 0.8 1.8 0.5 4 1 4 0.9 4 1 2.8 0.6 5.2 0.6 4 0.4 4 0.6 4 0.8 4 1.2 4 0.8 4 0.6 4 0.7 4 0.3 4-1 1.7-1 2.3-1.4 4-2.2 4-1.6 4-0.6 4-0.1 4 0.1 4 0.5 4 0.9 2.7 0.4 5.3 0.2 1.8-0.2 2.2-0.5 4-1.8 2.6-1.7 1.4-1.9 1.4-2.1 1.8-4 0.8-1.4 4-1.9 4-0.2 4 0 4-0.3 4-0.5 4-0.6 4-0.7 4-0.7 4-0.7 4-0.5 4-0.4 4-0.3 4-0.2 4 0 4 0 4 0.1 4 0.1 4-0.2 4-0.4 4-0.4 4-0.3 4-0.4 4-0.5 4-0.8 3.1-0.8 4.9-2.2 2.5-1.8 1.5-1.3 2.4-2.7 1.6-2.1 1.2-1.9 2.4-4 2.3-4 2.1-3.1 3.6-4.9 3.7-4 4.6-4 4.1-3 1.5-1 2.5-1.8 3-2.2 4.9-4 4.1-3.5 4-3.3 1.6-1.2 6.4 0 0 300 -4 1.6 -4 0.1 -4 0.1 -4 0 -4 0 -4-0.1 -4-0.1 -4-0.1 -4-0.2 -4-0.3 -4-0.5 -3.4-0.5 -4.6-0.9 -4-1.1 -4-1.3 -2-0.7 -2-0.8 -4-2 -2.2-1.2 -1.8-1.3 -3.5-2.7 -3.3-4 -1.2-2.3 -0.9-1.7 -1.4-4 -1.2-4 -0.5-1.6 -0.7-2.4 -1.1-4 -1.3-4 -0.9-2.6 -2-5.4 -1.5-4 -1.7-4 -1.6-4 -1.2-2.2 -1.1-1.8 -2.9-2.9 -1.4-1.1 -2.6-1.6 -4-1.5 -3.3-0.9 -4.7-1.7 -4-2.2 -4-1.7 -4-1.1 -4-1 -4-1 -4-1 -4-0.9 -4-0.7 -4-0.7 -4-0.6 -4-0.5 -4-0.4 -4-0.4 -4-0.3 -4-0.2 -4-0.1 -4 0 -4 0.3 -4 0.6 -4 0.9 -2.1 0.7 -1.9 0.6 -4 1.6 -4 1.6 -4 2.3 -2.4 1.9 -1.6 1.3 -3.1 2.7 -4.9 4 -4 3.1 -1.4 0.9 -2.6 1.8 -3.5 2.2 -4.5 2.8 -1.9 1.2 -2.1 1.2 -4 2.6 -4 2.7 -2.3 1.5 -1.7 1.2 -3.9 2.8 -4.1 3.4 -4 3.9 -4 4 -4 2.2 -4 0.2 -4-0.9 -2-0.8 -2-0.8 -4-1.8 -3.5-1.4 -4.5-1.8 -4-1.3 -4-0.8 -4 0.2 -4 0.7 -4 0.9 -4 0.7 -4 0.7 -3.6 0.7 -4.4 1.2 -4 1.8 -1.3 1 -2.4 4 -0.8 4 -0.3 4 0.1 4 0.5 4 1.8 4 1.8 4 0.6 1.5 1.1 2.5 1.2 4 0.6 4 0 4 -0.3 4 0 4 0.8 4 2.5 4 2.1 2 2.1 2 1.9 1.4 3.6 2.6 4.4 3 1.2 1 2.8 2.6 1.3 1.4 2.7 3.3 3.2 4.7 2.7 4 2.1 3.8 1.7 4.2 1.4 4 0.9 3.2 1 4.8 0.5 4 0.2 4 -0.1 4 -0.2 4 -0.5 4 -0.7 4 -0.8 4 -1 4 -1.1 4 -1.3 4 -1.6 4 -2.2 4 -4.2 3.4 -1.8 0.6 -2.2 0.5 -4-0.1 -2-0.4 -2-0.4 -4-1.4 -4-1.7 -4-2.2 -3.8-2.3 -4.2-2.9 -1.4-1.1 -2.6-2.2 -2.1-1.8 -1.9-1.7 -2.9-2.3 -1.1-0.9 -4-2.9 -4-2.4 -3.4-1.8 -4.6-2.1 -4-1.9 -4-1.7 -4-1.7 -4-1.7 -4-1.9 -2.1-1 -1.9-0.9 -4-2 -2.1-1.1 -1.9-1 -4-2.2 -1.4-0.8 -2.6-1.6 -4-2.4 -4-2.9 -1.6-1.1 -2.4-2.2 -2.1-1.8 -1.9-2.2 -1.8-1.8 -2.2-3.2 -2.5-4.8 -0.5-4 1.1-4 1.9-3 4-4.8 3.6-4.2 3-4 1.4-2.4 0.9-1.6 1.5-4 0.6-4 0.1-4 -0.3-4 -0.2-4 0.9-4 4.5-2.6 4 0.7 4 0.6 4-0.2 4-1.1 2.5-1.4 1.5-0.9 2.9-3.1 1.1-1.4 1.5-2.6 1.8-4 0.7-1.4 1.4-2.6 2.5-4 3.1-4 1-1.4 2.4-2.6 1.6-2.1 1.9-1.9 2.1-2.9 1.1-1.1 2.2-4 0.7-2.4 0.5-1.6 0.6-4 0.4-4 1-4 1.5-3.9 1.7-4.1 1.1-4 0.8-4 0.4-2.5 0.8-5.5 0.4-4 0.4-4 0.2-4 0.3-4 0.5-4 1-4 0.4-1.8 0.3-2.2 0.6-4 0.5-4 -0.1-4 -1.3-3.7 -4 0.2 -4 2.8 -4 3.9 -4 4 -4 3.4 -2 1.4 -2 1.5 -3.7 2.5 -4.3 3.3 -4 3.3 -1.9 1.4 -2.1 1.7 -3 2.3 -5 3.5 -4 2.4 -4 1.8 -4 2.5 -1.5 1.8 -2.5 3.4 -3.2 4.6 -4.7 4 -4.1 2.7 -2.8 1.3 -1.2 1 -3.5 3 -2.9 4 -1 4 3.4 2.6 2.2 1.4 1.8 0.6 4 2.2 1.4 1.2 2.6 2.3 1.3 1.7 2.3 4 1.4 4 0.8 4 0.3 4 0.1 4 -0.1 4 -0.6 4 -1.5 2.8 -4 0.3 -4-1.2 -4-1.6 -4-1.4 -4-1.6 -3-1.3 -5-1.6 -4 0.2 -3 1.4 -5 4 -4 3.6 -4 2.9 -2.7 1.5 -5.3 1.9 -4 0.9 -4 0.6 -4 0.3 -4 0.2 -4 0.3 -4 0.8 -4 1.5 -2.3 1.5 -1.7 1.3 -2.2 2.7 -1.8 3.2 -1.6 4.8 -0.9 4 -0.7 4 -0.6 4 -0.2 2.5 -0.3 5.5 -0.1 4 -0.1 4 -0.1 4 0 4 0.1 4 0.3 4 0.2 3.2 0.5 4.8 0.4 4 0.8 4 1.1 4 1 4 1 4 0.9 4 0.9 4 0.6 4 0.2 4 -0.3 4 -0.9 4 -1.6 4 -2.2 4 -2.4 3.2 -4 4.5 -4 3.9 -4 3.9 -4 4 -4 4.2 -3.9 4.3 -4 4 -4.1 3.9 -4 3.5 -4 3.5 -1.2 1.1 -2.8 2.5 0-466.5zM320.7 163l-0.9 4 0.6 4 4.1 3.2 1.5 0.8 2.5 1 3.9 3 4.1 2.6 1.4 1.4 2.6 1.7 3 2.3 5 1.6 4-0.1 4-1 4-2.7 2-1.8 2-2.1 1.2-1.9 2.2-4 0.6-4 -2.4-4 -1.6-1.6 -2.8-2.4 -5.2-2 -4-0.6 -4 0.3 -4 1 -4 1.2 -4 2.3 -4-0.6 -2.1-1.6 -1.9-0.9 -4-1.4zM402.5 211l1.4 4 4.6 1.9 4-1 -1.9-4.9 -2.1-1.2 -4 0zM234 255l-0.5 4 3 4 4 0.8 1.7-0.8 2.3-1.9 1.5-2.1 -1.5-2.9 -4-2.3 -4 0z"/>
<path fill="#ff9f00" d="M128.5 51l3.4 4 3.3 4 1.3 1.5 2.1 2.5 1.9 2.1 1.7 1.9 2.3 2.5 1.4 1.5 2.6 2.7 1.3 1.3 2.7 2.7 1.4 1.3 2.6 2.5 1.6 1.5 2.4 2.1 2.1 1.9 1.9 1.6 2.9 2.4 1.1 0.9 3.9 3.1 4.1 3.1 1.3 0.9 2.7 1.9 3 2.1 5 3.2 4 2.5 3.9 2.3 4.1 2.2 3.3 1.8 4.7 2.3 3.5 1.7 4.5 2 4 1.7 4 1.6 4 1.6 3.1 1.1 4.9 1.6 4 1.3 3.9 1.1 4.1 1.1 4 1 4 0.8 4 0.8 2.2 0.3 1.8 0.3 4 0.5 4 0.3 4 0.2 4 0 4-0.1 4-0.5 3.8-0.7 4.2-1.1 4-1.5 2.8-1.4 5.2-1.5 4 0.9 4 3.3 1.3 1.3 1.7 4 -0.7 4 -2.3 3.9 -0.5 4.1 -0.1 4 -0.2 4 -0.3 4 -0.1 4 0.7 4 2.6 4 1.9 2.5 1.6 1.5 2.4 2.3 2.3 1.7 1.7 1.5 3.9 2.5 4.1 2.6 2 1.4 2 1.8 4 1.6 4 0.1 4-0.8 4-1.6 1.8-1.1 2.2-1.4 2.9-2.6 1.1-1 2.5-3 1.5-2.1 1.1-1.9 1.5-4 0.4-4 -1.5-4 -1.5-1.9 -2.1-2.1 -1.9-1.5 -4-2.3 -4-1.6 -4-0.8 -4-0.4 -4 0 -4 0 -4-0.8 -4-3 -1.4-1.6 -1.3-4 2.7-4 4-1.2 4-0.6 4-0.5 4-0.8 4-0.8 4-0.8 4-0.8 4-1 4-1.2 4-1.3 4-1.4 3.7-1.6 4.3-1.8 4-1.3 4-0.3 4 0.6 4 1 4 1.3 1.6 0.5 2.4 0.7 4 0.8 4 0.7 4 0.5 4 0.5 4 0.6 4 0.7 4 0.7 4 0.9 4 1 3 0.9 5 1.4 4 0.9 4-0.5 3-1.8 5-3.4 4-2.1 4-1 4-0.1 4 0.4 4 1 3.2 1.2 4.8 2 4 1.5 1.9 0.5 2.1 0.6 4 0.7 4 0 4-0.7 1.8-0.6 2.2-1 4-2.4 4-2.9 2.2-1.7 1.8-1.3 3.9-2.7 4.1-2.2 3.9-1.8 4.1-1.2 4-0.8 4-0.6 4-0.5 4-0.5 3.7-0.4 4.3-0.4 4-0.3 4-0.2 4 0 4 0.3 4 0.4 4 0.7 4 0.8 4 0.9 4 0.8 4 0.7 1.9 0.3 2.1 0.3 4 0.2 4-0.3 4-0.6 4-0.9 4-1.1 4-1.1 1.9-0.5 2.1-0.7 4-1.2 4-0.8 4-0.6 4-0.3 4 0 4-0.1 2.2-0.3 1.8-0.5 4-2.7 0.3-4.8 -4.3-0.9 -4 0.2 -4-0.1 -4-1 -3.5-2.2 -4.5-3.2 -3.1-4.8 -0.9-3.4 0-3.2 1.4-5.4 2.6-3.9 4-3.8 4-3 1.8-1.3 2.2-1.5 4-2.5 4-2.3 3.2-1.7 4.8-2.4 0 290.4 -4 0.5 -4 0.1 -4 0.1 -4 0 -4 0 -4-0.1 -4-0.1 -4-0.1 -4-0.2 -2.6-0.2 -5.4-0.6 -4-0.7 -4-0.9 -4-1.1 -2.3-0.7 -1.7-0.6 -4-1.7 -3.3-1.7 -4.7-3.3 -4-4.1 -2.7-4.6 -1.3-3.3 -1.5-4.7 -1.1-4 -1.2-4 -1.3-4 -1.4-4 -1.3-4 -1.5-4 -1.5-4 -1.2-3.3 -2.3-4.7 -1.7-2 -2.1-2 -1.9-1.3 -4-2.3 -4-1.3 -4-1 -4-1.5 -4-2.3 -4-1.6 -2.4-0.7 -1.6-0.5 -4-1.1 -4-1 -4-0.9 -2.3-0.5 -1.7-0.4 -4-0.8 -4-0.7 -4-0.6 -4-0.5 -4-0.4 -4-0.3 -3.7-0.3 -4.3-0.3 -4-0.1 -4 0 -4 0.2 -4 0.5 -4 0.8 -4 1.2 -4 1.4 -4 1.6 -4 2.2 -4 3 -1.6 1.5 -2.4 2 -2.8 2 -1.2 0.9 -4 2.5 -4 2.4 -3.7 2.2 -4.3 2.4 -2.5 1.6 -1.5 0.9 -4 2.6 -4 2.6 -2.7 1.9 -1.3 0.8 -4 2.4 -1.5 0.8 -2.5 1.6 -3.8 2.4 -4.2 2.5 -4 1.3 -4-0.2 -4-1.3 -4-2.1 -4-2.6 -2.1-1.6 -1.9-1.4 -3.3-2.6 -4.7-3.1 -2-0.9 -2-0.6 -4 0.3 -4 2.1 -3.4 2.2 -4.6 2.2 -4 0.4 -4-1.1 -2.4-1.5 -1.6-1.5 -1.9-2.5 -2.1-3.1 -2.8-4.9 -1.2-2.6 -1.8-5.4 -1-4 -0.9-4 -0.7-4 -0.6-4 -0.4-4 0-4 0.3-4 0.8-4 1.1-4 1-4 1.1-4 0.7-4 0.1-4 -0.3-4 -0.4-4 -1.1-4 -1.9-2.3 -4 2.3 -4 3.9 -3.4 4.1 -3.3 4 -1.3 1.3 -2.1 2.7 -1.9 2 -1.9 2 -2.1 2 -2.4 2 -1.6 1.3 -3.8 2.7 -4.2 3 -1.5 1 -2.5 2 -2.7 2 -1.3 1 -4 3 -4 2.9 -2 1.1 -2 1.2 -4 1.8 -3.2 1 -4.8 3 -1.9 5 -1.9 4 -3.5 4 -4.7 2.8 -4 1 -4 1.5 -3.4 2.7 -4 4 -4.6 3.6 -4 3.2 -1.9 1.2 -2.1 2 -3.1 2 -0.9 1.3 -2.2 2.7 -0.2 4 1.2 4 0.9 4 -0.3 4 -1.4 4 -2 3.6 -2.6 4.4 -1.4 1.7 -1.9 2.3 -2.1 1.9 -2.8 2.1 -5.2 2.4 -4 1 -4 0.6 -4 0.3 -4 0.3 -4 0.7 -4 1.3 -2.4 1.4 -1.6 1 -2.9 3 -1.1 1.4 -1.4 2.6 -1.6 4 -1 4 -0.7 4 -0.6 4 -0.5 4 -0.4 4 -0.2 4 -0.2 4 -0.1 4 -0.1 4 -0.1 4 0 4 0.2 4 0.3 4 0.3 4 0.4 4 0.5 4 0.9 4 1 4 0.9 4 0.7 4 0.8 4 0.6 4 0.3 3.7 -0.1 4.3 -0.8 4 -1.4 4 -1.7 2.9 -3.6 5.1 -3.7 4 -4.2 4 -4.3 4 -4.1 4 -3.7 4 -3.8 4 -4.2 4 -4.4 3.8 -4 3.4 -4 3.5 0-462.7zM397.1 207l-2.3 4 1.7 2.2 1.1 1.8 2.9 2.2 2.4 1.8 1.6 1 4 2.3 1.5 0.7 2.5 1.4 4 2 1.9 0.6 2.1 1.1 1.8-1.1 0-4 -1.3-4 -1.9-4 -2.5-4 -4.1-3.8 -4-1.8 -4-0.4 -4 0.7zM231.1 255l0 4 1.4 2.7 1 1.3 3 2.8 4 1 4-2 2.3-1.8 1.7-2.3 1.4-1.7 -1.4-2.3 -0.9-1.7 -3.1-1.6 -4-1.5 -4-0.2 -4 1.8zM244.5 311l4 0.5 4 2.7 2.1 4.8 -0.2 4 -1.9 3.6 -4 1.7 -4-0.4 -2.2-0.9 -1.8-1 -3.7-3 -1.8-4 1.5-3.2 4-3.5 3.9-1.3zM316.5 330.2l4 0.8 4 3.9 1.8 4.1 1.4 4 0.8 2.1 0.6 1.9 1.4 4 1.2 4 0.8 4 0.2 4 0.1 4 0.4 4 1.2 4 1.9 4 4.1 4 4.1 3 1.3 1 2.7 1.9 3 2.1 5 3.7 4 3.5 4 4.5 3.3 4.3 2.8 4 1.9 3.4 2.1 4.6 1.4 4 0.5 1.7 0.6 2.3 0.8 4 0.2 4 -0.1 4 -0.4 4 -0.7 4 -0.4 1.7 -0.6 2.3 -1.2 4 -1.6 4 -0.6 1.4 -1.5 2.6 -2.5 3.8 -4 3.7 -4 1.5 -4 0.2 -4-0.6 -2-0.6 -2-0.6 -4-1.7 -3.3-1.7 -4.7-3 -1.2-1 -2.8-2.3 -2-1.7 -2-1.6 -3.1-2.4 -4.9-3.4 -4-2.3 -4-1.8 -4-1.7 -4-1.7 -2.6-1.1 -5.4-2.1 -4-1.7 -4-1.8 -4-2 -4-2.2 -4-2.2 -4-2.7 -2.1-1.3 -1.9-1.6 -3.1-2.4 -3.8-4 -1.1-1.8 -1.6-2.2 -1.8-4 -0.6-2.7 -0.1-5.3 1.4-4 2.4-4 2.8-4 1.5-2 1.5-2 2.5-3.2 3.6-4.8 3-4 1.4-1.9 2.1-2.1 1.9-1.8 3.2-2.2 4.8-3 1.4-1 2.6-1.8 2.3-2.2 1.7-2 1.3-2 1.8-4 0.9-2.6 1.8-5.4 1.7-4 3.4-4 1.1-1.1 4-2.6z"/>
<path fill="#ff9300" d="M124.5 53.7l1.1 1.3 2.9 3.5 3.8 4.5 3.6 4 3.7 4 3.9 4 1 1 3 3 4.3 4 4.4 4 4.3 3.6 4 3.3 1.4 1.1 2.6 2 2.7 2 1.3 0.9 4 2.8 4 2.7 2.5 1.6 1.5 0.9 4 2.5 4 2.2 4 2.2 4 2.1 4 1.9 4 1.9 4 1.8 4 1.6 4 1.6 3.4 1.3 4.6 1.6 4 1.3 3.4 1.1 4.6 1.4 4 1 4 1 2.5 0.6 5.5 1.1 4 0.7 4 0.6 4 0.5 4 0.4 4 0.2 4 0.1 4 0 4-0.2 4-0.4 4-0.5 4-0.7 4-0.6 4 1.5 0.9 1.3 0.8 4 0.2 4 0.4 4 0.5 4 0.4 4 0.3 4 0.4 4 1 4 1.8 4 1.3 2.5 1.1 1.5 2.9 4 3.3 4 3 4 1.7 4 0.3 4 -1 4 -1.7 4 -1.6 2.7 -2.7 5.3 -1.3 2 -1 2 -2.6 4 -2.7 4 -1.7 2.1 -1.5 1.9 -2.5 2.6 -1.5 1.4 -2.5 2.1 -2.8 1.9 -1.2 0.9 -4 2.6 -4 2.7 -2.6 1.8 -1.4 1.1 -4 2.9 -4 2.9 -1.8 1.1 -2.2 1.4 -4 1.8 -2.9 0.8 -5.1 1.2 -4 1.2 -2.1 1.6 1.2 4 -0.1 4 -1.8 4 -1.2 1.4 -4 2.5 -4 0.7 -4-0.1 -4 1.6 -1.2 1.9 -2.8 3.2 -4 4.1 -4 3.1 -2.6 1.6 -1.4 1 -4 2.1 -2.9 0.9 -5.1 2.6 -2.4 1.4 -1.6 2.1 -1.5 1.9 -0.6 4 0.8 4 0.9 4 0.4 3.3 0 2 -0.2 2.7 -1 4 -2 4 -3.5 4 -1.3 0.9 -4 2 -4 0.9 -4 0.4 -4 0.4 -4 0.7 -4 1.2 -2.8 1.5 -4.8 4 -2.7 4 -1.7 3.3 -1.3 4.7 -0.7 4 -0.6 4 -0.6 4 -0.6 4 -0.4 4 -0.3 4 -0.1 4 -0.2 4 -0.1 4 -0.2 4 0 4 0.2 4 0.2 4 0.3 4 0.3 4 0.6 4 0.8 4 0.9 4 0.7 4 0.7 4 0.4 2.7 1 5.3 0.3 4 -0.1 4 -0.8 4 -1.4 4 -2.3 4 -3 4 -1.7 1.8 -2.1 2.2 -1.9 1.8 -2.4 2.2 -1.6 1.5 -2.9 2.5 -1.1 1.1 -2.9 2.9 -1.1 1.2 -2.7 2.8 -1.3 1.4 -2.7 2.6 -1.3 1.2 -3.3 2.8 -4.7 3.8 -4 3.4 0-459.2zM232.4 251l-3.6 4 0.3 4 2.1 4 1.3 1.8 2.4 2.2 1.6 1.8 4 1.6 4-2.4 1-1 3-2.3 3.2-1.7 3.9-4 -3.1-2.2 -1.2-1.8 -2.8-1.4 -4-2 -1.6-0.6 -2.4-0.6 -4-0.2 -4 0.8zM672.5 78.6l4-0.4 4 0.5 0 8.2 -4 1.3 -4 0.7 -4-0.6 -1.9-1.3 -0.4-4 2.3-2.4 2.9-1.6zM576.5 127l4-0.8 4-0.1 4 0.8 4 1.6 4 1.6 2.4 0.9 1.6 0.6 4 1.3 4 1.1 4 0.9 4 0.6 4 0.4 4 0.2 4 0 4-0.2 4-0.3 4-0.4 1.9-0.2 2.1-0.2 4-0.5 4-0.5 4-0.3 4-0.2 4-0.3 4-0.3 4-0.5 4-0.7 1.9-0.5 2.1-0.7 0 219.9 -4 0.2 -4 0.1 -4 0.1 -4 0 -4 0 -4-0.1 -4-0.1 -4-0.1 -4-0.2 -4-0.4 -4-0.5 -4-0.7 -4-0.9 -2.2-0.6 -1.8-0.6 -4-1.4 -4-1.8 -4-2.5 -2.3-1.7 -1.7-1.7 -2.1-2.3 -1.9-3 -2.2-5 -1.3-4 -0.5-1.7 -0.7-2.3 -1.1-4 -1.3-4 -0.9-2.7 -1.8-5.3 -1.4-4 -0.8-2.4 -0.6-1.6 -1.4-4 -1.6-4 -3.2-4 -1.2-0.9 -4-2.6 -4-2.1 -4-1.2 -4-0.8 -4-1.7 -4-2.2 -4-1.7 -4-1.2 -4-1 -2.3-0.6 -1.7-0.5 -4-1 -4-0.8 -4-0.8 -4-0.7 -4-0.6 -4-0.5 -4-0.4 -4-0.4 -4-0.4 -4-0.2 -4-0.2 -4 0 -4 0.1 -4 0.4 -4 0.8 -4 1.1 -4 1.2 -4 1.5 -2.8 1.4 -5.2 3.4 -4 3.5 -1.6 1.1 -2.4 1.5 -4 2 -4 1.7 -4 1.7 -2.5 1.1 -1.5 0.7 -4 2 -2 1.3 -2 1.2 -3.7 2.8 -4.3 3.1 -1.5 0.9 -2.5 1.3 -4 2 -1.8 0.7 -2.2 0.9 -4 1.1 -4 0.4 -4-0.8 -3.9-1.6 -4.1-2.2 -2.7-1.8 -1.3-0.7 -4-2.5 -1.3-0.8 -2.7-1.4 -4-1.8 -2.4-0.8 -1.6-0.5 -4-0.6 -4-0.1 -4 0.3 -4 0 -4-1.5 -1.9-1.6 -2.1-1.7 -2-2.3 -2-2.3 -1.2-1.7 -2.6-4 -2.2-4 -1.8-4 -1.2-4 -0.6-4 0.2-4 0.7-4 0.7-2.4 1.5-5.6 1-4 0.7-4 0.5-4 0.3-2.5 0.6-5.5 0.7-4 0.7-4 1.1-4 0.9-1.8 1.5-2.2 2.5-1.9 3.5-2.1 4.5-2.2 2.7-1.8 1.3-0.8 3.6-3.2 3.5-4 3-4 1.9-3.5 1.4-4.5 0.2-4 -1.1-4 -3-4 -1.5-1.4 -3.3-2.6 -4.7-2.9 -2.9-1.1 -5.1-2.3 -3.9-1.7 -1.8-4 1.7-1 4-2.9 4-1.4 4-1.2 3.9-1.5 4.1-1.3 4-1.4 3.4-1.3 4.6-1.8 4-1.5 2.5-0.7 5.5-0.7 4 0.6 4 1.1 4 1.2 4 1.1 3.3 0.7 4.7 0.7 4 0.4 4 0.4 4 0.5 4 0.6 4 0.8 2.5 0.6 5.5 1.4 4 1.4 3.2 1.2 4.8 1.6 4 0 2.7-1.6 1.3-0.8 3.7-3.2 4.3-2.6 4-1.2 4-0.2 4 0.7 4 1.5 3.4 1.8 4.6 3.1 1.6 0.9 2.4 1.5 4 2 4 1.4 4 0.8 4 0.1 4-0.5 4-1 4-1.4 4-1.6 2.9-1.3 5.1-2.8 2.1-1.2 1.9-1.2 4-2.5 4-2 4-1.4 3.3-0.9 4.7-1.1 4-0.9 4-1 3.8-1zM396.6 203l-4.1 2 -2.4 2 -0.9 4 3.3 4 4 2.7 1.6 1.3 2.4 1.6 3.5 2.4 4.5 3.1 1.3 0.9 2.7 2.3 2 1.7 2 2.2 1.8 1.8 2.2 2.5 2.2 1.5 1.8 1.6 4 0.4 1.8-2 1.7-4 0-4 -1-4 -1.8-4 -2.5-4 -2.2-3 -3.7-5 -3.8-4 -4.5-3 -2.5-1 -1.5-0.5 -4-0.5 -4 0.2zM312.5 361.4l4-1.6 2 3.2 2 2.5 0.5 1.5 2.4 4 1.1 1.2 1.7 2.8 2.3 2.7 0.9 1.3 3.1 3.3 4 3.6 1.4 1.1 2.6 1.9 2.9 2.1 5.1 3.7 4 3 1.6 1.3 2.4 2.1 1.8 1.9 2.2 2.4 1.3 1.6 2.7 3.5 2.9 4.5 1.1 2 1 2 1.7 4 1.3 3.8 1 4.2 0.3 4 -0.2 4 -0.7 4 -1 4 -1.3 4 -1.8 4 -2.7 4 -1.6 1.9 -2.7 2.1 -1.3 0.9 -4 1.4 -4 0.3 -4-0.6 -4-1.2 -1.6-0.8 -2.4-1.1 -4-2.5 -4-3.1 -1.7-1.3 -2.3-1.7 -3.2-2.3 -4.8-3 -1.8-1 -2.2-1 -4-1.6 -3.7-1.4 -4.3-1.6 -4-1.5 -2.3-0.9 -1.7-0.7 -4-1.7 -3.5-1.6 -4.5-2.4 -2.9-1.6 -5.1-3.4 -4-3.3 -1.6-1.3 -2.4-2.9 -1-1.1 -2.2-4 -0.8-2.8 -0.6-5.2 0.6-2.8 1.7-5.2 2.1-4 2.7-4 1.5-1.8 2-2.2 2-2.1 2.2-1.9 1.8-1.6 3.6-2.4 4.4-2.7 3-1.3 5-2.4 3.3-1.6 4.7-3 1.7-1 2.3-2.1 2.7-1.9z"/>
<path fill="#ff8600" d="M122.5 59l2 2.3 1.5 1.7 2.5 2.9 1 1.1 3 3.2 4 4.2 4 4 4 3.8 4 3.7 1.2 1.1 2.8 2.4 1.9 1.6 2.1 1.7 2.8 2.3 1.2 0.9 4 3.1 4 2.9 1.6 1.1 2.4 1.6 3.6 2.4 4.4 2.8 2.1 1.2 1.9 1.1 4 2.3 4 2.1 4 2 4 2 4 1.8 1.6 0.7 2.4 1 4 1.6 3.5 1.4 4.5 1.6 4 1.4 2.9 1 5.1 1.6 4 1.1 4 1.1 4 1 4 1 4 0.8 4 0.8 3.8 0.6 4.2 0.6 4 0.5 4 0.4 4 0.3 4 0.2 4 0.1 4 0.1 4 0.1 4 0.4 4 1 4 4.2 1.6 4.1 1.3 4 1 4 0.7 4 0.7 4 1 4 1.6 4 2 4 2.1 3.7 2.6 4.3 1.4 3 1.9 5 0.3 4 -0.5 4 -1.2 4 -1.4 4 -1.6 4 -1.5 3 -2.5 5 -1.5 2.2 -1.2 1.8 -2.8 3.4 -4 3.8 -4 2.9 -3.3 1.9 -4.7 2.8 -1.9 1.2 -2.1 1.5 -3.4 2.5 -4.6 3.4 -4 2.6 -4 2 -4 1.3 -4 0.5 -4-0.2 -4-1.3 -4-1.7 -4-1.9 -1.4-0.7 -2.6-0.8 -4-1 -4-0.3 -4 0.6 -3.2 1.5 -2.5 4 0.4 4 1.3 2.6 0.7 1.4 2.9 4 3.4 4 1 2.3 1.5 1.7 -0.7 4 -0.8 1.2 -1.2 2.8 -2.8 3.6 -4 3.7 -4 2.8 -4 1.8 -4 1.5 -4 1 -4 1.2 -1.6 0.4 -2.4 1.3 -4 1.9 -1.7 0.8 -2.3 2.5 -1.6 1.5 -1 4 1.1 4 1.5 3.1 1.3 4.9 0.5 4 -0.5 4 -1.3 2.7 -1 1.3 -3 1.5 -4 0.8 -4 0.7 -2.9 1 -5.1 1.5 -4 2 -4 3.5 -3.3 5 -1.8 4 -1.4 4 -0.9 4 -0.6 3.9 -0.5 4.1 -0.5 4 -0.5 4 -0.5 4 -0.3 4 -0.1 4 -0.2 4 -0.2 4 -0.2 4 -0.1 4 0.2 4 0.3 4 0.3 4 0.3 4 0.5 4 0.7 4 0.7 4 0.8 4 0.6 4 0.7 4 0.6 4 0.3 4 -0.2 4 -0.7 4 -1.5 4 -2.3 4 -2.2 2.9 -0.9 1.1 -3.1 3.2 -4 3.7 -1.3 1.1 -2.7 2.4 -1.9 1.6 -2.1 2.2 -1.8 1.8 -2.2 2.3 -1.7 1.7 -2.3 2.3 -2 1.7 -2 1.7 -2.9 2.3 -5.1 4 0-450.4zM384.5 134.3l4-1 4-0.2 4 0.6 4 1.1 4 1.2 4 1 4 0.6 4 0.5 4 0.3 4 0.3 2.5 0.3 5.5 0.8 4 0.8 4 0.8 4 1.2 4 1.6 4 1.6 2.9 1.2 5.1 0.9 2-0.9 2-1.2 2.8-2.8 1.2-1 4-3 4-1.5 4-0.2 4 1 1.6 0.7 2.4 1.4 3.4 2.6 4.4 4 4.2 3.3 4 2.4 4 1.6 2.9 0.7 5.1 0.7 4-0.1 4-0.4 4-0.7 4-0.9 4-0.9 4-1 2.8-0.7 5.2-1.7 4-1.4 2.4-0.9 1.6-0.7 4-1.4 4-1.2 3.7-0.7 4.3-0.7 4-0.2 4 0.2 4 0.3 4 0.2 3.8 0.2 4.2 0.4 4 0.5 4 0.5 4 0.6 4 0.5 4 0.4 4 0.3 4 0.3 4 0.1 4 0 4 0 4-0.2 4-0.1 4-0.2 4-0.3 4-0.4 4-0.4 4-0.6 4-0.6 4-0.7 4-0.7 4-0.8 0 205.4 -4 2.2 -4 0.2 -4 0.1 -4 0 -4 0 -4-0.1 -4-0.1 -4-0.1 -4-0.2 -4-0.4 -4-0.5 -4-0.7 -4-1 -4-1.3 -4-1.5 -4-2.1 -3.8-2.5 -4-4 -2.6-4 -1.6-3.7 -1.5-4.3 -1.2-4 -1.2-4 -1.2-4 -1.4-4 -1.4-4 -1.3-4 -1.3-4 -1.2-4 -1.6-4 -2.4-4 -4.3-3.3 -4-2.3 -4-2 -4-1.1 -4-0.9 -4-1.7 -4-2.2 -4-1.6 -3-0.9 -5-1.5 -4-1 -4-0.9 -2.7-0.6 -5.3-1.1 -4-0.7 -4-0.6 -4-0.5 -4-0.4 -4-0.4 -3.1-0.3 -4.9-0.5 -4-0.2 -4-0.1 -4 0.1 -4 0.3 -2.2 0.4 -1.8 0.3 -4 0.8 -4 1 -4 1.4 -4 1.6 -4 2.5 -4 2.9 -2.2 1.5 -1.8 1.1 -4 1.5 -4 0.8 -4 0.1 -4-0.3 -4-0.5 -4-0.5 -4 1 -3.7 4.8 -2.4 4 -1.9 2.1 -1.9 1.9 -2.1 1.4 -4 1.9 -2.4 0.7 -5.6 0.4 -2.6-0.4 -5.4-1.4 -4-1.5 -2.6-1.1 -5.4-2.2 -4-1.8 -4-1.6 -4-1.6 -2.6-0.8 -5.4-1.5 -4-1.1 -3.3-1.4 -4.7-2.6 -1.9-1.4 -2.1-1.7 -2.3-2.3 -1.7-1.7 -1.6-2.3 -2.4-3.6 -1.4-4.4 -0.2-4 0.5-4 0.9-4 1.1-4 0.9-4 0.6-4 0.7-4 0.7-4 1.1-4 1.1-4 1.3-4 0.7-1.3 2-2.7 2-2 2.7-2 1.3-0.8 4-2.6 4-3.1 1.4-1.5 2.6-3.3 3.2-4.7 2.4-4 1.6-4 0.8-3.4 0.2-4.6 -1.1-4 -2.4-4 -3.9-4 -4.8-3.9 -4-3.3 -1.6-0.8 -1.7-4 3.3-2.3 2-1.7 2-0.8 4-1.9 2.9-1.3 5.1-1.8 4-1.5 1.9-0.7zM387.9 203l-3 4 0.3 4 2.9 4 4.4 3 1.4 1 2.6 1.6 3.5 2.4 4.5 3.3 4 3.4 1.5 1.3 2.5 2.9 1 1.1 2.8 4 2.8 4 1.4 2.7 1 1.3 2.1 4 0.9 2.2 2 1.8 2 2 4-1.3 2.8-4.7 1.2-2.7 1.2-5.3 0.3-4 -0.1-4 -0.5-4 -0.9-3 -2.2-5 -1.8-2.7 -0.9-1.3 -3.1-3.8 -3.7-4.2 -3.8-4 -4.5-3.7 -4-2.1 -4-1.3 -4-0.6 -4 0 -4 0.6 -4 1.1 -4 1.7zM252.5 266l2.3 1 1.7 3.1 -2.5 4.9 -1.5 1 -4 0.3 -2.7-1.3 -0.2-4 2.9-3.1 1.7-0.9zM304.5 378.3l4-1.2 4-0.5 4 0.5 4 1.8 4 2.4 2 1.7 2 1.4 3.1 2.6 4.9 3.8 4 3.1 1.5 1.1 2.5 1.9 2.7 2.1 1.3 1.1 3.5 2.9 3.9 4 3.4 4 1.2 1.6 1.7 2.4 2.3 3.8 2 4.2 1.5 4 0.5 2 0.5 2 0.3 4 -0.3 4 -0.5 2.1 -0.5 1.9 -1.4 4 -2 4 -3.3 4 -4.8 3.2 -2.9 0.8 -5.1 0.2 -4-0.8 -4-1.6 -3.1-1.8 -4.9-3.1 -1.3-0.9 -2.7-1.8 -3.5-2.2 -4.5-2.5 -3.6-1.5 -4.4-1.5 -4-1.3 -3.3-1.2 -4.7-1.7 -4-1.5 -1.8-0.8 -2.2-1 -4-2 -1.9-1 -2.1-1.3 -4-2.6 -4-3.6 -3.8-4.5 -2-4 -0.9-4 0.1-4 0.9-4 1.7-4 2.4-4 1.6-1.9 1.9-2.1 2.1-1.9 2.8-2.1 1.2-0.9 4-2.2 2.1-0.9 1.9-0.9 4-1.3 4-1.1 2.3-0.7z"/>
<path fill="#ff7900" d="M123.1 67l1.4 1.5 2.3 2.5 1.7 1.8 2.1 2.2 1.9 1.9 2.1 2.1 1.9 1.8 2.3 2.2 1.7 1.6 2.6 2.4 1.4 1.2 3.2 2.8 4.8 3.9 4 3.2 1.2 0.9 2.8 2.1 2.7 1.9 1.3 0.9 4 2.7 4 2.6 2.8 1.8 5.2 3 1.7 1 2.3 1.2 4 2.1 4 2 4 1.9 1.8 0.8 2.2 1 4 1.7 3.3 1.3 4.7 1.8 4 1.4 2.3 0.8 1.7 0.6 4 1.2 4 1.3 3.3 0.9 4.7 1.3 4 1 4 0.9 3.6 0.8 4.4 0.9 4 0.7 4 0.7 4 0.6 4 0.5 4 0.4 2.5 0.2 5.5 0.5 4 0.3 4 0.5 4 0.7 4 1.5 4 3.4 2.8 5.1 1.2 2.9 1.6 5.1 1 4 1.1 4 1.3 4 1.7 4 1.3 3.1 2.5 4.9 1.5 3.7 1 4.3 0.4 4 -0.2 4 -0.6 4 -0.6 2.6 -1.7 5.4 -1.4 4 -0.9 1.7 -1.2 2.3 -2.5 4 -3.7 4 -4.6 3.4 -4 2.3 -4 2 -4 2.5 -2.6 1.8 -1.4 1.1 -3.8 2.9 -4.2 2.9 -1.9 1.1 -2.1 1.1 -4 1.5 -4 0.5 -4-0.2 -4-0.8 -4-1.5 -4-1.4 -4-1.2 -4-1 -4-0.4 -4 0.4 -4 1.6 -1.9 1.4 -1.8 4 0.6 4 2 4 1.1 1.7 1.7 2.3 2.3 3.7 2.1 4.3 -0.3 4 -1.8 3.7 -3.4 4.3 -4.6 3.5 -4 2.2 -4 1.2 -4 0.8 -2.2 0.3 -1.8 0.5 -4 0.7 -4 0.6 -4 0.7 -4 0.8 -3 0.7 -5 2 -4 1.9 -4 4.1 -2.1 4 -1.3 4 -0.2 4 0.5 4 0.6 4 -0.5 4 -1 1.3 -1.1 2.7 -2.9 3.6 -2.5 4.4 -1.5 2.4 -0.6 1.6 -1.6 4 -1.4 4 -1.1 4 -0.5 4 -0.6 4 -0.5 4 -0.4 4 -0.5 4 -0.5 4 -0.3 3.6 -0.2 4.4 -0.2 4 -0.2 4 -0.3 4 0 4 0.2 4 0.2 4 0.3 4 0.2 3.2 0.6 4.8 0.7 4 0.8 4 0.6 4 0.5 4 0.6 4 0.6 4 0.3 4 -0.2 4 -0.5 2.4 -1.8 5.6 -2.2 3.7 -3.4 4.3 -4 4 -4.6 3.9 -4 3.5 -4 4.1 -4 3.9 -4 3.6 -1.3 1 -2.7 2.1 -2.5 1.9 -1.5 1.2 0-440.1zM380.5 138.6l4-1.1 4-1 4-0.1 4 0.7 4 1 4 0.8 4 1.1 4 0.7 4 0.3 4 0.1 4 0.2 4 0.4 4 0.4 4 0.6 4 0.9 4 1.7 4 1.4 4 2 4 1.6 4 0.5 4-1.2 2.5-2.6 1.5-1.5 2.3-2.5 1.7-1.3 4-1.8 4-0.2 4 1.4 3 1.9 1 1.2 2.5 2.8 1.5 2.5 1.2 1.5 2.8 3.4 4 3.1 2.9 1.5 5.1 1.8 4 0.9 4 0.3 4-0.1 4-0.2 4-0.5 4-0.5 4-0.5 4-0.6 3.5-0.6 4.5-1 4-0.9 4-1.1 4-0.9 4-0.9 4-0.6 4-0.3 4-0.1 4 0.2 4 0.1 4 0 4-0.1 4 0.1 4 0.2 4 0.3 4 0.4 4 0.5 4 0.4 4 0.3 4 0.2 4 0.1 4 0.1 4 0 4-0.1 4-0.1 4-0.1 4-0.2 4-0.2 3.9-0.3 4.1-0.4 4-0.6 4-0.6 4-0.7 4-0.7 0 195 -4 1.1 -4 0.2 -4 0.1 -4 0 -4 0 -4-0.1 -4-0.1 -4-0.1 -4-0.3 -4-0.3 -3.6-0.5 -4.4-0.9 -4-1.1 -4-1.3 -1.9-0.7 -2.1-1 -4-2.2 -4-3.4 -1.4-1.4 -2.6-3.8 -2-4.2 -1.5-4 -0.5-1.7 -0.7-2.3 -1.2-4 -1.3-4 -0.8-2.4 -0.5-1.6 -1.4-4 -1.4-4 -0.7-2.4 -0.5-1.6 -1.2-4 -1.3-4 -1-2.2 -1.1-1.8 -2.9-3.3 -4-2.4 -4-2.1 -4-2 -4-1.1 -4-0.9 -4-1.9 -4-1.9 -4-1.6 -4-1.3 -4-1 -1.9-0.5 -2.1-0.6 -4-1 -4-0.9 -4-0.8 -4-0.7 -4-0.6 -4-0.6 -4-0.4 -4-0.4 -4-0.5 -4-0.4 -4-0.3 -4-0.1 -4-0.1 -4 0.1 -4 0.3 -4 0.7 -4 0.8 -4 0.9 -2 0.6 -2 0.5 -4 1.5 -4 1.9 -4 1.4 -4 0.1 -2.8-1.4 -1.2-1.4 -1.3-2.6 -0.8-4 -0.5-4 -0.3-4 -0.4-4 -0.6-4 -0.5-4 -0.8-4 -1.5-4 -1.3-2 -0.9-2 -3.1-3.9 -3.4-4.1 -3.9-4 -4.1-4 -4.6-3.8 -4-3.1 -2.7-1.1 -1.3-0.7 -4-1.4 -4-0.6 -4-0.1 -4 0.3 -4 0.7 -4 1 -2.4 0.8 -1.6 0.6 -4 2.4 -1 1 -0.5 4 1.5 2.3 0.5 1.7 3.1 4 4.4 3.3 4 2.7 3.8 2 4.2 3.1 1.2 0.9 2.8 2.6 1.6 1.4 2.4 2.8 1.1 1.2 2.9 3.9 1.9 4.1 1.7 4 0.4 1.7 0.5 2.3 0.6 4 0.1 4 -0.5 4 -0.7 2.5 -2.1 5.5 -1.9 3 -4 4.3 -4 2.3 -4 0.9 -4 0.1 -4-0.5 -4-0.9 -3.7-1.2 -4.3-1.5 -4-1.8 -1.6-0.7 -2.4-1.1 -4-1.6 -3.2-1.3 -4.8-2.3 -2.9-1.7 -5.1-3.8 -4-4 -2.8-4.2 -1.2-3.7 -0.3-4.3 0.3-4 0.7-4 0.9-4 0.8-4 0.8-4 0.8-3 1.9-5 1.5-4 2.9-4 1.7-1.6 2.9-2.4 5.1-3.2 1.3-0.8 2.7-1.9 2.5-2.1 1.5-3.1 2.2-4.9 1.5-4 1.9-4 1.1-4 0.4-4 -0.1-4 -0.8-4 -2.2-3.6 -3.2-4.4 -4.1-4 -3.3-4 -0.4-4 3-3 1.1-1 2.9-1.1 4-1.9 2.4-1zM312.5 382.9l4 0.4 4 1.2 4 2.1 4 2.6 2.4 1.8 1.6 1.2 3.5 2.8 4.5 3.7 4 3.3 1.2 1 2.8 2.6 1.5 1.4 2.5 2.7 1.2 1.3 2.8 3.6 3 4.4 1 1.9 1.1 2.1 1.6 4 1 4 0.3 4 -0.6 4 -1.4 4 -2 3.7 -4 4 -4 1.8 -4 0.6 -4-0.4 -4-1.2 -4-1.8 -4-2.2 -4-2.3 -4-2.1 -4-1.8 -4-1.4 -3-0.9 -5-1.5 -4-1.4 -3.3-1.1 -4.7-1.9 -4-1.8 -4-2.3 -3.3-2 -4.7-4 -3.1-4 -0.9-2.1 -0.9-1.9 -0.8-4 0.3-4 1.1-4 2.1-4 2.2-2.9 1-1.1 3-2.6 2-1.4 2-1.3 4-1.9 2.1-0.8 1.9-0.7 4-1.2 4-1.1 4-0.8 2.4-0.2z"/>
<path fill="#ff6c00" d="M124.1 75l3.9 4 4.2 4 4.3 4 4 3.6 4 3.4 1.2 1 2.8 2.2 2.3 1.8 1.7 1.3 3.6 2.7 4.4 3.1 1.3 0.9 2.7 1.8 3.5 2.2 4.5 2.7 2.2 1.3 1.8 1 4 2.2 1.5 0.8 2.5 1.3 4 1.9 1.6 0.8 2.4 1.1 4 1.7 2.8 1.2 5.2 2 4 1.5 4 1.4 4 1.3 4 1.3 1.8 0.5 2.2 0.7 4 1.1 4 1 4 1 4 1 4 0.8 4 0.9 4 0.7 4 0.7 4 0.7 4 0.5 4 0.6 4 0.5 4 0.4 4 0.5 4 0.6 4 0.8 4 1.5 3.2 2 3.6 4 1.2 2 1 2 1.6 4 1.2 4 1.1 4 1.2 4 1.2 4 0.7 2.5 0.6 1.5 1.3 4 1.2 4 0.8 4 0.5 4 0.1 4 -0.3 4 -0.5 4 -0.6 4 -1 4 -1.8 4 -2.8 4 -1.5 1.6 -2.9 2.4 -5.1 3 -2.2 1 -1.8 0.9 -4 2.2 -1.4 0.9 -2.6 1.9 -2.7 2.1 -1.3 1 -4 3 -4 2.4 -4 1.6 -4 0.8 -4-0.1 -4-0.7 -4-0.9 -4-1.2 -4-1.1 -3.2-0.8 -4.8-0.6 -4 0.2 -1.9 0.4 -2.1 0.7 -4 2.9 -1.8 4.4 0.8 4 1 1.8 1.1 2.2 2.6 4 2.6 4 1.3 4 -0.3 4 -1.9 4 -1.4 1.7 -2.3 2.3 -1.7 1.4 -4 2.2 -4 1.4 -4 0.7 -4 0.5 -4 0.2 -4-0.1 -4 0 -4 0.1 -4 0.5 -4 0.7 -4 1.2 -4 2 -1.7 1.2 -2.3 2.3 -1.6 1.7 -2.4 3.4 -2.2 4.6 -1.3 4 -0.5 3.4 0 4.3 0.2 4.3 -0.1 4 -0.6 4 -0.9 4 -1.2 4 -1.2 4 -1 4 -0.9 4 -0.7 4 -0.6 4 -0.5 4 -0.5 4 -0.4 4 -0.4 4 -0.5 4 -0.3 4 -0.2 4 -0.2 4 -0.3 4 -0.3 4 0 4 0.2 4 0.3 4 0.3 4 0.2 4 0.5 4 0.6 4 0.5 2.9 0.9 5.1 0.5 4 0.5 4 0.5 4 0.3 4 -0.2 4 -0.9 4 -1.6 4 -2.4 4 -1.6 2 -1.8 2 -2.2 2.2 -2.1 1.8 -1.9 1.6 -2.9 2.4 -1.1 1 -3.2 3 -4 4 -4.4 4 -4.4 3.5 -4 2.9 0-430.2zM384.5 142l4-0.8 4-0.1 4 0.7 4 1 4 1.1 4 0.6 4 0.2 4-0.2 4-0.1 4-0.1 4 0.2 4 0.5 4 0.7 4 1.1 4 1.4 4 1.8 2 1 2 1 4 1.7 4 0.9 4-0.3 4-3.3 2.5-4 1.5-1.6 2.8-2.4 5.2-0.7 1.7 0.7 2.3 1.7 2 2.3 1.8 4 1.1 4 1.3 4 1.8 2.6 1.7 1.4 2.3 1.3 4 1.4 4 1 4 0.7 4 0.4 4 0.1 4-0.2 4-0.2 4-0.4 4-0.3 4-0.4 4-0.4 4-0.5 4-0.5 4-0.8 4-0.9 4-0.9 4-0.7 4-0.6 4-0.3 4-0.2 4 0 4 0.1 4 0.1 4 0.2 4 0.3 4 0.3 4 0.5 4 0.5 3.1 0.4 4.9 0.6 4 0.4 4 0.2 4 0.2 4 0 4 0.1 4 0 4 0 4 0 4-0.1 4 0 4-0.1 4-0.1 4-0.2 4-0.4 4-0.5 4-0.6 0 184.1 -4 0.3 -4 0.3 -4 0.1 -4 0 -4-0.1 -4 0 -4-0.1 -4-0.2 -4-0.2 -4-0.4 -4-0.6 -4-0.8 -4-1.2 -2.2-0.7 -1.8-0.7 -4-1.9 -2.5-1.4 -1.5-1.2 -3-2.8 -1-1.3 -1.9-2.7 -2-4 -1.5-4 -1.3-4 -1.2-4 -1.3-4 -1.4-4 -1.4-4 -1.3-4 -1.2-4 -1.1-4 -1.2-4 -1.7-4 -1.5-2.3 -1.5-1.7 -2.5-2.2 -4-1.8 -4-2.3 -4-1.7 -4-1.3 -4-1.2 -3.7-1.5 -4.3-2 -4-1.5 -1.8-0.5 -2.2-0.7 -4-1.1 -4-1.1 -4-1 -4-0.9 -4-0.9 -4-0.7 -4-0.6 -4-0.5 -4-0.4 -4-0.5 -4-0.6 -4-0.6 -4-0.5 -4-0.4 -4-0.4 -4-0.2 -4-0.1 -4 0.3 -4 0.1 -4 0 -4-0.2 -4-0.6 -4-3 -0.8-1.4 -1.1-4 -0.6-4 -0.7-4 -0.8-2.2 -0.6-1.8 -2.3-4 -1.1-1.3 -2.1-2.7 -1.9-1.8 -2.1-2.2 -1.9-1.5 -2.8-2.5 -5.1-4 -4.1-3.2 -4-3.3 -1.7-1.5 -2.3-1.8 -2.9-2.2 -5.1-3 -2.3-1 -1.7-0.8 -4-1.2 -4-0.8 -4-0.5 -4 0 -4 0.2 -4-0.3 -4-4.3 -0.4-4.3 0.1-4 -0.1-4 -0.5-4 -0.8-4 -1.5-4 -0.8-1.4 -1.5-2.6 -2.5-3.6 -2.9-4.4 0.6-4 2.3-1.5 4-2.2zM364.5 214.3l4-1.2 4 0.4 2.8 1.5 5.2 2.7 1.9 1.3 2.1 1 4 2 1.7 1 2.3 1.2 4 2.5 4 3.3 1.1 1 2.9 3.3 3.2 4.7 0.8 1.6 1.2 2.4 1.2 4 0.7 4 0.1 4 -0.4 4 -1 4 -1.8 3.6 -3.7 4.4 -4.3 2.9 -3.9 1.1 -4.1 0.3 -2.7-0.3 -5.3-1 -4-1.4 -3.6-1.6 -4.4-2.2 -3.5-1.8 -4.5-2.8 -1.9-1.2 -2.1-1.7 -2.8-2.3 -1.2-1.3 -2.3-2.7 -1.7-3.1 -1.5-4.9 -0.3-4 0.2-4 0.5-4 0.9-4 1.5-4 2-4 0.7-1.3 2-2.7 2-2.1 2.8-1.9zM300.5 389.8l4-1.2 4-0.8 4-0.3 4 0.4 4 1.1 4 2 4 2.5 1.9 1.5 2.1 1.7 2.7 2.3 1.3 1.2 3.2 2.8 4.3 4 3.9 4 3.3 4 1.3 1.9 1.5 2.1 2.3 4 1.6 4 0.9 4 0 4 -1.1 4 -1.2 2.1 -1.6 1.9 -2.4 1.9 -4 1.6 -4 0.2 -4-0.7 -4-1.3 -4-1.7 -4-1.8 -4-1.6 -1.5-0.6 -2.5-0.9 -4-1.1 -4-1.1 -3-0.9 -5-1.6 -4-1.4 -2.5-1 -1.5-0.7 -4-2.1 -2.1-1.2 -1.9-1.4 -3.3-2.6 -3.2-4 -1.5-3.5 -0.8-4.5 0.4-4 1.5-4 2.7-4 4.2-3.6 4-2.4 4-1.8z"/>
<path fill="#ff6000" d="M121.4 79l3.1 3.1 4 3.8 1.2 1.1 2.8 2.5 1.7 1.5 2.3 2 2.3 2 1.7 1.4 3.3 2.6 4.7 3.6 4 3 2 1.4 2 1.4 4 2.6 4 2.5 2.4 1.5 1.6 0.9 4 2.3 1.5 0.8 2.5 1.3 4 2.1 4 1.9 4 1.8 2.1 0.9 1.9 0.8 4 1.6 4 1.5 4 1.5 4 1.3 3.9 1.3 4.1 1.2 4 1.2 4 1.1 2.1 0.5 1.9 0.5 4 1 4 0.9 4 0.9 3.6 0.7 4.4 0.9 4 0.7 4 0.7 4 0.6 4 0.6 3.9 0.5 4.1 0.6 4 0.6 4 0.6 4 0.9 4 1.3 4 2.1 2.2 1.9 1.8 1.9 1.5 2.1 2.2 4 1.5 4 1.1 4 1 4 0.7 3.1 1.2 4.9 0.9 4 0.9 4 0.7 4 0.3 2.4 0.5 5.6 0.1 4 -0.2 4 -0.4 4 -0.8 4 -1.7 4 -1.5 2.1 -1.6 1.9 -2.4 2 -3.2 2 -4.8 2.3 -3.6 1.7 -4.4 2.8 -1.5 1.2 -2.5 2 -2.4 2 -1.6 1.3 -4 2.6 -4 1.8 -4 1 -4 0.2 -4-0.4 -4-0.8 -4-1.1 -2.3-0.6 -1.7-0.4 -4-0.9 -4-0.5 -4 0.1 -4 0.7 -2.6 1 -1.4 0.9 -3 3.1 -0.9 4 0.9 4 2.3 4 2.6 4 2.1 3.6 1.6 4.4 -0.4 4 -1.2 2.3 -0.9 1.7 -3.1 3.1 -1.2 0.9 -2.8 1.7 -4 1.5 -4 0.6 -2.8 0.2 -3.3 0 -5.9-0.6 -4-0.5 -4-0.4 -4 0.2 -4 0.6 -2.7 0.7 -5.3 1.9 -3.8 2.1 -4.2 3.6 -3.6 4.4 -2.3 4 -1.7 4 -1.1 4 -0.4 4 0.2 4 0.2 4 0.1 4 -0.2 4 -0.5 4 -0.5 4 -0.6 4 -0.7 4 -0.6 4 -0.3 2 -0.2 2 -0.5 4 -0.5 4 -0.4 4 -0.4 4 -0.3 4 -0.5 4 -0.3 4 -0.3 4 -0.2 4 -0.3 4 -0.3 4 0 4 0.2 3.8 0.3 4.2 0.3 4 0.2 4 0.4 4 0.7 4 0.7 4 0.6 4 0.4 4 0.4 3.7 0.6 4.3 0.2 4 -0.3 4 -0.5 2.2 -0.4 1.8 -1.6 4 -2 3.1 -4 4.8 -4 3.5 -4 3.3 -1.5 1.3 -2.5 2.3 -1.8 1.7 -2.2 2.2 -2 1.8 -2 1.8 -2.7 2.2 -1.3 1 -4 2.8 0-419.8zM476.5 146.7l4-0.3 2.1 4.6 -1.5 4 -4.6 1.8 -1.4-1.8 -0.6-4 1.6-4zM388.5 148.5l4-0.5 4 0.9 4 1 4 0.6 4-0.1 4-0.6 4-0.8 4-0.6 4-0.5 4 0.1 4 0.3 4 0.7 4 1.1 2.5 0.9 1.5 0.6 4 1.9 3.1 1.5 4.9 2.4 4 1.5 4 1.3 4 1.3 2.3 1.5 1.7 3.6 1.5 4.4 1.9 4 4.6 3.8 4-0.3 4-1.6 4-1.5 4-1 4-0.5 4-0.2 4-0.1 4-0.1 4-0.2 4-0.2 4-0.3 4-0.3 4-0.3 4-0.3 4-0.2 4-0.4 3.2-0.3 4.8-0.8 4-0.8 4-0.8 4-0.6 4-0.5 4-0.4 2.9-0.1 5.1-0.1 2.5 0.1 5.5 0.3 4 0.4 4 0.5 4 0.5 4 0.6 4 0.6 4 0.6 3.5 0.5 4.5 0.5 4 0.3 4 0.2 4 0.3 4 0.2 4 0.2 4 0.2 4 0.2 4 0.1 4 0.2 4 0.2 4 0.1 4-0.1 4-0.2 4-0.4 4-0.6 0 172.9 -4 0.4 -4 0.3 -4 0.1 -4 0 -4 0 -4-0.1 -4-0.1 -4-0.2 -4-0.2 -4-0.4 -4-0.6 -4-0.9 -2-0.6 -2-0.7 -4-1.6 -3.5-1.7 -4.5-3.5 -3.6-4.5 -2.1-4 -1.6-4 -0.7-2 -0.6-2 -1.3-4 -1.3-4 -0.8-2.2 -0.6-1.8 -1.4-4 -1.4-4 -0.6-2 -0.6-2 -0.9-4 -1.1-4 -1.4-3.7 -2.4-4.3 -1.6-2.1 -2.2-1.9 -1.8-1.4 -4-1.7 -1.8-0.9 -2.2-1.1 -4-1.7 -4-1.2 -4-1.4 -4-1.6 -2.4-1 -1.6-0.7 -4-1.4 -4-1.1 -3.2-0.8 -4.8-1.4 -4-1.1 -4-1 -2.9-0.5 -5.1-1.1 -4-0.7 -4-0.6 -4-0.4 -4-0.5 -4-0.7 -4-0.9 -4-0.8 -4-0.9 -4-1 -1.6-0.4 -2.4-1.1 -4-2 -1.5-0.9 -2.4-4 -0.9-4 -1.3-4 -1.9-4 -2.5-4 -1.5-2.5 -1.3-1.5 -2.7-2.9 -1.9-1.1 -2.1-1.1 -4-0.9 -4-0.9 -4-0.9 -4-1.1 -4-1.5 -3.3-1.6 -4.7-2.6 -2.1-1.4 -1.9-1.2 -3.7-2.8 -4.3-3.2 -1.3-0.8 -2.7-1.8 -4-2.2 -4-2 -4-1.6 -4-1.9 -4-1.5 -2.7-1 -1.3-0.8 -3-3.2 -1-1.5 -0.9-2.5 -1.4-4 -1.2-4 -0.5-1.6 -0.5-2.4 -1.3-4 -1.4-4 0-4zM368.5 221.9l4-0.6 4 0.5 4 1 4 1.4 4 1.5 2.6 1.3 1.4 0.7 4 2.9 4 4.1 3 4.3 1 2.2 0.9 1.8 1.2 4 0.5 4 -0.2 4 -0.8 4 -1.6 3.6 -3.7 4.4 -4.3 2.4 -4 0.9 -4 0 -4-0.8 -4-1.4 -2.3-1.1 -1.7-0.9 -4-2.5 -4-3 -2-1.6 -2-2 -2-2 -2-2.9 -2.5-5.1 -0.8-4 -0.1-4 0.6-4 1.4-4 1.4-2.5 1.1-1.5 2.9-3 1.7-1zM300.5 394.4l4-1.3 4-0.9 4-0.4 4 0.3 4 1.1 3.7 1.8 4.3 3 1.2 1 2.8 2.5 1.6 1.5 2.4 2.4 1.7 1.6 2.3 2.4 1.5 1.6 2.5 3 3.5 5 2.1 4 1.4 4 0.5 4 -1.1 4 -2.4 2.8 -2.1 1.2 -1.9 0.6 -4 0.3 -4-0.6 -4-1 -4-1.2 -4-1.2 -3.7-0.9 -4.3-1.1 -4-1.1 -4-1 -2.6-0.8 -5.4-2 -4-1.8 -4-2.7 -2.1-1.5 -1.9-2.2 -1.6-1.8 -1.7-4 -0.5-4 0.8-4 2.1-4 4.1-4 4.8-2.8 2.5-1.2z"/>
<path fill="#ff5300" d="M122.9 87l1.6 1.5 2.8 2.5 1.2 1.1 3.3 2.9 4.7 3.9 4 3.2 1.2 0.9 2.8 2.1 2.6 1.9 1.4 1 4 2.7 4 2.7 2.6 1.6 1.4 0.9 4 2.3 1.3 0.8 2.7 1.5 4 2.1 4 2 4 1.9 4 1.8 4 1.7 2.6 1 5.4 2 4 1.4 1.7 0.6 2.3 0.7 4 1.3 4 1.1 3.1 0.9 4.9 1.3 4 1 4 0.9 3.4 0.8 4.6 1 4 0.8 4 0.8 4 0.7 4 0.7 4 0.6 4 0.7 4 0.6 4 0.6 4 0.6 4 0.7 4 0.9 4 1.2 4 1.7 4 2.8 1.6 1.6 2.4 3 2.5 5 1.3 4 0.9 4 0.7 4 0.7 4 0.7 4 0.6 4 0.6 3.7 0.7 4.3 0.4 4 0.3 4 0.1 4 -0.2 4 -0.8 4 -1.8 4 -2.7 3.1 -4 2.8 -4 1.9 -4 1.8 -4 2.2 -4 3.3 -4 3.5 -1.9 1.4 -2.1 1.4 -4 2.1 -1.6 0.5 -2.4 0.7 -4 0.4 -4-0.2 -4-0.6 -4-0.9 -4-0.9 -4-0.9 -4-0.5 -4-0.2 -4 0.5 -4 1.3 -2.3 1.3 -1.7 1.7 -1.8 2.3 -0.6 4 1.3 4 1.1 1.6 1.4 2.4 2.6 3.8 2.5 4.2 1.2 4 -0.5 4 -2.4 4 -4.8 3.9 -4 1.6 -4 0.7 -4 0.1 -4-0.5 -4-0.9 -3.3-0.9 -4.7-1 -4 0 -4 0.6 -1.6 0.4 -2.4 0.6 -4 1.4 -4 1.8 -4 2.6 -2 1.6 -2 2 -1.8 2 -2.2 3.2 -2.4 4.8 -1.4 4 -0.8 4 -0.3 4 0.1 4 0.3 4 0.2 4 0 4 -0.1 4 -0.2 4 -0.4 4 -0.3 4 -0.4 4 -0.3 4 -0.4 4 -0.5 4 -0.3 4 -0.3 4 -0.4 4 -0.4 4 -0.4 4 -0.2 4 -0.2 4 -0.2 4 -0.3 4 0 4 0.2 4 0.3 4 0.2 4 0.2 4 0.4 4 0.3 2.1 0.4 1.9 0.7 4 0.6 4 0.4 4 0.4 4 0.4 4 0.1 4 -0.4 4 -0.9 4 -1.7 3.9 -2.7 4.1 -1.3 1.4 -2.6 2.6 -1.4 1.3 -3.4 2.7 -4.6 3.9 -4 3.7 -4 3.7 -4 3.3 -2.1 1.4 -1.9 1.4 0-411.7zM416.5 154.7l4-1.6 4-1 4-0.3 4 0.1 4 0.7 4 1 3.7 1.4 4.3 2.2 3.5 1.8 4.5 2.7 2.3 1.3 1.7 1.5 2.7 2.5 1.3 2.4 0.8 1.6 1 4 0.2 4 -0.6 4 -1.4 3.5 -2.6 4.5 -1.4 2.1 -1.2 1.9 -2.8 3.1 -4 2.5 -4 1 -4-0.2 -4-1 -3-1.4 -5-2.9 -1.6-1.1 -2.4-1.7 -3.1-2.3 -4.9-3.3 -4-2.8 -2.6-1.9 -1.4-1.7 -2-2.3 -1.4-4 -0.2-4 -0.1-4 -0.1-4 1.7-4 2.1-1.6 3.2-2.4zM556.5 174.9l4-0.7 4-0.6 4-0.4 4-0.3 4 0 4 0.1 4 0.3 4 0.5 4 0.6 3.8 0.6 4.2 0.7 4 0.7 4 0.5 4 0.5 4 0.5 4 0.4 4 0.5 1.8 0.2 2.2 0.3 4 0.5 4 0.6 4 0.5 4 0.4 4 0.4 4 0.3 4 0.3 4 0.2 4 0.1 4 0 4-0.2 4-0.4 4-0.7 0 161.7 -4 1.5 -4 0.3 -4 0.1 -4 0 -4 0 -4-0.1 -4-0.1 -4-0.2 -4-0.2 -4-0.4 -4-0.7 -4-1 -4-1.5 -4-1.6 -4-2.6 -1.9-1.5 -2.1-2.4 -1.2-1.6 -2.3-4 -1.6-4 -1.4-4 -1.4-4 -1.3-4 -1.4-4 -1.4-4 -1.3-4 -1.2-4 -0.9-4 -0.6-2.4 -1.7-5.6 -1.9-4 -2.7-4 -1.7-2 -2.9-2 -5.1-2.7 -3-1.3 -5-2.1 -4-1.2 -2.1-0.7 -1.9-0.7 -4-1.6 -4-1.4 -4-1.3 -4-1.1 -4-1 -3.4-0.9 -4.6-1.5 -4-1.1 -4-0.9 -2.9-0.5 -5.1-1 -4-0.7 -4-0.5 -4-0.7 -4-0.9 -4-1.3 -4-1.6 -2.7-1.3 -1.3-1 -3.3-3 -2.5-4 -1.9-4 -1.9-4 -1.7-4 -0.7-2 -0.8-2 -1.1-4 -0.6-4 -0.4-4 0.2-4 1-4 1.7-3.4 3-4.6 1-1.1 2.9-2.9 1.1-0.9 4-2.7 4-1.9 4-1.2 4-0.8 3.9-0.5 4.1-0.4 4-0.4 4-0.3 4-0.3 4-0.2 4-0.2 4-0.3 4-0.3 4-0.4 4-0.6 3.5-0.6zM368.5 230.3l4-2.2 4-0.8 4 0.2 4 0.7 4 1.1 3.2 1.7 4.6 4 3 4 1.2 2.3 0.8 1.7 1.2 4 0.4 4 -0.4 4 -1.4 4 -3.2 4 -1.4 1 -4 1.6 -4 0.3 -4-0.7 -4-1.6 -4-2.5 -2.6-2.1 -1.4-1.6 -2.3-2.4 -1.7-2.2 -1.4-1.8 -2-4 -0.6-2.2 -0.5-1.8 0-4 0.5-2 0.6-2 2.7-4zM304.5 398.1l4-1.1 4-0.6 4 0.1 4 1.1 2.7 1.4 1.3 0.8 3.9 3.2 4 4 3.6 4 3.1 4 1.4 2.3 1 1.7 1.5 4 0.3 4 -2.1 4 -4.7 1.8 -4 0.1 -4-0.4 -4-0.5 -4-0.7 -4-0.9 -4-1 -4-1.1 -4-1.1 -4-1.7 -4-2.3 -4-4.1 -1.9-4.1 -0.2-4 1.4-4 3.5-4 1.2-0.9 4-2.3 1.6-0.8z"/>
<path fill="#ff4600" d="M124.5 94.8l4 3.4 4 3.3 1.9 1.5 2.1 1.6 3.1 2.4 4.9 3.5 4 2.8 2.6 1.7 1.4 0.9 4 2.4 4 2.4 4 2.2 4 2.1 4 2 4 1.9 4 1.7 4 1.7 4 1.5 3.2 1.2 4.8 1.6 4 1.3 3.6 1.1 4.4 1.2 4 1.1 4 1 2.9 0.7 5.1 1.2 4 0.8 4 0.8 4 0.8 2.1 0.4 1.9 0.3 4 0.8 4 0.7 4 0.6 4 0.7 4 0.6 1.8 0.3 2.2 0.4 4 0.7 4 0.7 4 0.8 4 1.1 4 1.5 4 2.1 4 3.4 1 1.3 2.7 4 1.5 4 0.8 4 0.6 4 0.6 4 0.5 4 0.3 2.7 0.9 5.3 0.6 4 0.6 4 0.4 4 0.2 4 0 4 -0.8 4 -1.9 3.6 -4 3.6 -1.3 0.8 -2.7 1.3 -4 1.7 -2 1 -2 1.1 -3.7 2.9 -4.3 3.9 -4 3.1 -1.5 1 -2.5 1.4 -4 1.4 -4 0.6 -4 0 -4-0.4 -4-0.7 -4-0.9 -4-0.9 -3.4-0.5 -4.6-0.4 -4 0.2 -4 0.9 -4 1.9 -2 1.4 -2 2.9 -1.1 5.1 1.1 2.5 3.3 5.5 3 4 1.7 2.8 1.8 5.2 -0.6 4 -1.2 2 -1.5 2 -2.5 2 -4 1.8 -4 0.8 -4-0.1 -2.8-0.5 -5.2-1.7 -4-1.6 -2.5-0.7 -5.5-0.6 -3.8 0.6 -4.2 1.1 -4 1.4 -3.8 1.5 -4.2 2.2 -2.7 1.8 -1.3 1 -3.2 3 -3.2 4 -1.6 2.8 -2.2 5.2 -1.2 4 -0.6 4 -0.2 4 0.1 4 0.3 4 0.3 4 0.3 4 0.1 4 -0.1 4 -0.1 4 -0.2 4 -0.1 4 -0.2 4 -0.2 2.2 -0.5 5.8 -0.3 4 -0.3 4 -0.2 4 -0.4 4 -0.4 4 -0.2 4 -0.2 4 -0.2 4 -0.2 4 -0.1 4 0.2 4 0.3 4 0.2 4 0.2 4 0.4 4 0.6 4 0.7 4 0.4 3.2 0.5 4.8 0.4 4 0.3 4 0 4 -0.4 4 -0.8 3.2 -2 4.8 -2 2.8 -0.9 1.2 -3.1 3 -1.1 1 -2.9 2.3 -2.1 1.7 -1.9 1.6 -2.8 2.4 -1.2 1.1 -3.1 2.9 -4.7 4 -4.2 2.9 0-402.7zM424.5 157.4l4-1 4-0.3 4 0.5 4 0.9 3.8 1.5 4.2 2.4 2.7 1.6 1.3 1.1 3.5 2.9 2.5 4 0.8 4 -0.3 4 -1.4 4 -1.1 2 -1.2 2 -2.8 3.6 -4 3 -4 1.1 -4-0.5 -4-1.6 -2.7-1.6 -1.3-0.8 -4-2.9 -4-3.1 -1.5-1.2 -2.5-2.6 -1.3-1.4 -2-4 -0.7-3.4 0-3.9 1.3-4.7 2.7-3.3zM568.5 178.7l4-0.1 4 0.1 3.8 0.3 4.2 0.6 4 0.8 4 0.9 4 1 3.1 0.7 4.9 1 4 0.6 4 0.3 4 0.3 4 0.4 4 0.7 3.5 0.7 4.5 1 4 0.8 4 0.5 4 0.4 4 0.3 4 0.2 4 0.1 4 0 4 0 4-0.1 4-0.2 4-0.4 4-0.7 0 153.9 -4 0.5 -4 0.3 -4 0.1 -4 0 -4 0 -4-0.1 -4-0.1 -4-0.2 -4-0.3 -4-0.4 -4-0.7 -4-1.2 -4-1.5 -4-2.2 -3.1-2 -3.6-4 -1.3-2 -1.1-2 -1.8-4 -1.1-3 -1.7-5 -1.4-4 -0.9-2.5 -0.5-1.5 -1.4-4 -1.3-4 -0.8-2.6 -1.2-5.4 -0.9-4 -1.1-4 -0.8-2.1 -0.8-1.9 -2.1-4 -1.1-1.9 -1.7-2.1 -2.3-2.4 -2.5-1.6 -1.5-1.1 -4-1.9 -2.6-1 -1.4-0.6 -4-1.5 -4-1.3 -2-0.6 -2-0.7 -4-1.4 -4-1.2 -2.7-0.7 -5.3-1.5 -4-1.1 -4-1.2 -4-1.5 -4-1.3 -4-0.9 -2.4-0.5 -1.6-0.4 -4-0.8 -4-0.6 -4-0.7 -4-1 -1.7-0.5 -2.3-1 -4-2.2 -4-3.7 -3.4-5.1 -2.3-4 -2-4 -1.7-4 -1.1-4 -0.5-4 0.2-4 0.8-4 1.7-4 2.5-4 1.8-2 2-2 2-1.5 4-2.4 4-1.5 4-1.1 4-0.7 4-0.5 4-0.3 4-0.2 4-0.2 4-0.2 4-0.2 4-0.4 4-0.4 4-0.6 4-0.7 4-0.6 4-0.5zM376.5 233.8l4-1.1 4-0.1 4 1 2.2 1.4 1.8 1.5 2.1 2.5 1.9 3 1.9 5 0.4 4 -0.8 4 -1.5 2.7 -1.2 1.3 -2.8 1.8 -4 0.7 -4-0.8 -3.5-1.7 -4.3-4 -2.8-4 -1.4-3 -1.4-5 0.6-4 0.8-1.5 2-2.5zM312.5 402.3l4-0.2 3.6 0.9 4.4 3.4 4 4.2 3.3 4.4 0.7 1.4 1.2 2.6 0.1 4 -1.3 1.5 -4 2 -4 0.5 -4-0.3 -4-0.8 -4-1.2 -4-1 -2.6-0.7 -1.4-0.6 -4-2.5 -2.9-4.9 0.5-4 2.4-3.4 4-2.5 4-1.8z"/>
<path fill="#ff3900" d="M122.2 99l2.3 1.9 2.5 2.1 1.5 1.2 3.6 2.8 4.4 3.3 4 2.9 2.7 1.8 1.3 0.9 4 2.6 4 2.5 3.5 2 4.5 2.5 2.8 1.5 5.2 2.6 3.1 1.4 4.9 2.2 4 1.6 4 1.5 4 1.4 3.9 1.3 4.1 1.3 4 1.1 4 1.1 1.9 0.5 2.1 0.5 4 1 4 0.9 4 0.8 3.8 0.8 4.2 0.8 4 0.8 4 0.7 4 0.7 4 0.6 2.2 0.4 1.8 0.3 4 0.7 4 0.6 4 0.7 4 0.7 4 0.7 4 0.8 4 1.1 4 1.3 2.6 1.1 1.4 0.7 4 2.7 4 4.1 2.2 4.5 1 4 0.7 4 0.5 4 0.4 4 0.5 4 0.6 4 0.6 4 0.6 4 0.6 4 0.3 2.9 0.1 5.1 -1 4 -2.9 4 -4.2 2.6 -3 1.4 -5 2.4 -2.2 1.6 -1.8 1.4 -2.7 2.6 -1.3 1.2 -3.1 2.8 -4.9 3.3 -1.5 0.7 -2.5 1 -4 0.9 -4 0.2 -4-0.3 -4-0.7 -4-0.8 -4-0.9 -4-0.7 -4-0.4 -4 0 -4 0.5 -3.9 1.2 -4.1 2.6 -1.6 1.4 -2.3 4 -0.3 4 1.8 4 2.4 2.6 1 1.4 3 3.4 2.9 4.6 1.1 4 -0.8 4 -3.1 4 -4.1 2.1 -4 0.8 -4-0.2 -4-1.1 -3.6-1.6 -4.4-2.7 -3.5-1.3 -4.5-0.4 -4 0.9 -4 1.2 -4 1.4 -2.6 0.9 -5.4 2.3 -2.9 1.7 -5.1 3.8 -3.9 4.2 -2.6 4 -1.5 3.1 -1.7 4.9 -0.9 4 -0.5 4 -0.2 4 0.2 4 0.3 4 0.4 4 0.4 4 0.3 4 0.1 4 0 4 0 4 0 4 -0.1 4 -0.3 4 -0.2 4 -0.2 4 -0.2 4 -0.2 4 -0.3 4 -0.5 4 -0.2 4 -0.2 4 -0.1 4 -0.2 4 0 4 0.2 4 0.1 2.2 0.4 5.8 0.2 4 0.4 4 0.5 4 0.7 4 0.5 4 0.4 4 0.3 4 0.2 4 -0.1 4 -0.5 4 -1.1 4 -1.9 4 -3.2 4 -4.6 4 -4.2 3.3 -4 3.3 -1.6 1.4 -2.4 2.3 -1.9 1.7 -2.1 1.7 -3.3 2.3 -0.7-4 0-388zM428.5 162.7l4-1.1 4-0.2 4 0.8 2 0.8 2 1.1 3.9 2.9 2.8 4 0.8 4 -0.9 4 -2.2 4 -4.4 3.4 -4 0.3 -4-1.6 -3.5-2.1 -4.5-3.7 -3.3-4.3 -0.7-1.8 -0.6-2.2 0.5-4 3.6-4zM548.5 186.8l4-0.7 4-0.7 4-0.6 4-0.5 4-0.2 4 0 4 0.4 4 0.8 4 1 2.2 0.7 1.8 0.7 4 1.7 3.7 1.6 4.3 2.1 4 1.6 4 1.3 4 0.5 4 0.1 4 0.2 4 0.5 4 0.5 4 0.3 4 0 4 0 4-0.1 4-0.2 4-0.2 4-0.2 4-0.3 4-0.3 4-0.3 4-0.3 4-0.4 4-0.6 0 146.1 -4 0.7 -4 0.3 -4 0.1 -4 0 -4 0 -4 0 -4-0.1 -4-0.3 -4-0.4 -4-0.4 -4-0.8 -4-1.2 -4-1.9 -3.9-2.3 -4.1-3.9 -2.6-4.1 -1.4-2.8 -2.1-5.2 -1.4-4 -1.5-4 -1.4-4 -1.4-4 -1.2-4 -1.1-4 -0.9-4 -0.7-4 -0.9-4 -1.3-4 -1.7-4 -1.8-4 -2.5-4 -3.8-4 -4.3-3 -2.4-1 -1.6-0.7 -4-1.5 -4-1.2 -2.1-0.6 -1.9-0.6 -4-1.2 -4-1.1 -4-0.9 -4-1.1 -4-1.2 -4-1.3 -1.8-0.6 -2.2-1 -4-1.7 -3.8-1.3 -4.2-1.5 -4-0.9 -4-0.5 -4-0.6 -2.8-0.5 -5.2-1.8 -3.6-2.2 -3.8-4 -2.7-4 -1.9-3.3 -2.2-4.7 -1.3-4 -0.5-3.8 0.6-4.2 1.4-4 2-3.3 4-4.5 4-2.7 2.7-1.5 5.3-1.6 4-0.6 4-0.4 4-0.2 4-0.1 4-0.2 4-0.2 4-0.4 2.4-0.3zM380.5 241.4l4-2.2 4 1.2 2.5 2.6 1.5 2 0.8 2 0.5 4 -1.3 3.8 -4 1.7 -4-1.2 -3.9-4.3 -1.4-4 0.3-4z"/>
<path fill="#ff2d00" d="M124.5 107l4 3.1 1.2 0.9 2.8 2.1 2.6 1.9 1.4 1 4 2.7 4 2.6 2.8 1.7 5.2 3.1 1.6 0.9 2.4 1.3 4 2.1 4 1.9 4 1.9 1.9 0.8 2.1 0.9 4 1.6 4 1.5 4 1.4 4 1.3 4 1.2 4 1.1 4 1 4 1 4 0.9 4 0.8 4 0.8 4 0.8 4 0.7 4 0.7 1.9 0.3 2.1 0.4 4 0.6 4 0.7 4 0.6 4 0.6 4 0.7 2.7 0.4 5.3 0.9 4 0.8 4 0.8 4 1 1.8 0.5 2.2 0.7 4 1.6 3.1 1.7 4.9 3.9 2.8 4.1 1.2 3.3 0.9 4.7 0.6 4 0.5 4 0.4 4 0.5 4 0.6 4 0.5 2.6 1 5.4 0.5 4 -0.2 4 -1.3 3.8 -4 3.8 -4 1.9 -4 2.1 -4 2.9 -1.5 1.5 -2.5 2.4 -1.6 1.6 -2.4 2.2 -2.2 1.8 -1.8 1.2 -4 2 -2.9 0.8 -5.1 0.7 -4-0.2 -3.9-0.5 -4.1-0.8 -4-0.9 -4-0.8 -4-0.5 -4-0.2 -4 0.2 -4 0.8 -4 1.6 -4 3.1 -1.4 1.5 -2 4 -0.3 4 1.7 4 2 1.7 2.1 2.3 1.9 1.5 2.2 2.5 1.8 2.3 1 1.7 1.1 4 -0.9 4 -1.2 1.5 -3.1 2.5 -4.9 1.3 -4-0.4 -2.8-0.9 -5.2-3.3 -4-3.4 -3-1.3 -5-0.4 -4 1.1 -4 1.4 -4 1.5 -4 1.4 -4 1.6 -2.8 1.4 -5.2 3.3 -4 3.5 -1.1 1.2 -2.9 3.9 -2.3 4.1 -1.6 4 -1.2 4 -0.7 4 -0.3 4 -0.1 4 0.2 4 0.4 4 0.4 4 0.5 4 0.4 4 0.2 4 0.2 4 0.1 4 0.1 4 0.1 4 -0.2 4 -0.1 4 -0.1 2.4 -0.1 5.6 -0.2 4 -0.3 4 -0.4 4 -0.2 4 -0.1 4 -0.1 4 -0.1 4 -0.1 4 0.2 4 0.2 4 0.3 4 0.2 4 0.3 4 0.4 2.9 0.7 5.1 0.6 4 0.4 4 0.3 4 0 4 -0.1 4 -0.6 4 -1.2 4 -2.2 4 -1.9 2.4 -1.7 1.6 -2.3 2 -2.7 2 -1.3 1 -3.9 3 -4.1 3.6 -4 3.5 -1.2 0.9 -2.8 1.9 0-385.2zM556.5 190.9l4-0.7 4-0.5 4-0.1 4 0.3 4 0.7 4 1.4 4 2 1.7 1 2.3 1.9 2.3 2.1 1.7 2.3 1.3 1.7 1.9 4 0.8 2.6 2.1 5.4 1.9 3.6 4 2.7 4 0.1 4-1.3 2.1-1.1 1.9-0.9 4-2.4 4-2.5 4-2.2 4-1.8 4-1.4 3-0.8 5-1.2 4-0.7 4-0.7 4-0.6 4-0.5 2.2-0.3 1.8-0.2 4-0.5 4-0.5 4-0.5 4-0.5 0 138.2 -4 1.7 -4 0.3 -4 0 -4 0 -4 0.1 -4 0 -4-0.2 -4-0.3 -4-0.4 -4-0.5 -4-0.7 -4-1.7 -4-2 -4-3.2 -1.1-1.1 -2.9-3.9 -2-4.1 -1.7-4 -1.5-4 -1.5-4 -1.3-3.5 -1.5-4.5 -1.3-4 -1-4 -0.8-4 -0.6-4 -0.7-4 -0.9-4 -1.2-4 -1.2-4 -1.3-4 -1.5-4 -1.9-4 -2.1-3.7 -4-4.1 -4-2.3 -4-0.9 -4-0.5 -4-0.3 -2-0.2 -2-0.2 -4-0.6 -4-0.7 -4-0.9 -4-1.2 -4-1.6 -4-2.1 -4-2.3 -4-2.1 -4-1.8 -4-1.3 -4-0.4 -4 0.1 -4-0.3 -2.2-0.6 -1.8-0.6 -4-2.6 -3.9-4.8 -2-4 -1.2-4 -0.3-4 0.9-4 2.1-4 3.9-4 4.5-2.6 4-1.2 4-0.6 4-0.2 4-0.1 4 0 4-0.2 4-0.4 4-0.8 4-1 3.7-0.9z"/>
<path fill="#ff2000" d="M121.9 111l2.6 2 2.6 2 1.4 1 4 2.9 4 2.7 2.1 1.4 1.9 1.2 4 2.5 4 2.3 3.5 2 4.5 2.3 3.4 1.7 4.6 2.1 4 1.7 4 1.6 4 1.5 3.2 1.1 4.8 1.6 4 1.1 4 1.1 4 1 4 0.9 4 0.8 4 0.8 3.7 0.7 4.3 0.7 4 0.7 4 0.6 4 0.6 4 0.6 4 0.6 4 0.6 4 0.6 4 0.6 4 0.7 4 0.7 4 0.7 4 0.8 4 1 4 1.2 3.8 1.3 4.2 2.2 2.8 1.8 1.2 1.1 2.6 2.9 1.4 2.5 0.6 1.5 1.1 4 0.8 4 0.6 4 0.5 4 0.4 3.5 0.6 4.5 0.6 4 0.7 4 0.7 4 -0.6 4 -2 3.3 -4 2.8 -2.9 1.9 -5.1 3.5 -4 4 -4 4.2 -4 3.4 -1.4 0.9 -2.6 1.4 -4 1.3 -4 0.6 -4 0 -4-0.5 -4-0.8 -4-0.9 -4-0.8 -1.8-0.3 -2.2-0.4 -4-0.4 -4 0 -4 0.4 -1.7 0.4 -2.3 0.7 -4 2 -1.8 1.3 -2.2 2.3 -1.4 1.7 -1.9 4 -0.6 4 0.9 4 3 2.6 1.7 1.4 2.3 1.1 3.8 2.9 3.1 4 1.1 3.2 -1.1 4.8 -2.9 2.4 -4 1.1 -4-0.6 -4-2.1 -4-4.2 -4-4.6 -4-1.5 -4 0.6 -2.4 0.9 -1.6 0.5 -4 1.7 -4 1.8 -4 1.3 -4 1.5 -2.6 1.2 -1.4 0.6 -4 2.4 -1.4 1 -2.6 2 -2.1 2 -1.9 2.1 -1.5 1.9 -2.5 3.9 -1.9 4.1 -1.4 4 -0.7 3 -0.8 5 -0.3 4 0.1 4 0.2 4 0.4 4 0.4 2.9 0.7 5.1 0.5 4 0.3 4 0.3 4 0.3 4 0.2 4 0.1 4 0 4 -0.1 4 0 4 -0.1 4 0 4 -0.3 4 -0.3 4 -0.2 4 -0.1 4 -0.1 4 0 4 0 4 0.1 4 0.2 4 0.3 4 0.3 4 0.3 4 0.4 4 0.5 4 0.6 4 0.4 4 0.2 4 0 4 -0.3 4 -0.7 4 -1.4 4 -2.1 3.8 -4 3.9 -4 2.9 -2 1.4 -2 1.5 -3.1 2.5 -4.5 4 -4.4 3.3 0-375.3zM552.5 199l4-1.7 4-1.2 4-0.7 4-0.1 4 0.7 4 1.5 2.5 1.5 1.5 1.3 2.6 2.7 1.4 2.7 0.7 1.3 1.1 4 0.3 4 -0.4 4 -1.3 4 -2.5 4 -1.9 2.2 -2 1.8 -2 1.8 -4 2 -4 0.8 -4 0 -2.7-0.6 -5.3-2.1 -2.9-1.9 -5.1-3.8 -4-2.9 -2.8-1.3 -5.2-1.5 -4 0.2 -4 0.4 -4-0.1 -4-1.2 -2.3-1.8 -1.7-2.6 -0.6-1.4 -0.3-4 0.9-2.4 0.7-1.6 3.3-2.9 2.8-1.1 5.2-0.5 4 0.4 4 0.8 4 0.3 3.6-1 4.4-1.8 4-2.2zM676.5 206.6l4-0.4 0 132.1 -2.4 0.7 -5.6 0.6 -4 0 -4 0 -4 0.1 -4 0 -4-0.1 -4-0.4 -2-0.2 -2-0.3 -4-0.6 -4-1.1 -4-1.7 -4-2.7 -1.9-1.6 -2.1-2.4 -1.2-1.6 -2.2-4 -1.7-4 -1.7-4 -1.2-3 -1.9-5 -1.4-4 -0.7-2.4 -0.5-1.6 -1-4 -0.6-4 -0.5-4 -0.5-4 -0.5-4 -0.4-2.9 -0.8-5.1 -0.5-4 -0.4-4 -0.2-4 0.1-4 0.4-4 0.8-4 0.6-1.7 0.7-2.3 2.1-4 1.2-1.5 1.8-2.5 2.2-2.4 1.3-1.6 2.7-2.7 1.2-1.3 2.8-2.6 1.5-1.4 2.5-1.9 3-2.1 5-2.8 2.7-1.2 5.3-2.1 4-1.2 2.9-0.7 5.1-1.2 4-0.8 4-0.7 4-0.6 4-0.6z"/>
<path fill="#ff1300" d="M124.4 119l4.1 3 1.5 1 2.5 1.7 3.5 2.3 4.5 2.8 2 1.2 2 1.2 4 2.2 4 2.1 4 2 4 1.8 4 1.7 2.4 1 1.6 0.6 4 1.5 4 1.4 1.7 0.5 2.3 0.7 4 1.2 4 1 4 0.9 4 0.9 4 0.8 4 0.7 4 0.7 4 0.6 3.7 0.5 4.3 0.6 4 0.5 4 0.6 4 0.5 4 0.5 4 0.6 4 0.5 4 0.6 4 0.7 4 0.7 4 0.8 4 0.9 1.8 0.5 2.2 0.7 4 1.4 4 1.8 4 2.7 1.6 1.4 2.4 3 2.2 5 1.1 4 0.7 3.7 0.6 4.3 0.4 4 0.4 4 0.5 4 0.5 4 0.2 4 -1.5 4 -1.1 1.2 -2.9 2.8 -4.8 4 -4 4 -3.4 4 -3.8 4 -5.1 3.5 -4 1.6 -4 0.8 -4 0.1 -4-0.4 -4-0.7 -3.8-0.9 -4.2-1.1 -4-0.7 -4-0.6 -4-0.3 -4 0.1 -4 0.6 -4 1.4 -4 2.4 -2.6 2.2 -1.4 1.8 -1.7 2.2 -2 4 -1.6 4 -1.7 4 -1 1.4 -3.9 2.6 -4.1 1.7 -4 2 -4 1.9 -4 2 -4 1.6 -4 1.5 -2.8 1.3 -5.2 2.6 -2.1 1.4 -1.9 1.3 -3.1 2.7 -3.7 4 -1.2 1.5 -1.6 2.5 -2.2 4 -1.6 4 -1.1 4 -0.8 4 -0.5 4 -0.1 4 0 4 0.3 4 0.5 4 0.6 4 0.6 4 0.6 4 0.4 4 0.4 4 0.4 4 0.3 4 0.2 4 0.1 4 0 4 0.1 4 0 4 0 4 -0.2 4 -0.3 4 -0.1 2.7 -0.1 5.3 0 4 0.1 4 -0.1 4 0.1 4 0.2 4 0.3 4 0.3 4 0.3 4 0.4 4 0.4 4 0.6 4 0.4 4 0.1 4 -0.2 4 -0.4 4 -0.8 4 -1.4 4 -2.9 4 -1.3 1.3 -3.6 2.7 -4.4 3 -1.5 1 -2.5 2 -2.5 2 -1.5 1.3 -3.3 2.7 -0.7-4 0-362.9zM564.5 201.9l4 0 3.4 1.1 4.4 4 1.5 4 0 4 -1.3 3.9 -3.6 4.1 -4.4 2 -4 0.1 -4-1.3 -4-3.6 -0.9-1.2 -1.2-4 0.1-4 1.7-4 4.3-3.8zM660.5 214.6l4-0.9 4-0.7 4-0.7 4-0.5 4-0.4 0 123.6 -4 2.6 -4 0.4 -4 0 -4 0 -4 0.1 -4 0.1 -4-0.2 -4-0.5 -4-0.6 -4-0.7 -4-1.1 -4-2.4 -2.4-1.7 -1.6-1.6 -2-2.4 -2-3 -2.5-5 -1.5-3.4 -1.9-4.6 -1.6-4 -1.4-4 -1.2-4 -0.9-4 -0.7-4 -0.3-4 -0.2-4 0-4 -0.1-4 0-4 0-4 0.3-4 0.5-4 0.8-4 1.2-4 1.5-3.8 1.9-4.2 2.1-3.3 3.3-4.7 3.4-4 1.3-1.3 2.9-2.7 1.1-0.9 4-2.8 4-2.2 4-1.8 4-1.5 4-1.2 4-1.1 2.2-0.5zM204.5 266.3l4-0.4 3.6 1.1 4.4 3.2 1.9 4.8 -1.7 4 -4.2 1.4 -4-0.7 -4-3.7 -2.1-5 1-4z"/>
<path fill="#ff0600" d="M121.5 123l3 2.2 2.6 1.8 1.4 1 4 2.6 4 2.5 3.1 1.9 4.9 2.8 2.3 1.2 1.7 0.9 4 2 2.3 1.1 1.7 0.8 4 1.7 3.7 1.5 4.3 1.6 4 1.4 3.4 1 4.6 1.3 4 1 4 0.9 3.8 0.8 4.2 0.8 4 0.6 4 0.6 4 0.6 4 0.4 4 0.5 4 0.4 4 0.5 4 0.4 4 0.5 4 0.4 4 0.5 4 0.6 4 0.6 3.9 0.6 4.1 0.8 4 0.9 4 1.1 3.7 1.2 4.3 1.9 3.6 2.1 4.3 4 2.4 4 1.5 4 0.9 4 0.7 4 0.5 4 0.3 4 0.1 4 -0.1 4 -0.8 4 -1.4 2.6 -0.7 1.4 -3.2 4 -3.4 4 -3.2 4 -1.5 1.8 -1.7 2.2 -2.3 2.4 -1.8 1.6 -2.2 1.5 -4 1.9 -2 0.6 -2 0.4 -4 0.3 -4-0.2 -2.5-0.5 -5.5-1.4 -4-1.1 -4-0.8 -4-0.7 -4-0.6 -4-0.2 -4 0.2 -3 0.6 -5 1.9 -3.3 2.1 -4.3 4 -3 4 -1.4 2.4 -1.2 1.6 -2.8 3.9 -4 3.5 -4 2.6 -3.4 2 -4.6 2.5 -3 1.5 -5 2.2 -3.9 1.8 -4.1 2.1 -3.1 1.9 -4.9 3.7 -4 4 -3.2 4.3 -2.4 4 -1.8 4 -0.6 1.7 -0.7 2.3 -1 4 -0.7 4 -0.3 4 -0.1 4 0.2 4 0.3 4 0.5 4 0.6 4 0.7 4 0.5 3 0.7 5 0.5 4 0.5 4 0.3 4 0.3 4 0.3 4 0.1 4 0.1 4 0.1 4 0.1 4 -0.2 4 -0.2 4 -0.1 4 0 4 0 4 0.1 4 0 4 0.1 4 0.2 4 0.3 4 0.4 4 0.2 4 0.2 2.3 0.5 5.7 0.5 4 0.4 4 0.1 4 -0.3 4 -0.6 4 -0.6 2.6 -2.2 5.4 -1.8 2.5 -1.7 1.5 -2.3 1.7 -3.5 2.3 -4.5 3 -1.3 1 -2.7 2.2 -2.2 1.8 -1.8 1.4 0-357.4zM664.5 219l4-0.8 4-0.7 4-0.5 4-0.3 0 117.7 -1.6 0.6 -2.4 0.7 -4 0.4 -4 0.1 -4 0.1 -4 0 -4 0.1 -4-0.2 -4-0.6 -4-0.6 -4-1 -4-1.7 -2.2-1.3 -1.8-1.5 -2.5-2.5 -1.5-1.9 -1.4-2.1 -2.2-4 -1.9-4 -1.9-4 -0.6-1.4 -1-2.6 -1.5-4 -1.2-4 -0.9-4 -0.5-4 -0.2-4 0.1-4 0.3-4 0.4-4 0.3-4 0.2-2.1 0.2-1.9 0.5-4 1-4 1.3-4 1-2.7 2.2-5.3 1.8-3.2 3.2-4.8 3.2-4 1.6-1.7 2.6-2.3 1.4-1.2 4-2.6 4-2 4-1.7 4-1.4 4-1.2 4-1 3.9-0.9zM208.5 270.6l4-0.2 3.1 4.6 -3.1 2.7 -4-1.8 -0.5-4.9z"/>
<path fill="#f90000" d="M123.9 131l4.6 3.1 1.4 0.9 2.6 1.7 3.9 2.3 4.1 2.4 3 1.6 5 2.6 2.9 1.4 5.1 2.3 4 1.6 4 1.6 4 1.3 3.8 1.2 4.2 1.2 4 1 4 0.9 4 0.7 4 0.7 4 0.6 4 0.5 4 0.4 4 0.4 4 0.4 4 0.3 4 0.3 4 0.3 3 0.3 5 0.5 4 0.4 4 0.4 4 0.6 4 0.6 4 0.7 4 0.8 4 1.1 4 1.3 4 1.6 4 2.3 2.2 1.7 1.8 1.8 1.7 2.2 2.2 4 1.2 4 0.9 4 0.5 4 0.2 4 -0.1 4 -0.5 4 -1.3 4 -0.8 1.5 -1.1 2.5 -2.6 4 -2.7 4 -1.6 2.1 -1.2 1.9 -2.8 3.6 -4 3.8 -4 2.2 -4 1.3 -4 0.5 -4-0.2 -4-0.9 -4-1.1 -4-1.1 -4-1 -4-1 -4-0.8 -4-0.5 -4-0.1 -4 0.4 -4 1.1 -3.8 1.8 -4.2 2.9 -1.4 1.1 -2.6 2.7 -1.3 1.3 -2.7 3.3 -4 4.5 -4 3.5 -4 2.9 -2.8 1.8 -5.2 2.9 -2 1.1 -2 1 -4 2 -1.8 1 -2.2 1.1 -4 2.5 -4 2.9 -1.8 1.5 -2.2 2.1 -1.8 1.9 -2.2 2.7 -0.9 1.3 -2.5 4 -2 4 -1.5 4 -1.1 3.7 -0.9 4.3 -0.5 4 -0.2 4 0 4 0.2 4 0.4 4 0.5 4 0.5 2.8 0.9 5.2 0.7 4 0.7 4 0.6 4 0.5 4 0.5 4 0.4 4 0.3 4 0.2 4 0.2 4 0.2 4 0.1 4 -0.1 4 -0.2 4 0 4 0 4 0.2 4 0.1 4 -0.1 4 0.1 4 0.2 4 0.4 4 0.3 4 0.2 4 0.3 4 0.4 4 0.4 4 0.5 4 -0.1 4 -0.5 4 -0.8 4 -1.3 4 -1.3 2.8 -0.9 1.2 -3.1 2.9 -1.6 1.1 -2.4 1.5 -3.9 2.5 -4.1 3 -1.3 1 -2.7 2.2 0-348.6zM672.5 222.7l4-0.4 4-0.3 0 109 -4 2.3 -4 0.7 -4 0.2 -4 0.1 -4 0.1 -4 0 -4-0.3 -4-0.8 -4-0.9 -4-1.1 -4-2.4 -2.3-1.9 -1.7-1.8 -1.7-2.2 -2.3-3.4 -2.5-4.6 -1.5-2.7 -2.4-5.3 -1.6-3.9 -1.2-4.1 -0.9-4 -0.4-4 -0.1-4 0.2-4 0.6-4 0.7-4 0.6-4 0.5-3.5 0.9-4.5 1.2-4 1.6-4 1.7-4 2.2-4 2.6-4 1.8-2.4 1.4-1.6 2.6-2.7 1.5-1.3 2.5-1.9 3.5-2.1 4.5-2.2 4-1.5 4-1.2 4-1.1 4-0.9 4-0.8 2.3-0.3z"/>
<path fill="#ec0000" d="M124.5 137.8l1.9 1.2 2.1 1.4 4 2.5 4 2.4 3.1 1.7 4.9 2.6 2.8 1.4 5.2 2.5 3.7 1.5 4.3 1.7 4 1.4 2.8 0.9 5.2 1.5 4 1 4 0.9 3.3 0.6 4.7 0.8 4 0.5 4 0.4 4 0.4 4 0.2 4 0.3 4 0.2 4 0.1 4 0.2 4 0.2 4 0.3 4 0.2 4 0.4 4 0.4 4 0.6 4 0.6 4 0.8 4 0.9 1.8 0.5 2.2 0.7 4 1.6 3.4 1.7 4.6 3.6 3.3 4.4 1.8 4 1.2 4 0.6 4 0.2 4 -0.2 4 -0.7 4 -1.3 4 -0.9 2 -0.9 2 -2.1 4 -1 1.6 -1.4 2.4 -2.5 4 -3.2 4 -4.9 3.7 -4 1.5 -4 0.7 -4-0.1 -4-0.8 -3.6-1 -4.4-1.6 -4-1.1 -4-1.1 -4-1.1 -4-0.8 -4-0.4 -4 0 -4 0.7 -4 1.2 -4 2 -3.5 2.2 -4.5 3.8 -4 4 -4 3.8 -4 3.4 -1.2 1 -2.8 2 -3 2 -5 3 -1.7 1 -2.3 1.3 -4 2.3 -4 2.5 -2.7 1.9 -1.3 0.9 -3.7 3.1 -3.9 4 -3.2 4 -1.2 1.7 -1.4 2.3 -2.1 4 -1.6 4 -1.3 4 -0.9 4 -0.7 3.9 -0.4 4.1 -0.1 4 0 4 0.3 4 0.5 4 0.6 4 0.7 4 0.7 4 0.8 4 0.7 4 0.7 4 0.6 4 0.6 4 0.5 4 0.4 4 0.3 4 0.3 4 0.2 4 0.1 4 0 4 0 4 0 4 0.1 4 0.2 4 0.1 4 0 4 0.1 4 0.2 4 0.3 4 0.4 4 0.1 4 0.2 4 0.3 4 0.4 4 0.3 4 -0.1 4 -0.7 4 -1 4 -1.7 4 -2.7 3.6 -4 2.9 -2.5 1.5 -1.5 0.9 -4 2.7 -4 3.2 0-338.8zM660.5 229.9l4-0.9 4-0.7 4-0.5 4-0.3 4-0.2 0 99.7 -4 3.5 -1.9 0.5 -2.1 0.4 -4 0.3 -4 0.1 -4 0.1 -4-0.1 -4-0.4 -2.6-0.4 -5.4-1.6 -4-1.8 -4-3.2 -1.3-1.4 -2.7-3.3 -3.2-4.7 -2.4-4 -2.1-4 -1.7-4 -1.3-4 -0.8-4 -0.4-4 0-4 0.4-4 0.7-4 0.8-4 0.7-4 0.9-4 1.1-4 1.5-4 1.7-4 2.2-4 1.9-3.1 3.8-4.9 4.1-4 4.1-2.9 2-1.1 2-1.1 4-1.6 4-1.3z"/>
<path fill="#df0000" d="M122.5 143l2 1.4 4 2.6 4 2.4 2.7 1.6 1.3 0.8 4 2.2 2 1 2 1.1 4 1.9 2.2 1 1.8 0.8 4 1.7 4 1.4 4 1.4 4 1.2 4 1 2.1 0.5 1.9 0.4 4 0.8 4 0.6 4 0.4 4 0.4 4 0.2 4 0.2 4 0 4 0.1 4 0 4 0 4 0 4 0.1 4 0.1 4 0.2 4 0.3 2.7 0.2 5.3 0.7 4 0.6 4 0.9 4 1.1 2.1 0.7 1.9 0.8 4 2 1.8 1.2 2.2 1.8 2.1 2.2 1.9 2.8 2.1 5.2 0.9 4 0.3 4 -0.2 4 -0.7 4 -1.1 4 -1.3 3.2 -2.2 4.8 -1.8 3.5 -2.7 4.5 -1.3 1.6 -2.2 2.4 -1.8 1.3 -4 2.1 -2 0.6 -2 0.4 -4 0 -2.2-0.4 -1.8-0.4 -4-1.5 -4-1.4 -2.2-0.7 -1.8-0.7 -4-1.5 -4-1.2 -2.5-0.6 -5.5-1.2 -4-0.3 -4 0.2 -4 0.8 -1.8 0.5 -2.2 0.7 -4 1.8 -2.5 1.5 -1.5 1 -4 3 -4 3.4 -4 3.5 -1.3 1.1 -2.7 2.2 -2.3 1.8 -1.7 1.2 -4 2.8 -4 2.6 -2.1 1.4 -1.9 1.2 -4 2.7 -4 2.9 -1.5 1.2 -2.5 2.1 -2 1.9 -2 2 -1.8 2 -2.2 2.7 -0.9 1.3 -2.6 4 -2.2 4 -1.7 4 -0.6 1.7 -0.8 2.3 -1 4 -0.8 4 -0.5 4 -0.3 4 -0.1 4 0.2 4 0.3 4 0.5 4 0.7 4 0.7 4 0.8 4 0.8 4 0.8 4 0.8 4 0.7 4 0.6 4 0.6 3.8 0.5 4.2 0.4 4 0.4 4 0.2 4 0.2 4 0.1 4 0 4 0.1 4 0.1 4 0.2 4 0.2 4 0 4 0.1 4 0.2 4 0.3 4 0.4 4 0.2 4 0.2 4 0.2 3.7 0.3 4.3 0.2 4 -0.3 4 -0.9 4 -1.4 4 -1.9 3.5 -4 3.8 -4 2.4 -3.7 2.3 -4.3 3.4 0-327.4zM660.5 234.6l4-0.8 4-0.6 4-0.4 4-0.2 4-0.1 0 92.7 -4 1.7 -4 1.1 -4 0.6 -4 0.2 -4 0 -4-0.3 -4-0.6 -4-0.9 -4-1.7 -3.6-2.3 -4.1-4 -3.6-4 -3-4 -1.7-2.6 -0.8-1.4 -1.9-4 -1.3-3.8 -0.9-4.2 -0.4-4 0.1-4 0.4-4 0.8-4 0.9-4 0.9-4 1.1-4 1.1-3.2 2-4.8 2-3.7 2.7-4.3 1.3-1.8 1.8-2.2 2.2-2.4 1.9-1.6 2.1-1.7 3.8-2.3 4.2-1.9 4-1.4 2.6-0.7z"/>
<path fill="#d20000" d="M124 151l4.5 2.9 1.7 1.1 2.3 1.4 4 2.4 4 2.2 3.9 2 4.1 2.1 4 1.7 4 1.7 4 1.5 3.1 1 4.9 1.5 4 1 4 0.7 4 0.6 4 0.5 4 0.3 4 0.1 4 0 4-0.2 4-0.1 4-0.3 4-0.2 4-0.2 4-0.2 4-0.1 4 0 4 0 4 0.2 4 0.4 4 0.5 4 0.7 4 1 4 1.4 4 1.9 3.7 2.5 3.7 4 2.1 4 1.3 4 0.5 4 0 4 -0.6 4 -1 4 -1.4 4 -1.7 4 -1.9 4 -2.5 4 -2.2 2.4 -1.9 1.6 -2.1 1.2 -4 1.3 -4 0.2 -4-1 -4-1.4 -4-1.8 -4-1.6 -2.3-0.9 -1.7-0.8 -4-1.6 -4-1.2 -1.8-0.4 -2.2-0.6 -4-0.7 -4-0.2 -4 0.1 -4 0.7 -2.6 0.7 -5.4 2 -3.7 2 -4.3 2.9 -1.5 1.1 -2.5 1.9 -2.6 2.1 -1.4 1.2 -3.4 2.8 -4.6 3.6 -4 3.1 -1.7 1.3 -2.3 1.6 -3.1 2.4 -4.9 3.8 -4 3.4 -4 3.8 -4 4.4 -3.4 4.6 -2.5 4 -2.1 3.9 -1.8 4.1 -1.4 4 -0.8 2.6 -1.3 5.4 -0.6 4 -0.4 4 -0.1 4 0 4 0.2 4 0.4 4 0.6 4 0.6 4 0.6 2.8 1.1 5.2 0.8 4 0.9 4 0.8 4 0.4 1.7 0.4 2.3 0.7 4 0.7 4 0.6 4 0.5 4 0.4 4 0.3 4 0.3 4 0.1 2.3 0.2 5.7 0.1 4 0.1 4 0.3 4 0.1 4 0.1 4 0.1 4 0.2 4 0.3 4 0.3 4 0.2 4 0.1 4 0.2 4 0.1 4 0.1 4 -0.5 4 -1.1 4 -0.9 2.1 -1 1.9 -3 3.6 -4 2.9 -2.5 1.5 -1.5 0.9 -4 3 0-318.3zM664.5 238.4l4-0.4 4-0.3 4-0.1 4 0.1 0 81.3 -4 3.4 -1.6 0.6 -2.4 0.8 -4 0.8 -4 0.3 -4-0.1 -4-0.6 -4-0.9 -4-1.2 -4-1.9 -1.6-1.2 -2.4-1.6 -2.5-2.4 -1.5-1.3 -2.5-2.7 -1.5-1.8 -1.5-2.2 -2.3-4 -1.5-4 -1-4 -0.3-4 0.1-4 0.5-4 0.8-4 0.9-4 1.2-4 1.3-4 1.7-4 2.1-4 2-3.3 3.5-4.7 4-4 4.5-3.3 1.3-0.7 2.7-1.3 4-1.5 4-1z"/>
<path fill="#c60000" d="M124.5 158.8l4 2.7 2.4 1.5 1.6 1 4 2.5 4 2.3 4 2.2 4 2.1 4 1.9 4 1.8 4 1.6 1.7 0.6 2.3 0.9 4 1.2 4 1 4 0.8 4 0.5 4 0.3 4 0 4-0.2 4-0.5 4-0.5 4-0.6 4-0.6 4-0.7 4-0.6 4-0.5 4-0.4 2.2-0.1 5.8-0.2 4 0.1 4 0.3 4 0.6 4 0.8 4 1.3 2.8 1.1 5.2 3.3 4 4.5 1.9 4.2 1 4 0.2 4 -0.4 4 -0.8 4 -1.2 4 -0.7 2 -0.8 2 -1.8 4 -1.4 2.2 -1.3 1.8 -2.7 2.4 -2.9 1.6 -5.1 0.7 -3.5-0.7 -4.5-2.2 -4-1.8 -4-2.1 -4-1.9 -4-1.9 -4-1.5 -1.9-0.6 -2.1-0.8 -4-1.2 -4-0.8 -4-0.4 -4-0.1 -4 0.3 -4 0.8 -4 1.3 -1.8 0.9 -2.2 1.1 -4 2.5 -4 2.9 -1.9 1.5 -2.1 1.7 -2.6 2.3 -1.4 1.2 -3.1 2.8 -4.6 4 -4.3 3.8 -4 3.5 -4 3.7 -4 4 -4 4.5 -3.5 4.5 -2.8 4 -1.7 2.8 -2.7 5.2 -1.3 2.9 -1.9 5.1 -1.2 4 -0.9 4 -0.7 4 -0.5 4 -0.2 4 -0.1 4 0.1 4 0.3 4 0.5 4 0.6 4 0.7 4 0.8 4 0.9 4 0.9 4 0.7 2.9 1.1 5.1 0.9 4 0.8 4 0.7 4 0.5 2.8 0.8 5.2 0.4 4 0.5 4 0.3 4 0.2 4 0.2 4 0.1 4 0.3 4 0.2 4 0.2 4 0.1 4 0.2 4 0.2 4 0.3 4 0.2 4 0.2 4 0 4 0.1 4 0 4 -0.2 4 -0.3 2.1 -0.4 1.9 -1.6 4 -2 3.3 -4 3.8 -1.2 0.9 -2.8 1.8 -3.2 2.2 -0.8-4 0-303zM664.5 243l4-0.3 4-0.1 4 0.1 4 0.3 0 72 -4 2.7 -4 1.3 -4 1 -4 0.4 -4-0.4 -3.8-1 -4.2-0.9 -4-1 -4-1.8 -4-2.6 -2-1.7 -2-1.8 -1.9-2.2 -2.1-2.9 -2.4-5.1 -1.1-4 -0.4-4 0.1-4 0.5-4 0.9-4 1-4 1.3-4 1.7-4 2-4 2.5-4 1.9-2.7 1.1-1.3 2.9-3.2 4-3.3 2.6-1.5 1.4-0.8 4-1.5 4-1.1 4-0.6z"/>
<path fill="#b90000" d="M124.5 167l4 2.9 1.6 1.1 2.4 1.7 3.5 2.3 4.5 3.1 1.6 0.9 2.4 1.6 3.9 2.4 4.1 2.6 2.5 1.4 1.5 1 4 2.3 1.3 0.7 2.7 1.7 4 2.3 4 3 1.7 1 2.2 4 -1 4 -2.7 4 -3 4 -1.2 1.3 -2.1 2.7 -1.9 2.1 -1.4 1.9 -2.6 2.9 -4 4.7 -3.9 4.4 -3.5 4 -3.5 4 -1.1 1.2 -2.3 2.8 -1.7 2 -1.5 2 -2.5 3.3 -3.2 4.7 -0.8 1.3 -1.6 2.7 -2.2 4 -1.9 4 -1.6 4 -0.7 1.8 -0.7 2.2 -1.2 4 -1 4 -0.7 4 -0.4 3 0-129.9zM216.5 186.9l4-1.1 4-0.8 4-0.6 4-0.4 4 0 4 0.2 4 0.6 4 1 3.1 1.2 4.9 3 1.1 1 2.9 3.7 1.7 4.3 0.6 4 0 4 -0.6 4 -1 4 -0.7 2.3 -0.6 1.7 -1.9 4 -1.5 2.1 -1.9 1.9 -2.1 1.2 -4 0.7 -4-1 -2.1-0.9 -1.9-1.2 -4-2.3 -4-2.4 -3.8-2.1 -4.2-2.5 -3.2-1.5 -4.8-2.6 -3.1-1.4 -4.9-2.7 -2.9-1.3 -1.1-0.9 -4-2.6 -2.8-4.5 2.8-3.8 4-2.8 2-1.4 2-0.8 4-1.8 3.6-1.4zM652.5 250.9l4-1.7 4-1 4-0.6 4-0.1 4 0.1 4 0.3 4 0.5 0 62.6 -4 2.6 -4 1 -1.7 0.4 -2.3 0.6 -4 0.3 -4-0.4 -2.3-0.5 -1.7-0.3 -4-0.8 -4-1 -4-1.8 -4-2.7 -1.6-1.4 -2.4-2.5 -1.1-1.5 -2.3-4 -0.6-1.8 -0.6-2.2 -0.5-4 0.1-4 0.6-4 0.4-2 0.5-2 1.2-4 1.5-4 0.8-1.7 1.2-2.3 2.4-4 3-4 1.4-1.6 2.4-2.4 1.6-1.4 3.8-2.6zM121 319l0.6 4 0.8 4 0.9 4 0.9 4 1 4 0.9 4 1 4 0.9 4 0.5 2.1 0.4 1.9 0.8 4 0.7 4 0.7 4 0.5 4 0.5 4 0.4 3.7 0.3 4.3 0.3 4 0.2 4 0.2 4 0.3 4 0.2 4 0.1 4 0.2 4 0.2 4 0.2 4 0.3 4 0.1 4 0 4 -0.1 4 -0.1 4 -0.5 4 -1.1 4 -0.8 1.9 -1.2 2.1 -2.8 3.3 -4 3.2 -2 1.5 -2 1.4 0-145.3z"/>
<path fill="#ac0000" d="M122.7 175l1.8 1.6 3 2.4 4.7 4 4.3 3.7 4 3.8 4 4.1 3.5 4.4 2.2 4 1.2 4 0.2 4 -0.5 4 -1.3 4 -1.3 3 -2.4 5 -1.6 2.6 -0.8 1.4 -2.4 4 -2.5 4 -2.3 3.5 -2.7 4.5 -1.3 2 -1.1 2 -2.3 4 -2 4 -1.9 4 -0.7 1.5 -1 2.5 -1.5 4 -1.4 4 -0.1-4 0-96zM232.5 190.7l4-0.4 4 0.1 3.6 0.6 4.4 1.6 3.8 2.4 3.1 4 1.1 2.7 0.8 5.3 -0.3 4 -0.5 2.9 -1.8 5.1 -2.2 3.8 -4 1.7 -4-0.9 -4-2.5 -3.3-2.1 -4.7-3.4 -4-3.1 -2.1-1.5 -1.9-1.9 -2.3-2.1 -1.7-2.8 -0.8-1.2 -0.2-4 1-1.6 1.8-2.4 2.2-1.4 4-1.8 2.7-0.8zM656.5 253.9l4-1 4-0.5 4 0 4 0.4 4 0.5 4 0.8 0 52.9 -4 2.8 -4 1 -4 0.8 -4 0.3 -4-0.2 -4-0.6 -4-0.8 -4-1.2 -4-2 -4-3 -1-1.1 -3-3.9 -1.5-4.1 -0.6-4 0.2-4 0.6-4 0.9-4 1.4-4 1.9-4 1.1-2 1.3-2 2.7-3.7 4-4.3 4-3.1 1.7-0.9zM121.5 335l1 4 1 4 1 3.9 1 4.1 0.9 4 0.9 4 0.8 4 0.4 2 0.3 2 0.7 4 0.5 4 0.5 4 0.3 4 0.3 4 0.3 4 0.3 4 0.3 4 0.3 4 0.1 4 0.2 4 0.2 4 0.2 4 0.1 4 0.1 4 -0.1 4 -0.1 4 -0.4 4 -0.8 4 -1.6 4 -1.7 2.8 -0.9 1.2 -3.1 3 -1.2 1 -2.8 2.1 0-126.1z"/>
<path fill="#9f0000" d="M123.1 187l1.4 1.6 2.1 2.4 1.9 2.4 1.2 1.6 2.6 4 2.1 4 1.4 4 0.7 3.5 0.3 4.5 -0.3 3 -0.9 5 -1.1 4 -1.4 4 -1.6 4 -1.8 4 -1.2 2.7 -2.3 5.3 -1.7 3.8 -1.8 4.2 -1.6 4 -0.6 1.7 0-76.4zM240.5 202l4 0.9 2.3 4.1 -0.8 4 -1.5 1.1 -2.9-1.1 -3.8-4 0.4-4zM660.5 258l4-0.5 4 0.1 4 0.5 4 0.8 4 1.1 0 43 -4 2.8 -4 1.2 -4 0.7 -4 0.4 -4 0 -4-0.5 -2.9-0.6 -5.1-1.7 -3.9-2.3 -4.1-4 -2-4 -0.7-4 0.1-4 0.7-4 1.1-4 0.8-2.2 0.8-1.8 2.4-4 0.8-1.3 2.2-2.7 1.8-2 2.3-2 1.7-1.5 4-2.3zM120.8 343l1.1 4 1 4 1 4 0.6 2.4 1.2 5.6 0.8 4 0.7 4 0.6 4 0.6 4 0.4 4 0.4 4 0.3 4 0.3 4 0.3 4 0.3 4 0.2 4 0.1 4 0.2 4 0.2 4 0.1 4 0 4 -0.2 4 -0.4 4 -0.6 4 -1.1 4 -2.1 4 -2.3 2.9 -1 1.1 -3 2.6 0-110.6z"/>
<path fill="#930000" d="M121.8 203l1.6 4 1 4 0.6 4 0.2 4 -0.2 4 -0.5 3.7 -0.8 4.3 -1 4 -1.1 4 -1.1 3.5 0-42.2zM656.5 265.2l4-1.5 4-0.6 4 0.2 4 0.7 4 1.2 4 1.6 0 32.2 -4 2.5 -4 1.4 -4 0.9 -4 0.5 -4 0.1 -4-0.4 -4-1 -4-2 -2.7-2 -1.3-1.5 -1.6-2.5 -1.2-4 0-4 0.8-4 1.4-4 2.2-4 2.4-3.3 4-3.9zM121.3 355l1 4 0.9 4 0.9 4 0.4 1.9 0.4 2.1 0.6 4 0.6 4 0.5 4 0.5 4 0.4 4 0.3 4 0.4 4 0.3 4 0.2 4 0.1 4 0.2 4 0.1 4 0 4 -0.1 4 -0.3 4 -0.2 1.9 -0.3 2.1 -1 4 -1.6 4 -1.1 1.9 -1.4 2.1 -2.6 2.7 0-97.8z"/>
<path fill="#860000" d="M660.5 270.3l4-0.6 4 0.3 4 1 4 2.1 2.4 1.9 1.6 1.8 0 14.2 -2.7 4 -1.3 0.9 -4 2 -3 1.1 -5 0.9 -4 0.3 -4-0.3 -3-0.9 -5-3.8 -1.8-4.2 -0.2-4 0.9-4 1.1-2.4 0.9-1.6 3.1-3.9 4-3 2.4-1.1zM120.7 363l0.9 4 0.8 4 0.7 4 0.6 4 0.7 4 0.5 4 0.4 4 0.4 4 0.4 4 0.2 4 0.3 4 0.1 4 0.1 4 0 4 0 4 -0.2 4 -0.4 4 -0.8 4 -0.9 3.1 -2.4 4.9 -1.6 2.2 0-82.2z"/>
<path fill="#fff" d="M123.5 461H128V465.4H123.5zM123.5 456.8H131.6V461.1H123.5zM123.5 452.6H135.1V456.9H123.5zM123.5 448.3H138.6V452.7H123.5zM123.5 431.4H142.2V448.4H123.5zM123.5 393.3H138.6V431.5H123.5zM123.5 380.7H142.2V393.4H123.5zM123.5 372.2H145.7V380.8H123.5zM123.5 368H149.2V372.3H123.5zM123.5 355.3H152.8V368.1H123.5zM123.5 338.4H149.2V355.4H123.5zM123.5 334.1H145.7V338.5H123.5zM123.5 325.7H152.8V334.2H123.5zM123.5 317.2H149.2V325.8H123.5zM123.5 308.8H145.7V317.3H123.5zM123.5 304.5H149.2V308.9H123.5zM123.5 296.1H156.3V304.6H123.5zM123.5 291.8H159.9V296.2H123.5zM123.5 287.6H163.4V291.9H123.5zM123.5 283.4H166.9V287.7H123.5zM123.5 279.1H170.5V283.5H123.5zM123.5 274.9H174V279.2H123.5zM123.5 266.4H177.5V275H123.5zM123.5 262.2H181.1V266.6H123.5zM123.5 258H184.6V262.3H123.5zM123.5 253.8H188.1V258.1H123.5zM123.5 249.5H191.7V253.9H123.5zM123.5 245.3H195.2V249.6H123.5zM123.5 241.1H198.7V245.4H123.5zM123.5 236.8H202.3V241.2H123.5zM123.5 232.6H209.3V236.9H123.5zM123.5 228.4H216.4V232.7H123.5zM123.5 224.1H241.2V228.5H123.5zM123.5 219.9H273V224.2H123.5zM123.5 215.7H283.6V220H123.5zM123.5 186.1H287.1V215.8H123.5zM123.5 173.4H290.7V186.2H123.5zM123.5 164.9H294.2V173.5H123.5zM123.5 160.7H297.7V165H123.5zM123.5 156.5H301.3V160.8H123.5zM123.5 148H308.3V156.6H123.5zM123.5 122.6H304.8V148.1H123.5zM123.5 118.4H308.3V122.7H123.5zM123.5 109.9H311.9V118.5H123.5zM294.2 105.7H311.9V110H294.2zM123.5 101.5H287.1V110H123.5zM123.5 97.2H294.2V101.6H123.5zM123.5 93H297.7V97.3H123.5zM123.5 88.8H304.8V93.1H123.5zM123.5 84.6H311.9V88.9H123.5zM123.5 80.3H318.9V84.7H123.5zM123.5 76.1H326V80.4H123.5zM123.5 71.9H333.1V76.2H123.5zM123.5 67.6H336.6V72H123.5zM123.5 63.4H343.7V67.7H123.5zM123.5 59.2H350.8V63.5H123.5zM123.5 55H354.3V59.3H123.5z"/>
<path fill="none" stroke="#9c9c9e" stroke-width="1.3" stroke-dasharray="1.7 4.845" stroke-dashoffset="1.6" d="M195.2 562.6V55M265.9 562.6V55M336.6 562.6V55M407.3 562.6V55M478 562.6V55M548.7 562.6V55M619.4 562.6V55"/><path fill="none" stroke="#9c9c9e" stroke-width="1.3" stroke-dasharray="1.7 4.845" stroke-dashoffset="0.9" d="M124.5 528.8H676M124.5 444.2H676M124.5 359.6H676M124.5 275H676M124.5 190.4H676M124.5 105.8H676"/>
<path fill="none" stroke="#000" stroke-width="1" stroke-linejoin="round" d="M350 54 336.2 66.2 328.1 72.5 320 76.9 312.5 81.2 303.8 86.2 296.2 90.6 290.6 97.5 280 109.4 284.4 115 290 111.2 294 115 297.5 115 301.2 112.5 300 121.2 302.5 128.8 299.4 142.5 295.6 153.1 283.8 155 286 161.9 292.5 165 289.4 171.2 288.1 178.1 288.1 187 287.5 190 285 201.2 281.5 215 278.1 218.1 273.8 220.6 265 221 251.2 224 232.5 224 218 227.3 207.5 231.9 200 236.9 193.8 240.2 191.9 233.8 205 228.8 213.8 226.9 215.6 219.8 208.8 217.5 201.9 214.4 200.6 206.2 204.4 200.6 210.6 196.9 205 191.9 190.6 189 185 193.8 179.4 196.9 176.9 203.8 179.4 211.9 184.4 216.2 186.9 223.1 184.4 231.2 177.5 232.5 170.6 235.6 165.6 250.6 172.5 249.4 181.2 239.4 188.1 241.2 191.9 246.2 187.5 250.6 188.8 244 181.9 245.5 173.8 253.1 164.4 258.1 161.2 264.4 159.4 281.2 176.2 271.2 184.4 257.5 187.5 250.6M176.2 271.2 167.5 280 157.5 289.4 153.1 295.6 151.9 301.9 145 304.4 142.5 312.5 145 321.2 148.1 330 142.5 334.4 145 338.8 146.9 350 148.1 361.2 145 370 141.2 381.2 136.9 390.6 135.2 401.9 136 403.1 133.8 410.6 135.6 420 136.2 431.9 139.4 436.9 136.2 445 130 454.4 124.5 459.4M124.5 403.5 130.6 403.1 135.2 401.9M292.5 54 291 63.8 292.8 73.1 297.5 78.1 299.1 86.5 315.6 76.9 310 70.6 312.5 63.8 320.6 61.2 325.6 65.6 325 56.2 328.1 58.8 330.5 54M285 54 280.6 76.9 281 97.5 290.6 97.5M124.5 143.9 133.8 148.4 142.8 148.4 149.2 152 159 152 166.8 150 161.9 145.5 167.1 141 170.7 134.9 176.1 137.7 181.8 142.6 189.1 141 193.9 134.5 206.1 129.2 215.1 126.8 225.6 119.5 232.1 117.9 238.6 115.4 245.6 116.9 253.1 115.2 258.8 118.5 265.6 119.4 273.8 122.5 281.2 126.9 286.2 131.9 288.8 136.9 290 146.2 289 154"/>
</g>
<rect x="124.5" y="55" width="551.5" height="507.6" fill="none" stroke="#000" stroke-width="1.5"/>
<path fill="none" stroke="#000" stroke-width="1.6" d="M124.5 562.6v4M195.2 562.6v4M265.9 562.6v4M336.6 562.6v4M407.3 562.6v4M478 562.6v4M548.7 562.6v4M619.4 562.6v4M124.5 528.8h-4.5M124.5 444.2h-4.5M124.5 359.6h-4.5M124.5 275h-4.5M124.5 190.4h-4.5M124.5 105.8h-4.5"/><g font-size="13" font-weight="700" fill="#000"><text x="124.5" y="579.3" text-anchor="middle">28.5</text><text x="195.2" y="579.3" text-anchor="middle">29</text><text x="265.9" y="579.3" text-anchor="middle">29.5</text><text x="336.6" y="579.3" text-anchor="middle">30</text><text x="407.3" y="579.3" text-anchor="middle">30.5</text><text x="478" y="579.3" text-anchor="middle">31</text><text x="548.7" y="579.3" text-anchor="middle">31.5</text><text x="619.4" y="579.3" text-anchor="middle">32</text><text x="117.6" y="533.5" text-anchor="end">43</text><text x="117.6" y="448.9" text-anchor="end">43.5</text><text x="117.6" y="364.3" text-anchor="end">44</text><text x="117.6" y="279.7" text-anchor="end">44.5</text><text x="117.6" y="195.1" text-anchor="end">45</text><text x="117.6" y="110.5" text-anchor="end">45.5</text></g>
<rect x="709" y="62" width="14" height="494" fill="#000086"/><rect x="709" y="62" width="14" height="487.8" fill="#000093"/><rect x="709" y="62" width="14" height="481.6" fill="#00009f"/><rect x="709" y="62" width="14" height="475.5" fill="#0000ac"/><rect x="709" y="62" width="14" height="469.3" fill="#0000b9"/><rect x="709" y="62" width="14" height="463.1" fill="#0000c6"/><rect x="709" y="62" width="14" height="456.9" fill="#0000d2"/><rect x="709" y="62" width="14" height="450.8" fill="#0000df"/><rect x="709" y="62" width="14" height="444.6" fill="#0000ec"/><rect x="709" y="62" width="14" height="438.4" fill="#0000f9"/><rect x="709" y="62" width="14" height="432.2" fill="#0006ff"/><rect x="709" y="62" width="14" height="426.1" fill="#0013ff"/><rect x="709" y="62" width="14" height="419.9" fill="#0020ff"/><rect x="709" y="62" width="14" height="413.7" fill="#002dff"/><rect x="709" y="62" width="14" height="407.6" fill="#0039ff"/><rect x="709" y="62" width="14" height="401.4" fill="#0046ff"/><rect x="709" y="62" width="14" height="395.2" fill="#0053ff"/><rect x="709" y="62" width="14" height="389" fill="#0060ff"/><rect x="709" y="62" width="14" height="382.9" fill="#006cff"/><rect x="709" y="62" width="14" height="376.7" fill="#0079ff"/><rect x="709" y="62" width="14" height="370.5" fill="#0086ff"/><rect x="709" y="62" width="14" height="364.3" fill="#0093ff"/><rect x="709" y="62" width="14" height="358.1" fill="#009fff"/><rect x="709" y="62" width="14" height="352" fill="#00acff"/><rect x="709" y="62" width="14" height="345.8" fill="#00b9ff"/><rect x="709" y="62" width="14" height="339.6" fill="#00c6ff"/><rect x="709" y="62" width="14" height="333.5" fill="#00d2ff"/><rect x="709" y="62" width="14" height="327.3" fill="#00dfff"/><rect x="709" y="62" width="14" height="321.1" fill="#00ecff"/><rect x="709" y="62" width="14" height="314.9" fill="#00f9ff"/><rect x="709" y="62" width="14" height="308.8" fill="#06fff9"/><rect x="709" y="62" width="14" height="302.6" fill="#13ffec"/><rect x="709" y="62" width="14" height="296.4" fill="#20ffdf"/><rect x="709" y="62" width="14" height="290.2" fill="#2dffd2"/><rect x="709" y="62" width="14" height="284.1" fill="#39ffc6"/><rect x="709" y="62" width="14" height="277.9" fill="#46ffb9"/><rect x="709" y="62" width="14" height="271.7" fill="#53ffac"/><rect x="709" y="62" width="14" height="265.5" fill="#60ff9f"/><rect x="709" y="62" width="14" height="259.4" fill="#6cff93"/><rect x="709" y="62" width="14" height="253.2" fill="#79ff86"/><rect x="709" y="62" width="14" height="247" fill="#86ff79"/><rect x="709" y="62" width="14" height="240.8" fill="#93ff6c"/><rect x="709" y="62" width="14" height="234.7" fill="#9fff60"/><rect x="709" y="62" width="14" height="228.5" fill="#acff53"/><rect x="709" y="62" width="14" height="222.3" fill="#b9ff46"/><rect x="709" y="62" width="14" height="216.1" fill="#c6ff39"/><rect x="709" y="62" width="14" height="209.9" fill="#d2ff2d"/><rect x="709" y="62" width="14" height="203.8" fill="#dfff20"/><rect x="709" y="62" width="14" height="197.6" fill="#ecff13"/><rect x="709" y="62" width="14" height="191.4" fill="#f9ff06"/><rect x="709" y="62" width="14" height="185.2" fill="#fff900"/><rect x="709" y="62" width="14" height="179.1" fill="#ffec00"/><rect x="709" y="62" width="14" height="172.9" fill="#ffdf00"/><rect x="709" y="62" width="14" height="166.7" fill="#ffd200"/><rect x="709" y="62" width="14" height="160.6" fill="#ffc600"/><rect x="709" y="62" width="14" height="154.4" fill="#ffb900"/><rect x="709" y="62" width="14" height="148.2" fill="#ffac00"/><rect x="709" y="62" width="14" height="142" fill="#ff9f00"/><rect x="709" y="62" width="14" height="135.9" fill="#ff9300"/><rect x="709" y="62" width="14" height="129.7" fill="#ff8600"/><rect x="709" y="62" width="14" height="123.5" fill="#ff7900"/><rect x="709" y="62" width="14" height="117.3" fill="#ff6c00"/><rect x="709" y="62" width="14" height="111.2" fill="#ff6000"/><rect x="709" y="62" width="14" height="105" fill="#ff5300"/><rect x="709" y="62" width="14" height="98.8" fill="#ff4600"/><rect x="709" y="62" width="14" height="92.6" fill="#ff3900"/><rect x="709" y="62" width="14" height="86.4" fill="#ff2d00"/><rect x="709" y="62" width="14" height="80.3" fill="#ff2000"/><rect x="709" y="62" width="14" height="74.1" fill="#ff1300"/><rect x="709" y="62" width="14" height="67.9" fill="#ff0600"/><rect x="709" y="62" width="14" height="61.8" fill="#f90000"/><rect x="709" y="62" width="14" height="55.6" fill="#ec0000"/><rect x="709" y="62" width="14" height="49.4" fill="#df0000"/><rect x="709" y="62" width="14" height="43.2" fill="#d20000"/><rect x="709" y="62" width="14" height="37.1" fill="#c60000"/><rect x="709" y="62" width="14" height="30.9" fill="#b90000"/><rect x="709" y="62" width="14" height="24.7" fill="#ac0000"/><rect x="709" y="62" width="14" height="18.5" fill="#9f0000"/><rect x="709" y="62" width="14" height="12.4" fill="#930000"/><rect x="709" y="62" width="14" height="6.2" fill="#860000"/><g font-size="15" fill="#000"><text x="734.6" y="73" textLength="29.6" lengthAdjust="spacingAndGlyphs">0.44</text><text x="734.6" y="189" textLength="29.6" lengthAdjust="spacingAndGlyphs">0.38</text><text x="734.6" y="311" textLength="29.6" lengthAdjust="spacingAndGlyphs">0.31</text><text x="734.6" y="433" textLength="29.6" lengthAdjust="spacingAndGlyphs">0.25</text><text x="734.6" y="555.5" textLength="29.6" lengthAdjust="spacingAndGlyphs">0.19</text></g>
<g font-size="26.5" fill="#000" stroke="#fff" stroke-width="0.3" paint-order="fill stroke"><text x="61.2" y="42.8" textLength="40" lengthAdjust="spacingAndGlyphs">Sea</text><text x="115" y="42.8" textLength="55" lengthAdjust="spacingAndGlyphs">Level</text><text x="186.2" y="42.8" textLength="57.5" lengthAdjust="spacingAndGlyphs">(cm).</text><text x="261.2" y="42.8" textLength="48.2" lengthAdjust="spacingAndGlyphs">Date</text><text x="325" y="42.8" textLength="135" lengthAdjust="spacingAndGlyphs">2024.05.14.</text><text x="475" y="42.8" textLength="50" lengthAdjust="spacingAndGlyphs">Time</text><text x="542.5" y="42.8" textLength="138.5" lengthAdjust="spacingAndGlyphs">00(h):00(m)</text><text x="697" y="42.8" textLength="42" lengthAdjust="spacingAndGlyphs">GMT</text></g>
<g font-size="23.3" fill="#555"><text x="147" y="109.4" textLength="11.2" lengthAdjust="spacingAndGlyphs">Z</text><text x="175.8" y="109.4" textLength="13.6" lengthAdjust="spacingAndGlyphs">=</text><text x="207" y="109.4" textLength="33" lengthAdjust="spacingAndGlyphs">2.5</text><text x="257" y="109.4" textLength="17" lengthAdjust="spacingAndGlyphs">m</text></g>
<g font-size="20.5" fill="#000"><text x="323.5" y="605.6" textLength="87" lengthAdjust="spacingAndGlyphs">Longitude</text><text x="422.3" y="605.6" textLength="54" lengthAdjust="spacingAndGlyphs">(East)</text><g transform="translate(82.6 382) rotate(-90)"><text x="0" y="0" textLength="66.5" lengthAdjust="spacingAndGlyphs">Latitude</text><text x="82.5" y="0" textLength="65" lengthAdjust="spacingAndGlyphs">(North)</text></g></g>
</svg>
</body></html>
